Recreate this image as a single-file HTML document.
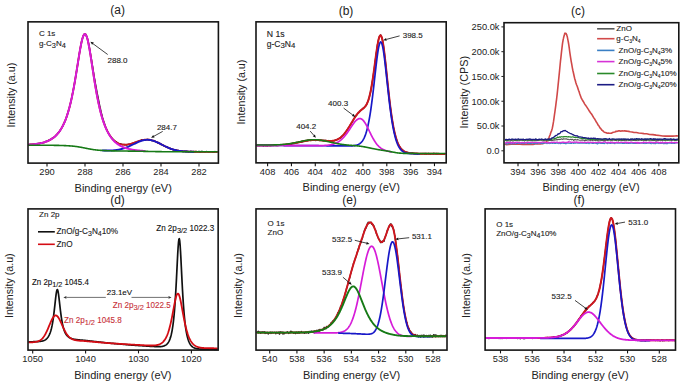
<!DOCTYPE html>
<html><head><meta charset="utf-8"><style>
html,body{margin:0;padding:0;background:#fff;}
svg{display:block;font-family:"Liberation Sans", sans-serif;}
</style></head><body>
<svg width="685" height="386" viewBox="0 0 685 386">
<rect width="685" height="386" fill="#fff"/>
<polyline points="28.50,145.04 29.00,144.74 29.50,144.64 30.00,144.22 30.50,144.50 31.00,144.44 31.50,144.46 32.00,144.31 32.50,144.38 33.00,144.25 33.50,144.03 34.00,144.42 34.50,144.36 35.00,144.47 35.50,144.07 36.00,143.92 36.50,143.82 37.00,143.55 37.50,143.98 38.00,143.48 38.50,143.38 39.00,143.49 39.50,143.74 40.00,143.39 40.50,143.03 41.00,142.99 41.50,143.14 42.00,142.86 42.50,142.62 43.00,142.59 43.50,142.65 44.00,142.75 44.50,141.95 45.00,141.91 45.50,141.71 46.00,141.21 46.50,141.32 47.00,141.10 47.50,141.32 48.00,140.85 48.50,140.33 49.00,140.54 49.50,140.09 50.00,139.55 50.50,139.50 51.00,139.21 51.50,138.84 52.00,138.70 52.50,137.90 53.00,137.94 53.50,137.82 54.00,137.40 54.50,137.04 55.00,136.60 55.50,136.22 56.00,135.22 56.50,135.11 57.00,134.03 57.50,133.73 58.00,132.88 58.50,132.86 59.00,132.27 59.50,131.28 60.00,130.96 60.50,129.71 61.00,129.09 61.50,128.25 62.00,127.13 62.50,126.51 63.00,125.84 63.50,124.23 64.00,123.54 64.50,122.20 65.00,121.40 65.50,119.90 66.00,118.62 66.50,117.24 67.00,115.71 67.50,113.86 68.00,112.81 68.50,110.58 69.00,109.14 69.50,107.36 70.00,105.13 70.50,103.30 71.00,101.38 71.50,98.92 72.00,96.43 72.50,93.60 73.00,91.48 73.50,88.94 74.00,86.25 74.50,83.36 75.00,80.75 75.50,77.60 76.00,74.66 76.50,71.74 77.00,68.31 77.50,65.27 78.00,62.60 78.50,59.21 79.00,55.69 79.50,52.91 80.00,50.13 80.50,47.49 81.00,44.68 81.50,42.16 82.00,39.97 82.50,38.38 83.00,36.76 83.50,35.37 84.00,34.57 84.50,34.03 85.00,34.15 85.50,34.14 86.00,35.03 86.50,36.12 87.00,37.41 87.50,38.83 88.00,41.25 88.50,43.07 89.00,45.75 89.50,48.15 90.00,50.74 90.50,54.03 91.00,57.02 91.50,59.98 92.00,63.10 92.50,65.98 93.00,69.01 93.50,72.14 94.00,75.54 94.50,78.26 95.00,80.88 95.50,83.94 96.00,86.52 96.50,89.27 97.00,92.22 97.50,94.57 98.00,96.92 98.50,99.60 99.00,102.25 99.50,104.65 100.00,107.20 100.50,109.05 101.00,111.50 101.50,113.51 102.00,115.38 102.50,117.46 103.00,119.19 103.50,120.62 104.00,122.61 104.50,123.67 105.00,125.35 105.50,126.68 106.00,128.02 106.50,128.97 107.00,130.22 107.50,131.24 108.00,132.44 108.50,133.00 109.00,134.04 109.50,134.79 110.00,135.35 110.50,136.87 111.00,137.00 111.50,137.36 112.00,138.54 112.50,138.61 113.00,139.43 113.50,140.03 114.00,140.20 114.50,140.69 115.00,141.08 115.50,141.55 116.00,141.61 116.50,142.03 117.00,142.56 117.50,143.08 118.00,143.26 118.50,143.72 119.00,143.73 119.50,143.69 120.00,143.95 120.50,143.72 121.00,144.08 121.50,144.19 122.00,144.55 122.50,144.71 123.00,144.53 123.50,144.58 124.00,144.42 124.50,144.72 125.00,144.80 125.50,144.82 126.00,144.55 126.50,145.06 127.00,144.85 127.50,144.53 128.00,144.36 128.50,144.31 129.00,144.31 129.50,144.16 130.00,144.14 130.50,144.06 131.00,144.04 131.50,143.85 132.00,143.45 132.50,143.39 133.00,143.07 133.50,142.86 134.00,143.18 134.50,142.53 135.00,142.84 135.50,142.19 136.00,142.13 136.50,142.12 137.00,141.72 137.50,141.62 138.00,141.32 138.50,141.10 139.00,140.99 139.50,140.74 140.00,141.04 140.50,140.53 141.00,140.77 141.50,139.75 142.00,140.17 142.50,140.16 143.00,139.89 143.50,140.08 144.00,139.90 144.50,139.65 145.00,139.74 145.50,140.17 146.00,139.63 146.50,139.62 147.00,139.47 147.50,139.59 148.00,139.33 148.50,139.59 149.00,140.17 149.50,139.96 150.00,139.96 150.50,140.14 151.00,140.40 151.50,140.26 152.00,140.69 152.50,140.64 153.00,140.61 153.50,141.09 154.00,140.45 154.50,141.00 155.00,141.36 155.50,141.33 156.00,141.70 156.50,141.82 157.00,142.05 157.50,142.96 158.00,142.78 158.50,142.89 159.00,143.42 159.50,143.36 160.00,143.84 160.50,143.99 161.00,144.51 161.50,144.16 162.00,144.86 162.50,144.99 163.00,144.99 163.50,145.69 164.00,145.56 164.50,146.31 165.00,146.33 165.50,146.61 166.00,146.73 166.50,147.13 167.00,146.81 167.50,147.42 168.00,147.50 168.50,147.89 169.00,148.03 169.50,148.37 170.00,148.27 170.50,148.99 171.00,149.27 171.50,148.94 172.00,149.14 172.50,149.37 173.00,149.71 173.50,149.99 174.00,149.51 174.50,149.76 175.00,149.80 175.50,149.91 176.00,149.92 176.50,150.43 177.00,150.23 177.50,150.86 178.00,150.83 178.50,150.53 179.00,150.61 179.50,150.77 180.00,151.24 180.50,150.86 181.00,150.79 181.50,151.14 182.00,151.28 182.50,151.12 183.00,151.62 183.50,151.39 184.00,151.47 184.50,151.25 185.00,151.45 185.50,151.45 186.00,151.06 186.50,151.60 187.00,151.21 187.50,151.58 188.00,151.31 188.50,152.03 189.00,151.71 189.50,151.83 190.00,151.86 190.50,151.42 191.00,151.24 191.50,151.64 192.00,151.90 192.50,151.75 193.00,151.89 193.50,151.93 194.00,151.45 194.50,151.81 195.00,152.15 195.50,151.65 196.00,151.36 196.50,151.73 197.00,151.68 197.50,151.86 198.00,151.60 198.50,151.80 199.00,151.34 199.50,151.96 200.00,152.11 200.50,152.05 201.00,151.49 201.50,151.86 202.00,151.20 202.50,151.85 203.00,151.78 203.50,151.60 204.00,151.86 204.50,151.82 205.00,151.99 205.50,151.82 206.00,151.84 206.50,151.41 207.00,151.57 207.50,151.70 208.00,151.86 208.50,151.80 209.00,152.10 209.50,151.63 210.00,151.75 210.50,151.85 211.00,151.75 211.50,151.90 212.00,151.69 212.50,152.08 213.00,151.74 213.50,152.02 214.00,151.79 214.50,152.10 215.00,151.52 215.50,151.90 216.00,151.71 216.50,151.85 217.00,152.04 217.50,151.57" fill="none" stroke="#111111" stroke-width="1.4" stroke-linejoin="round" /><polyline points="28.50,144.69 29.00,144.66 29.50,144.62 30.00,144.59 30.50,144.55 31.00,144.52 31.50,144.48 32.00,144.43 32.50,144.39 33.00,144.34 33.50,144.29 34.00,144.24 34.50,144.18 35.00,144.12 35.50,144.06 36.00,144.00 36.50,143.93 37.00,143.86 37.50,143.78 38.00,143.70 38.50,143.62 39.00,143.53 39.50,143.44 40.00,143.34 40.50,143.24 41.00,143.13 41.50,143.02 42.00,142.90 42.50,142.77 43.00,142.64 43.50,142.50 44.00,142.35 44.50,142.20 45.00,142.04 45.50,141.87 46.00,141.69 46.50,141.50 47.00,141.31 47.50,141.10 48.00,140.88 48.50,140.65 49.00,140.41 49.50,140.16 50.00,139.89 50.50,139.62 51.00,139.32 51.50,139.02 52.00,138.69 52.50,138.35 53.00,138.00 53.50,137.62 54.00,137.23 54.50,136.81 55.00,136.38 55.50,135.92 56.00,135.44 56.50,134.94 57.00,134.41 57.50,133.85 58.00,133.26 58.50,132.65 59.00,132.00 59.50,131.32 60.00,130.60 60.50,129.85 61.00,129.06 61.50,128.22 62.00,127.35 62.50,126.43 63.00,125.46 63.50,124.44 64.00,123.36 64.50,122.24 65.00,121.05 65.50,119.80 66.00,118.49 66.50,117.11 67.00,115.66 67.50,114.14 68.00,112.54 68.50,110.85 69.00,109.09 69.50,107.24 70.00,105.30 70.50,103.27 71.00,101.14 71.50,98.92 72.00,96.60 72.50,94.19 73.00,91.67 73.50,89.06 74.00,86.35 74.50,83.56 75.00,80.67 75.50,77.71 76.00,74.69 76.50,71.60 77.00,68.48 77.50,65.33 78.00,62.17 78.50,59.04 79.00,55.95 79.50,52.93 80.00,50.02 80.50,47.25 81.00,44.65 81.50,42.27 82.00,40.13 82.50,38.26 83.00,36.71 83.50,35.50 84.00,34.64 84.50,34.16 85.00,34.07 85.50,34.37 86.00,35.06 86.50,36.12 87.00,37.53 87.50,39.29 88.00,41.35 88.50,43.68 89.00,46.26 89.50,49.04 90.00,51.99 90.50,55.07 91.00,58.25 91.50,61.51 92.00,64.80 92.50,68.11 93.00,71.40 93.50,74.66 94.00,77.88 94.50,81.04 95.00,84.12 95.50,87.12 96.00,90.02 96.50,92.83 97.00,95.55 97.50,98.16 98.00,100.66 98.50,103.07 99.00,105.37 99.50,107.57 100.00,109.67 100.50,111.68 101.00,113.60 101.50,115.42 102.00,117.16 102.50,118.81 103.00,120.38 103.50,121.88 104.00,123.30 104.50,124.65 105.00,125.93 105.50,127.15 106.00,128.30 106.50,129.40 107.00,130.44 107.50,131.43 108.00,132.36 108.50,133.25 109.00,134.09 109.50,134.89 110.00,135.64 110.50,136.35 111.00,137.03 111.50,137.66 112.00,138.26 112.50,138.83 113.00,139.36 113.50,139.86 114.00,140.34 114.50,140.78 115.00,141.19 115.50,141.58 116.00,141.94 116.50,142.27 117.00,142.58 117.50,142.87 118.00,143.13 118.50,143.38 119.00,143.60 119.50,143.79 120.00,143.97 120.50,144.13 121.00,144.27 121.50,144.39 122.00,144.49 122.50,144.58 123.00,144.64 123.50,144.69 124.00,144.73 124.50,144.74 125.00,144.75 125.50,144.73 126.00,144.71 126.50,144.67 127.00,144.61 127.50,144.55 128.00,144.47 128.50,144.38 129.00,144.28 129.50,144.16 130.00,144.04 130.50,143.91 131.00,143.77 131.50,143.62 132.00,143.47 132.50,143.31 133.00,143.14 133.50,142.97 134.00,142.80 134.50,142.62 135.00,142.44 135.50,142.26 136.00,142.08 136.50,141.90 137.00,141.72 137.50,141.54 138.00,141.37 138.50,141.19 139.00,141.03 139.50,140.87 140.00,140.71 140.50,140.56 141.00,140.42 141.50,140.29 142.00,140.17 142.50,140.05 143.00,139.95 143.50,139.86 144.00,139.78 144.50,139.71 145.00,139.65 145.50,139.61 146.00,139.58 146.50,139.56 147.00,139.56 147.50,139.57 148.00,139.59 148.50,139.63 149.00,139.68 149.50,139.75 150.00,139.83 150.50,139.92 151.00,140.03 151.50,140.15 152.00,140.28 152.50,140.42 153.00,140.58 153.50,140.74 154.00,140.92 154.50,141.11 155.00,141.31 155.50,141.51 156.00,141.73 156.50,141.95 157.00,142.18 157.50,142.42 158.00,142.66 158.50,142.90 159.00,143.15 159.50,143.41 160.00,143.66 160.50,143.92 161.00,144.18 161.50,144.44 162.00,144.70 162.50,144.96 163.00,145.22 163.50,145.48 164.00,145.73 164.50,145.98 165.00,146.23 165.50,146.47 166.00,146.71 166.50,146.95 167.00,147.18 167.50,147.40 168.00,147.62 168.50,147.84 169.00,148.04 169.50,148.24 170.00,148.44 170.50,148.62 171.00,148.81 171.50,148.98 172.00,149.15 172.50,149.31 173.00,149.46 173.50,149.61 174.00,149.75 174.50,149.88 175.00,150.01 175.50,150.13 176.00,150.25 176.50,150.36 177.00,150.46 177.50,150.56 178.00,150.65 178.50,150.73 179.00,150.81 179.50,150.89 180.00,150.96 180.50,151.03 181.00,151.09 181.50,151.15 182.00,151.20 182.50,151.25 183.00,151.30 183.50,151.34 184.00,151.38 184.50,151.42 185.00,151.45 185.50,151.49 186.00,151.51 186.50,151.54 187.00,151.57 187.50,151.59 188.00,151.61 188.50,151.63 189.00,151.64 189.50,151.66 190.00,151.67 190.50,151.69 191.00,151.70 191.50,151.71 192.00,151.72 192.50,151.73 193.00,151.74 193.50,151.74 194.00,151.75 194.50,151.75 195.00,151.76 195.50,151.76 196.00,151.77 196.50,151.77 197.00,151.78 197.50,151.78 198.00,151.78 198.50,151.78 199.00,151.79 199.50,151.79 200.00,151.79 200.50,151.79 201.00,151.79 201.50,151.79 202.00,151.79 202.50,151.79 203.00,151.79 203.50,151.80 204.00,151.80 204.50,151.80 205.00,151.80 205.50,151.80 206.00,151.80 206.50,151.80 207.00,151.80 207.50,151.80 208.00,151.80 208.50,151.80 209.00,151.80 209.50,151.80 210.00,151.80 210.50,151.80 211.00,151.80 211.50,151.80 212.00,151.80 212.50,151.80 213.00,151.80 213.50,151.80 214.00,151.80 214.50,151.80 215.00,151.80 215.50,151.80 216.00,151.80 216.50,151.80 217.00,151.80 217.50,151.80" fill="none" stroke="#d0161e" stroke-width="1.8" stroke-linejoin="round" /><polyline points="102.00,150.39 102.50,150.42 103.00,150.44 103.50,150.46 104.00,150.47 104.50,150.49 105.00,150.50 105.50,150.51 106.00,150.52 106.50,150.52 107.00,150.53 107.50,150.53 108.00,150.52 108.50,150.52 109.00,150.51 109.50,150.50 110.00,150.49 110.50,150.47 111.00,150.45 111.50,150.43 112.00,150.40 112.50,150.37 113.00,150.33 113.50,150.30 114.00,150.25 114.50,150.21 115.00,150.16 115.50,150.10 116.00,150.04 116.50,149.97 117.00,149.90 117.50,149.83 118.00,149.74 118.50,149.66 119.00,149.56 119.50,149.46 120.00,149.36 120.50,149.25 121.00,149.13 121.50,149.01 122.00,148.88 122.50,148.74 123.00,148.59 123.50,148.44 124.00,148.29 124.50,148.12 125.00,147.95 125.50,147.78 126.00,147.59 126.50,147.40 127.00,147.21 127.50,147.01 128.00,146.80 128.50,146.59 129.00,146.37 129.50,146.15 130.00,145.92 130.50,145.69 131.00,145.46 131.50,145.22 132.00,144.98 132.50,144.74 133.00,144.50 133.50,144.26 134.00,144.01 134.50,143.77 135.00,143.53 135.50,143.29 136.00,143.05 136.50,142.81 137.00,142.58 137.50,142.36 138.00,142.14 138.50,141.92 139.00,141.71 139.50,141.51 140.00,141.32 140.50,141.14 141.00,140.97 141.50,140.80 142.00,140.65 142.50,140.51 143.00,140.38 143.50,140.26 144.00,140.16 144.50,140.07 145.00,139.99 145.50,139.93 146.00,139.88 146.50,139.84 147.00,139.82 147.50,139.82 148.00,139.83 148.50,139.85 149.00,139.89 149.50,139.94 150.00,140.01 150.50,140.09 151.00,140.19 151.50,140.30 152.00,140.42 152.50,140.55 153.00,140.70 153.50,140.86 154.00,141.03 154.50,141.21 155.00,141.40 155.50,141.60 156.00,141.81 156.50,142.03 157.00,142.25 157.50,142.48 158.00,142.72 158.50,142.96 159.00,143.21 159.50,143.46 160.00,143.71 160.50,143.97 161.00,144.22 161.50,144.48 162.00,144.74 162.50,145.00 163.00,145.25 163.50,145.51 164.00,145.76 164.50,146.01 165.00,146.25 165.50,146.50 166.00,146.73 166.50,146.97 167.00,147.20 167.50,147.42 168.00,147.64 168.50,147.85 169.00,148.06 169.50,148.26 170.00,148.45 170.50,148.64 171.00,148.82 171.50,148.99 172.00,149.16 172.50,149.32 173.00,149.47 173.50,149.62 174.00,149.76 174.50,149.89 175.00,150.02 175.50,150.14 176.00,150.25 176.50,150.36 177.00,150.46 177.50,150.56 178.00,150.65 178.50,150.74 179.00,150.82 179.50,150.89 180.00,150.96 180.50,151.03 181.00,151.09 181.50,151.15 182.00,151.20 182.50,151.25 183.00,151.30 183.50,151.34 184.00,151.38 184.50,151.42 185.00,151.45 185.50,151.49 186.00,151.52 186.50,151.54 187.00,151.57 187.50,151.59 188.00,151.61 188.50,151.63 189.00,151.64 189.50,151.66 190.00,151.67 190.50,151.69 191.00,151.70 191.50,151.71 192.00,151.72 192.50,151.73 193.00,151.74 193.50,151.74 194.00,151.75" fill="none" stroke="#1818c8" stroke-width="1.9" stroke-linejoin="round" /><polyline points="28.50,144.69 29.00,144.66 29.50,144.62 30.00,144.59 30.50,144.55 31.00,144.52 31.50,144.48 32.00,144.43 32.50,144.39 33.00,144.34 33.50,144.29 34.00,144.24 34.50,144.18 35.00,144.12 35.50,144.06 36.00,144.00 36.50,143.93 37.00,143.86 37.50,143.78 38.00,143.70 38.50,143.62 39.00,143.53 39.50,143.44 40.00,143.34 40.50,143.24 41.00,143.13 41.50,143.02 42.00,142.90 42.50,142.77 43.00,142.64 43.50,142.50 44.00,142.35 44.50,142.20 45.00,142.04 45.50,141.87 46.00,141.69 46.50,141.50 47.00,141.31 47.50,141.10 48.00,140.88 48.50,140.65 49.00,140.41 49.50,140.16 50.00,139.89 50.50,139.62 51.00,139.32 51.50,139.02 52.00,138.69 52.50,138.35 53.00,138.00 53.50,137.62 54.00,137.23 54.50,136.81 55.00,136.38 55.50,135.92 56.00,135.44 56.50,134.94 57.00,134.41 57.50,133.85 58.00,133.26 58.50,132.65 59.00,132.00 59.50,131.32 60.00,130.60 60.50,129.85 61.00,129.06 61.50,128.22 62.00,127.35 62.50,126.43 63.00,125.46 63.50,124.44 64.00,123.36 64.50,122.24 65.00,121.05 65.50,119.80 66.00,118.49 66.50,117.11 67.00,115.66 67.50,114.14 68.00,112.54 68.50,110.85 69.00,109.09 69.50,107.24 70.00,105.30 70.50,103.27 71.00,101.14 71.50,98.92 72.00,96.60 72.50,94.19 73.00,91.67 73.50,89.06 74.00,86.35 74.50,83.56 75.00,80.67 75.50,77.71 76.00,74.69 76.50,71.60 77.00,68.48 77.50,65.33 78.00,62.17 78.50,59.04 79.00,55.95 79.50,52.93 80.00,50.02 80.50,47.25 81.00,44.65 81.50,42.27 82.00,40.13 82.50,38.26 83.00,36.71 83.50,35.50 84.00,34.64 84.50,34.16 85.00,34.07 85.50,34.37 86.00,35.06 86.50,36.12 87.00,37.54 87.50,39.29 88.00,41.35 88.50,43.68 89.00,46.26 89.50,49.04 90.00,51.99 90.50,55.07 91.00,58.26 91.50,61.51 92.00,64.80 92.50,68.11 93.00,71.41 93.50,74.67 94.00,77.89 94.50,81.05 95.00,84.13 95.50,87.13 96.00,90.04 96.50,92.85 97.00,95.56 97.50,98.17 98.00,100.68 98.50,103.09 99.00,105.40 99.50,107.60 100.00,109.71 100.50,111.72 101.00,113.64 101.50,115.47 102.00,117.21 102.50,118.87 103.00,120.45 103.50,121.96 104.00,123.39 104.50,124.75 105.00,126.04 105.50,127.27 106.00,128.44 106.50,129.55 107.00,130.61 107.50,131.61 108.00,132.57 108.50,133.48 109.00,134.34 109.50,135.16 110.00,135.95 110.50,136.69 111.00,137.40 111.50,138.07 112.00,138.71 112.50,139.32 113.00,139.89 113.50,140.44 114.00,140.97 114.50,141.47 115.00,141.94 115.50,142.39 116.00,142.82 116.50,143.23 117.00,143.62 117.50,143.99 118.00,144.34 118.50,144.68 119.00,145.00 119.50,145.30 120.00,145.59 120.50,145.87 121.00,146.13 121.50,146.38 122.00,146.62 122.50,146.85 123.00,147.07 123.50,147.27 124.00,147.47 124.50,147.66 125.00,147.83 125.50,148.00 126.00,148.17 126.50,148.32 127.00,148.47 127.50,148.61 128.00,148.74 128.50,148.87 129.00,148.99 129.50,149.11 130.00,149.22 130.50,149.32 131.00,149.43 131.50,149.52 132.00,149.61 132.50,149.70 133.00,149.79 133.50,149.87 134.00,149.94 134.50,150.02 135.00,150.09 135.50,150.15 136.00,150.22 136.50,150.28 137.00,150.34 137.50,150.40 138.00,150.45 138.50,150.50 139.00,150.55 139.50,150.60 140.00,150.65 140.50,150.69 141.00,150.73 141.50,150.77 142.00,150.81 142.50,150.85 143.00,150.89 143.50,150.92 144.00,150.96 144.50,150.99 145.00,151.02 145.50,151.05" fill="none" stroke="#d61cd8" stroke-width="2.0" stroke-linejoin="round" /><polyline points="28.50,145.20 29.00,145.20 29.50,145.20 30.00,145.20 30.50,145.20 31.00,145.20 31.50,145.20 32.00,145.20 32.50,145.20 33.00,145.21 33.50,145.21 34.00,145.21 34.50,145.21 35.00,145.21 35.50,145.21 36.00,145.21 36.50,145.21 37.00,145.21 37.50,145.21 38.00,145.22 38.50,145.22 39.00,145.22 39.50,145.22 40.00,145.22 40.50,145.22 41.00,145.23 41.50,145.23 42.00,145.23 42.50,145.23 43.00,145.23 43.50,145.24 44.00,145.24 44.50,145.24 45.00,145.24 45.50,145.25 46.00,145.25 46.50,145.25 47.00,145.26 47.50,145.26 48.00,145.26 48.50,145.27 49.00,145.27 49.50,145.28 50.00,145.28 50.50,145.29 51.00,145.29 51.50,145.30 52.00,145.30 52.50,145.31 53.00,145.31 53.50,145.32 54.00,145.33 54.50,145.34 55.00,145.34 55.50,145.35 56.00,145.36 56.50,145.37 57.00,145.38 57.50,145.39 58.00,145.40 58.50,145.41 59.00,145.42 59.50,145.43 60.00,145.45 60.50,145.46 61.00,145.47 61.50,145.49 62.00,145.51 62.50,145.52 63.00,145.54 63.50,145.56 64.00,145.58 64.50,145.60 65.00,145.62 65.50,145.64 66.00,145.66 66.50,145.69 67.00,145.72 67.50,145.74 68.00,145.77 68.50,145.80 69.00,145.83 69.50,145.87 70.00,145.90 70.50,145.94 71.00,145.98 71.50,146.02 72.00,146.06 72.50,146.11 73.00,146.15 73.50,146.20 74.00,146.26 74.50,146.31 75.00,146.37 75.50,146.43 76.00,146.49 76.50,146.56 77.00,146.62 77.50,146.70 78.00,146.77 78.50,146.85 79.00,146.93 79.50,147.01 80.00,147.10 80.50,147.18 81.00,147.28 81.50,147.37 82.00,147.46 82.50,147.56 83.00,147.66 83.50,147.76 84.00,147.87 84.50,147.97 85.00,148.07 85.50,148.18 86.00,148.28 86.50,148.38 87.00,148.49 87.50,148.59 88.00,148.69 88.50,148.78 89.00,148.88 89.50,148.97 90.00,149.07 90.50,149.15 91.00,149.24 91.50,149.32 92.00,149.40 92.50,149.48 93.00,149.55 93.50,149.63 94.00,149.69 94.50,149.76 95.00,149.82 95.50,149.88 96.00,149.94 96.50,149.99 97.00,150.05 97.50,150.10 98.00,150.14 98.50,150.19 99.00,150.23 99.50,150.27 100.00,150.31 100.50,150.35 101.00,150.38 101.50,150.42 102.00,150.45 102.50,150.48 103.00,150.51 103.50,150.53 104.00,150.56 104.50,150.59 105.00,150.61 105.50,150.63 106.00,150.65 106.50,150.67 107.00,150.69 107.50,150.71 108.00,150.73 108.50,150.75 109.00,150.76 109.50,150.78 110.00,150.79 110.50,150.81 111.00,150.82 111.50,150.83 112.00,150.84 112.50,150.85 113.00,150.87 113.50,150.88 114.00,150.89 114.50,150.90 115.00,150.90 115.50,150.91 116.00,150.92 116.50,150.93 117.00,150.94 117.50,150.95 118.00,150.95 118.50,150.96 119.00,150.97 119.50,150.97 120.00,150.98 120.50,150.99 121.00,150.99 121.50,151.00 122.00,151.01 122.50,151.01 123.00,151.02 123.50,151.02 124.00,151.03 124.50,151.03 125.00,151.04 125.50,151.05 126.00,151.05 126.50,151.06 127.00,151.06 127.50,151.07 128.00,151.08 128.50,151.08 129.00,151.09 129.50,151.09 130.00,151.10 130.50,151.11 131.00,151.11 131.50,151.12 132.00,151.13 132.50,151.13 133.00,151.14 133.50,151.15 134.00,151.16 134.50,151.16 135.00,151.17 135.50,151.18 136.00,151.19 136.50,151.20 137.00,151.20 137.50,151.21 138.00,151.22 138.50,151.23 139.00,151.24 139.50,151.25 140.00,151.26 140.50,151.27 141.00,151.28 141.50,151.29 142.00,151.30 142.50,151.31 143.00,151.32 143.50,151.33 144.00,151.34 144.50,151.35 145.00,151.36 145.50,151.37 146.00,151.38 146.50,151.39 147.00,151.40 147.50,151.41 148.00,151.42 148.50,151.43 149.00,151.45 149.50,151.46 150.00,151.47 150.50,151.48 151.00,151.49 151.50,151.50 152.00,151.51 152.50,151.52 153.00,151.53 153.50,151.54 154.00,151.55 154.50,151.56 155.00,151.57 155.50,151.58 156.00,151.59 156.50,151.60 157.00,151.60 157.50,151.61 158.00,151.62 158.50,151.63 159.00,151.64 159.50,151.65 160.00,151.65 160.50,151.66 161.00,151.67 161.50,151.67 162.00,151.68 162.50,151.69 163.00,151.69 163.50,151.70 164.00,151.70 164.50,151.71 165.00,151.72 165.50,151.72 166.00,151.73 166.50,151.73 167.00,151.73 167.50,151.74 168.00,151.74 168.50,151.75 169.00,151.75 169.50,151.75 170.00,151.76 170.50,151.76 171.00,151.76 171.50,151.76 172.00,151.77 172.50,151.77 173.00,151.77 173.50,151.77 174.00,151.78 174.50,151.78 175.00,151.78 175.50,151.78 176.00,151.78 176.50,151.78 177.00,151.79 177.50,151.79 178.00,151.79 178.50,151.79 179.00,151.79 179.50,151.79 180.00,151.79 180.50,151.79 181.00,151.79 181.50,151.79 182.00,151.79 182.50,151.79 183.00,151.80 183.50,151.80 184.00,151.80 184.50,151.80 185.00,151.80 185.50,151.80 186.00,151.80 186.50,151.80 187.00,151.80 187.50,151.80 188.00,151.80 188.50,151.80 189.00,151.80 189.50,151.80 190.00,151.80 190.50,151.80 191.00,151.80 191.50,151.80 192.00,151.80 192.50,151.80 193.00,151.80 193.50,151.80 194.00,151.80 194.50,151.80 195.00,151.80 195.50,151.80 196.00,151.80 196.50,151.80 197.00,151.80 197.50,151.80 198.00,151.80 198.50,151.80 199.00,151.80 199.50,151.80 200.00,151.80 200.50,151.80 201.00,151.80 201.50,151.80 202.00,151.80 202.50,151.80 203.00,151.80 203.50,151.80 204.00,151.80 204.50,151.80 205.00,151.80 205.50,151.80 206.00,151.80 206.50,151.80 207.00,151.80 207.50,151.80 208.00,151.80 208.50,151.80 209.00,151.80 209.50,151.80 210.00,151.80 210.50,151.80 211.00,151.80 211.50,151.80 212.00,151.80 212.50,151.80 213.00,151.80 213.50,151.80 214.00,151.80 214.50,151.80 215.00,151.80 215.50,151.80 216.00,151.80 216.50,151.80 217.00,151.80 217.50,151.80" fill="none" stroke="#167a16" stroke-width="1.6" stroke-linejoin="round" /><rect x="28" y="21.85" width="190.4" height="141.25" fill="none" stroke="#151515" stroke-width="1.6"/><line x1="47.0" y1="163.1" x2="47.0" y2="166.4" stroke="#151515" stroke-width="1.1"/><text x="47.0" y="175.2" font-size="9.3" fill="#222" text-anchor="middle" >290</text><line x1="85.0" y1="163.1" x2="85.0" y2="166.4" stroke="#151515" stroke-width="1.1"/><text x="85.0" y="175.2" font-size="9.3" fill="#222" text-anchor="middle" >288</text><line x1="123.0" y1="163.1" x2="123.0" y2="166.4" stroke="#151515" stroke-width="1.1"/><text x="123.0" y="175.2" font-size="9.3" fill="#222" text-anchor="middle" >286</text><line x1="161.0" y1="163.1" x2="161.0" y2="166.4" stroke="#151515" stroke-width="1.1"/><text x="161.0" y="175.2" font-size="9.3" fill="#222" text-anchor="middle" >284</text><line x1="199.0" y1="163.1" x2="199.0" y2="166.4" stroke="#151515" stroke-width="1.1"/><text x="199.0" y="175.2" font-size="9.3" fill="#222" text-anchor="middle" >282</text><text x="38.9" y="35.9" font-size="8" fill="#222" stroke="#222" stroke-width="0.12" text-anchor="start" >C 1s</text><text x="38.9" y="45.6" font-size="8" fill="#222" stroke="#222" stroke-width="0.12" text-anchor="start" >g-C<tspan font-size="7.4" dy="2.4">3</tspan><tspan dy="-2.40">N<tspan font-size="7.4" dy="2.4">4</tspan></tspan></text><line x1="107.7" y1="54.5" x2="92.98" y2="43.69" stroke="#111" stroke-width="0.8"/><polygon points="90.40,41.80 93.81,42.57 92.15,44.82" fill="#111"/><text x="107.5" y="62.7" font-size="8" fill="#222" stroke="#222" stroke-width="0.12" text-anchor="start" >288.0</text><line x1="162.7" y1="131.4" x2="153.90" y2="136.25" stroke="#111" stroke-width="0.8"/><polygon points="151.10,137.80 153.23,135.03 154.58,137.48" fill="#111"/><text x="156.9" y="129.9" font-size="8" fill="#222" stroke="#222" stroke-width="0.12" text-anchor="start" >284.7</text><text x="117.6" y="14.4" font-size="12" fill="#222" text-anchor="middle" >(a)</text><text x="123.2" y="191.6" font-size="11.0" fill="#222" text-anchor="middle" >Binding energy (eV)</text><text x="0" y="0" font-size="10.7" fill="#222" text-anchor="middle" transform="translate(14.9,95.15) rotate(-90)">Intensity (a.u)</text>
<polyline points="256.60,145.13 257.00,145.20 257.40,145.45 257.80,145.03 258.20,145.42 258.60,145.15 259.00,145.18 259.40,145.33 259.80,145.48 260.20,145.28 260.60,145.31 261.00,145.40 261.40,145.36 261.80,144.88 262.20,145.33 262.60,145.43 263.00,145.63 263.40,145.82 263.80,145.55 264.20,145.43 264.60,145.22 265.00,145.43 265.40,145.57 265.80,145.66 266.20,145.23 266.60,145.45 267.00,145.57 267.40,145.78 267.80,145.45 268.20,145.29 268.60,145.26 269.00,145.32 269.40,145.26 269.80,145.55 270.20,145.59 270.60,145.52 271.00,145.61 271.40,145.27 271.80,145.43 272.20,145.27 272.60,145.35 273.00,145.58 273.40,145.32 273.80,144.95 274.20,145.26 274.60,145.16 275.00,144.99 275.40,145.12 275.80,145.45 276.20,145.59 276.60,145.14 277.00,145.42 277.40,145.44 277.80,144.95 278.20,145.16 278.60,145.14 279.00,145.16 279.40,144.79 279.80,145.01 280.20,145.27 280.60,145.29 281.00,145.37 281.40,144.91 281.80,145.32 282.20,145.05 282.60,144.61 283.00,145.00 283.40,144.75 283.80,144.88 284.20,144.72 284.60,144.94 285.00,144.71 285.40,144.56 285.80,144.77 286.20,144.58 286.60,144.40 287.00,144.69 287.40,144.30 287.80,144.20 288.20,144.16 288.60,143.92 289.00,144.05 289.40,144.47 289.80,143.85 290.20,143.97 290.60,143.68 291.00,143.72 291.40,144.08 291.80,143.88 292.20,143.51 292.60,143.56 293.00,143.32 293.40,143.25 293.80,143.15 294.20,143.07 294.60,143.24 295.00,143.21 295.40,143.11 295.80,142.89 296.20,142.57 296.60,142.75 297.00,142.49 297.40,142.76 297.80,142.61 298.20,142.56 298.60,142.26 299.00,141.88 299.40,142.35 299.80,142.31 300.20,141.68 300.60,141.92 301.00,142.05 301.40,141.51 301.80,141.99 302.20,141.48 302.60,141.26 303.00,141.66 303.40,141.37 303.80,141.10 304.20,141.33 304.60,140.68 305.00,141.36 305.40,140.76 305.80,140.91 306.20,140.71 306.60,140.81 307.00,140.83 307.40,140.43 307.80,140.69 308.20,140.42 308.60,140.29 309.00,140.33 309.40,140.13 309.80,140.12 310.20,140.43 310.60,140.17 311.00,140.40 311.40,140.22 311.80,139.90 312.20,139.70 312.60,139.92 313.00,140.09 313.40,140.03 313.80,139.85 314.20,140.21 314.60,139.65 315.00,139.74 315.40,140.02 315.80,140.44 316.20,140.09 316.60,139.82 317.00,140.15 317.40,140.19 317.80,140.26 318.20,140.01 318.60,139.96 319.00,140.17 319.40,140.26 319.80,140.52 320.20,140.66 320.60,140.13 321.00,140.21 321.40,140.34 321.80,140.34 322.20,140.52 322.60,140.56 323.00,140.56 323.40,140.82 323.80,140.56 324.20,140.42 324.60,140.36 325.00,140.51 325.40,140.54 325.80,140.41 326.20,140.95 326.60,140.89 327.00,140.80 327.40,140.73 327.80,140.62 328.20,140.77 328.60,141.34 329.00,140.54 329.40,141.02 329.80,141.14 330.20,141.01 330.60,140.91 331.00,141.11 331.40,140.72 331.80,141.02 332.20,141.15 332.60,140.61 333.00,140.60 333.40,140.73 333.80,140.83 334.20,140.81 334.60,140.59 335.00,140.21 335.40,140.00 335.80,140.15 336.20,140.04 336.60,139.58 337.00,139.65 337.40,139.52 337.80,139.47 338.20,138.85 338.60,138.94 339.00,138.35 339.40,138.24 339.80,138.04 340.20,138.07 340.60,138.12 341.00,137.18 341.40,136.89 341.80,136.64 342.20,135.78 342.60,135.81 343.00,135.00 343.40,135.14 343.80,134.66 344.20,134.00 344.60,133.25 345.00,133.24 345.40,132.45 345.80,131.89 346.20,131.44 346.60,130.42 347.00,130.27 347.40,129.80 347.80,129.06 348.20,128.40 348.60,127.55 349.00,127.23 349.40,126.49 349.80,125.80 350.20,125.02 350.60,124.63 351.00,124.03 351.40,123.19 351.80,122.61 352.20,122.02 352.60,121.40 353.00,120.46 353.40,119.71 353.80,119.01 354.20,118.45 354.60,117.93 355.00,117.38 355.40,116.52 355.80,116.07 356.20,115.28 356.60,115.20 357.00,114.35 357.40,113.99 357.80,113.30 358.20,112.91 358.60,112.39 359.00,112.43 359.40,111.75 359.80,111.24 360.20,110.70 360.60,110.42 361.00,110.32 361.40,110.22 361.80,109.28 362.20,109.07 362.60,108.91 363.00,108.50 363.40,107.96 363.80,107.94 364.20,107.71 364.60,106.82 365.00,106.72 365.40,106.38 365.80,105.83 366.20,104.92 366.60,104.77 367.00,103.64 367.40,102.49 367.80,101.87 368.20,100.37 368.60,99.57 369.00,97.81 369.40,96.77 369.80,94.91 370.20,93.53 370.60,91.58 371.00,89.52 371.40,87.29 371.80,85.21 372.20,82.21 372.60,80.10 373.00,77.43 373.40,74.68 373.80,71.87 374.20,69.50 374.60,65.79 375.00,62.91 375.40,59.76 375.80,57.05 376.20,53.39 376.60,51.30 377.00,48.11 377.40,45.24 377.80,43.13 378.20,41.20 378.60,39.44 379.00,37.87 379.40,36.85 379.80,35.84 380.20,35.38 380.60,34.91 381.00,35.77 381.40,36.61 381.80,37.46 382.20,38.68 382.60,40.67 383.00,43.49 383.40,45.57 383.80,48.37 384.20,51.41 384.60,54.99 385.00,58.19 385.40,61.74 385.80,65.33 386.20,69.40 386.60,73.46 387.00,77.07 387.40,81.11 387.80,84.77 388.20,88.50 388.60,92.17 389.00,95.71 389.40,99.39 389.80,102.65 390.20,105.68 390.60,108.93 391.00,111.86 391.40,114.81 391.80,117.45 392.20,120.06 392.60,122.10 393.00,124.76 393.40,127.11 393.80,128.60 394.20,131.09 394.60,132.61 395.00,134.17 395.40,135.40 395.80,137.43 396.20,138.37 396.60,139.72 397.00,141.10 397.40,141.87 397.80,142.88 398.20,143.76 398.60,144.79 399.00,145.69 399.40,146.35 399.80,147.00 400.20,147.44 400.60,148.08 401.00,148.41 401.40,149.41 401.80,149.47 402.20,149.43 402.60,149.96 403.00,150.83 403.40,150.53 403.80,150.99 404.20,151.40 404.60,151.31 405.00,151.93 405.40,152.23 405.80,151.88 406.20,152.41 406.60,152.14 407.00,152.24 407.40,152.59 407.80,152.69 408.20,152.61 408.60,152.98 409.00,152.59 409.40,152.78 409.80,152.80 410.20,153.22 410.60,153.28 411.00,153.30 411.40,152.96 411.80,153.28 412.20,153.38 412.60,153.00 413.00,153.20 413.40,153.52 413.80,153.56 414.20,153.49 414.60,153.57 415.00,153.55 415.40,153.54 415.80,153.51 416.20,153.37 416.60,153.51 417.00,153.50 417.40,154.06 417.80,153.66 418.20,153.62 418.60,153.59 419.00,153.63 419.40,153.61 419.80,153.78 420.20,153.68 420.60,153.85 421.00,153.56 421.40,153.78 421.80,153.89 422.20,153.49 422.60,153.77 423.00,153.79 423.40,153.68 423.80,153.66 424.20,153.39 424.60,154.00 425.00,153.59 425.40,153.53 425.80,153.91 426.20,153.42 426.60,153.99 427.00,153.88 427.40,153.92 427.80,153.77 428.20,153.57 428.60,153.44 429.00,154.11 429.40,153.73 429.80,153.72 430.20,154.14 430.60,153.70 431.00,153.79 431.40,153.79 431.80,153.81 432.20,153.63 432.60,153.73 433.00,154.10 433.40,154.00 433.80,153.26 434.20,153.46 434.60,153.92 435.00,153.83 435.40,153.78 435.80,154.07 436.20,153.51 436.60,154.10 437.00,153.89 437.40,153.98 437.80,153.92 438.20,154.04 438.60,153.82 439.00,153.77 439.40,154.03 439.80,153.91 440.20,153.63 440.60,154.15 441.00,154.12 441.40,154.17 441.80,153.90 442.20,153.96 442.60,153.81 443.00,153.69 443.40,153.90 443.80,153.93 444.20,153.76 444.60,154.26 445.00,153.57 445.40,153.73" fill="none" stroke="#111111" stroke-width="1.4" stroke-linejoin="round" /><polyline points="256.60,145.40 257.00,145.40 257.40,145.40 257.80,145.40 258.20,145.40 258.60,145.40 259.00,145.41 259.40,145.41 259.80,145.41 260.20,145.41 260.60,145.41 261.00,145.41 261.40,145.41 261.80,145.41 262.20,145.41 262.60,145.41 263.00,145.41 263.40,145.41 263.80,145.41 264.20,145.41 264.60,145.41 265.00,145.41 265.40,145.41 265.80,145.41 266.20,145.41 266.60,145.41 267.00,145.41 267.40,145.40 267.80,145.40 268.20,145.40 268.60,145.40 269.00,145.39 269.40,145.39 269.80,145.38 270.20,145.38 270.60,145.38 271.00,145.37 271.40,145.36 271.80,145.36 272.20,145.35 272.60,145.34 273.00,145.34 273.40,145.33 273.80,145.32 274.20,145.31 274.60,145.30 275.00,145.29 275.40,145.28 275.80,145.26 276.20,145.25 276.60,145.23 277.00,145.22 277.40,145.20 277.80,145.19 278.20,145.17 278.60,145.15 279.00,145.13 279.40,145.10 279.80,145.08 280.20,145.06 280.60,145.03 281.00,145.01 281.40,144.98 281.80,144.95 282.20,144.92 282.60,144.89 283.00,144.85 283.40,144.82 283.80,144.78 284.20,144.74 284.60,144.70 285.00,144.66 285.40,144.62 285.80,144.57 286.20,144.53 286.60,144.48 287.00,144.43 287.40,144.38 287.80,144.33 288.20,144.27 288.60,144.21 289.00,144.16 289.40,144.10 289.80,144.03 290.20,143.97 290.60,143.91 291.00,143.84 291.40,143.77 291.80,143.70 292.20,143.63 292.60,143.56 293.00,143.48 293.40,143.41 293.80,143.33 294.20,143.25 294.60,143.17 295.00,143.09 295.40,143.01 295.80,142.93 296.20,142.84 296.60,142.76 297.00,142.67 297.40,142.59 297.80,142.50 298.20,142.42 298.60,142.33 299.00,142.24 299.40,142.15 299.80,142.07 300.20,141.98 300.60,141.89 301.00,141.81 301.40,141.72 301.80,141.64 302.20,141.55 302.60,141.47 303.00,141.39 303.40,141.31 303.80,141.23 304.20,141.15 304.60,141.07 305.00,141.00 305.40,140.93 305.80,140.86 306.20,140.79 306.60,140.72 307.00,140.66 307.40,140.60 307.80,140.54 308.20,140.48 308.60,140.43 309.00,140.38 309.40,140.33 309.80,140.28 310.20,140.24 310.60,140.20 311.00,140.17 311.40,140.13 311.80,140.11 312.20,140.08 312.60,140.06 313.00,140.04 313.40,140.02 313.80,140.01 314.20,140.00 314.60,140.00 315.00,140.00 315.40,140.00 315.80,140.00 316.20,140.01 316.60,140.02 317.00,140.03 317.40,140.05 317.80,140.07 318.20,140.09 318.60,140.12 319.00,140.14 319.40,140.17 319.80,140.20 320.20,140.24 320.60,140.27 321.00,140.31 321.40,140.35 321.80,140.39 322.20,140.43 322.60,140.47 323.00,140.51 323.40,140.55 323.80,140.59 324.20,140.63 324.60,140.67 325.00,140.71 325.40,140.75 325.80,140.79 326.20,140.82 326.60,140.85 327.00,140.88 327.40,140.91 327.80,140.93 328.20,140.95 328.60,140.97 329.00,140.98 329.40,140.99 329.80,140.99 330.20,140.99 330.60,140.98 331.00,140.96 331.40,140.94 331.80,140.91 332.20,140.87 332.60,140.82 333.00,140.77 333.40,140.70 333.80,140.63 334.20,140.54 334.60,140.45 335.00,140.34 335.40,140.23 335.80,140.10 336.20,139.96 336.60,139.80 337.00,139.64 337.40,139.46 337.80,139.26 338.20,139.05 338.60,138.82 339.00,138.58 339.40,138.33 339.80,138.05 340.20,137.76 340.60,137.46 341.00,137.13 341.40,136.79 341.80,136.43 342.20,136.06 342.60,135.66 343.00,135.25 343.40,134.82 343.80,134.37 344.20,133.90 344.60,133.41 345.00,132.91 345.40,132.40 345.80,131.87 346.20,131.33 346.60,130.77 347.00,130.19 347.40,129.60 347.80,128.99 348.20,128.37 348.60,127.75 349.00,127.10 349.40,126.45 349.80,125.80 350.20,125.13 350.60,124.46 351.00,123.78 351.40,123.11 351.80,122.43 352.20,121.75 352.60,121.08 353.00,120.41 353.40,119.75 353.80,119.09 354.20,118.45 354.60,117.82 355.00,117.19 355.40,116.61 355.80,116.04 356.20,115.48 356.60,114.94 357.00,114.42 357.40,113.92 357.80,113.44 358.20,112.97 358.60,112.53 359.00,112.09 359.40,111.68 359.80,111.27 360.20,110.89 360.60,110.54 361.00,110.21 361.40,109.88 361.80,109.57 362.20,109.26 362.60,108.95 363.00,108.63 363.40,108.29 363.80,107.94 364.20,107.56 364.60,107.14 365.00,106.68 365.40,106.18 365.80,105.63 366.20,105.01 366.60,104.31 367.00,103.53 367.40,102.65 367.80,101.68 368.20,100.59 368.60,99.39 369.00,98.07 369.40,96.61 369.80,95.03 370.20,93.30 370.60,91.43 371.00,89.43 371.40,87.28 371.80,84.99 372.20,82.57 372.60,80.02 373.00,77.35 373.40,74.57 373.80,71.70 374.20,68.76 374.60,65.77 375.00,62.75 375.40,59.73 375.80,56.73 376.20,53.80 376.60,50.96 377.00,48.25 377.40,45.70 377.80,43.35 378.20,41.24 378.60,39.40 379.00,37.87 379.40,36.68 379.80,35.85 380.20,35.40 380.60,35.34 381.00,35.67 381.40,36.41 381.80,37.54 382.20,39.06 382.60,40.94 383.00,43.16 383.40,45.69 383.80,48.50 384.20,51.57 384.60,54.85 385.00,58.31 385.40,61.92 385.80,65.63 386.20,69.42 386.60,73.26 387.00,77.10 387.40,80.94 387.80,84.74 388.20,88.47 388.60,92.13 389.00,95.70 389.40,99.19 389.80,102.55 390.20,105.79 390.60,108.90 391.00,111.88 391.40,114.72 391.80,117.41 392.20,119.97 392.60,122.40 393.00,124.69 393.40,126.84 393.80,128.87 394.20,130.77 394.60,132.55 395.00,134.21 395.40,135.76 395.80,137.21 396.20,138.56 396.60,139.82 397.00,140.99 397.40,142.07 397.80,143.08 398.20,143.99 398.60,144.81 399.00,145.57 399.40,146.27 399.80,146.91 400.20,147.51 400.60,148.05 401.00,148.55 401.40,149.01 401.80,149.43 402.20,149.82 402.60,150.18 403.00,150.51 403.40,150.81 403.80,151.08 404.20,151.32 404.60,151.53 405.00,151.72 405.40,151.89 405.80,152.05 406.20,152.19 406.60,152.32 407.00,152.44 407.40,152.54 407.80,152.64 408.20,152.73 408.60,152.81 409.00,152.88 409.40,152.95 409.80,153.01 410.20,153.07 410.60,153.12 411.00,153.17 411.40,153.21 411.80,153.26 412.20,153.29 412.60,153.33 413.00,153.36 413.40,153.39 413.80,153.42 414.20,153.44 414.60,153.47 415.00,153.49 415.40,153.51 415.80,153.53 416.20,153.55 416.60,153.56 417.00,153.58 417.40,153.60 417.80,153.61 418.20,153.62 418.60,153.64 419.00,153.65 419.40,153.66 419.80,153.67 420.20,153.68 420.60,153.69 421.00,153.70 421.40,153.71 421.80,153.72 422.20,153.73 422.60,153.73 423.00,153.74 423.40,153.75 423.80,153.75 424.20,153.76 424.60,153.77 425.00,153.77 425.40,153.78 425.80,153.78 426.20,153.79 426.60,153.79 427.00,153.80 427.40,153.80 427.80,153.81 428.20,153.81 428.60,153.81 429.00,153.82 429.40,153.82 429.80,153.82 430.20,153.83 430.60,153.83 431.00,153.83 431.40,153.84 431.80,153.84 432.20,153.84 432.60,153.84 433.00,153.85 433.40,153.85 433.80,153.85 434.20,153.85 434.60,153.86 435.00,153.86 435.40,153.86 435.80,153.86 436.20,153.86 436.60,153.86 437.00,153.87 437.40,153.87 437.80,153.87 438.20,153.87 438.60,153.87 439.00,153.87 439.40,153.88 439.80,153.88 440.20,153.88 440.60,153.88 441.00,153.88 441.40,153.88 441.80,153.88 442.20,153.89 442.60,153.89 443.00,153.89 443.40,153.89 443.80,153.89 444.20,153.89 444.60,153.89 445.00,153.89 445.40,153.89" fill="none" stroke="#d0161e" stroke-width="2.0" stroke-linejoin="round" /><polyline points="256.60,145.40 257.00,145.40 257.40,145.41 257.80,145.41 258.20,145.41 258.60,145.41 259.00,145.41 259.40,145.42 259.80,145.42 260.20,145.42 260.60,145.42 261.00,145.42 261.40,145.42 261.80,145.43 262.20,145.43 262.60,145.43 263.00,145.43 263.40,145.43 263.80,145.44 264.20,145.44 264.60,145.44 265.00,145.44 265.40,145.44 265.80,145.44 266.20,145.45 266.60,145.45 267.00,145.45 267.40,145.45 267.80,145.45 268.20,145.46 268.60,145.46 269.00,145.46 269.40,145.46 269.80,145.46 270.20,145.46 270.60,145.47 271.00,145.47 271.40,145.47 271.80,145.47 272.20,145.47 272.60,145.48 273.00,145.48 273.40,145.48 273.80,145.48 274.20,145.48 274.60,145.48 275.00,145.49 275.40,145.49 275.80,145.49 276.20,145.49 276.60,145.49 277.00,145.50 277.40,145.50 277.80,145.50 278.20,145.50 278.60,145.50 279.00,145.50 279.40,145.51 279.80,145.51 280.20,145.51 280.60,145.51 281.00,145.51 281.40,145.52 281.80,145.52 282.20,145.52 282.60,145.52 283.00,145.52 283.40,145.52 283.80,145.53 284.20,145.53 284.60,145.53 285.00,145.53 285.40,145.53 285.80,145.54 286.20,145.54 286.60,145.54 287.00,145.54 287.40,145.54 287.80,145.54 288.20,145.55 288.60,145.55 289.00,145.55 289.40,145.55 289.80,145.55 290.20,145.56 290.60,145.56 291.00,145.56 291.40,145.56 291.80,145.56 292.20,145.56 292.60,145.57 293.00,145.57 293.40,145.57 293.80,145.57 294.20,145.57 294.60,145.58 295.00,145.58 295.40,145.58 295.80,145.58 296.20,145.58 296.60,145.58 297.00,145.59 297.40,145.59 297.80,145.59 298.20,145.59 298.60,145.59 299.00,145.60 299.40,145.60 299.80,145.60 300.20,145.60 300.60,145.60 301.00,145.61 301.40,145.61 301.80,145.61 302.20,145.61 302.60,145.62 303.00,145.62 303.40,145.62 303.80,145.63 304.20,145.63 304.60,145.63 305.00,145.63 305.40,145.64 305.80,145.64 306.20,145.64 306.60,145.64 307.00,145.65 307.40,145.65 307.80,145.65 308.20,145.65 308.60,145.66 309.00,145.66 309.40,145.66 309.80,145.67 310.20,145.67 310.60,145.67 311.00,145.67 311.40,145.68 311.80,145.68 312.20,145.68 312.60,145.68 313.00,145.69 313.40,145.69 313.80,145.69 314.20,145.69 314.60,145.70 315.00,145.70 315.40,145.70 315.80,145.71 316.20,145.71 316.60,145.71 317.00,145.71 317.40,145.72 317.80,145.72 318.20,145.72 318.60,145.72 319.00,145.73 319.40,145.73 319.80,145.73 320.20,145.73 320.60,145.74 321.00,145.74 321.40,145.74 321.80,145.75 322.20,145.75 322.60,145.75 323.00,145.75 323.40,145.76 323.80,145.76 324.20,145.76 324.60,145.76 325.00,145.77 325.40,145.77 325.80,145.77 326.20,145.77 326.60,145.78 327.00,145.78 327.40,145.78 327.80,145.79 328.20,145.79 328.60,145.79 329.00,145.79 329.40,145.80 329.80,145.80 330.20,145.80 330.60,145.80 331.00,145.81 331.40,145.81 331.80,145.81 332.20,145.81 332.60,145.82 333.00,145.82 333.40,145.82 333.80,145.83 334.20,145.83 334.60,145.83 335.00,145.83 335.40,145.84 335.80,145.84 336.20,145.84 336.60,145.84 337.00,145.85 337.40,145.85 337.80,145.85 338.20,145.85 338.60,145.86 339.00,145.86 339.40,145.86 339.80,145.86 340.20,145.87 340.60,145.87 341.00,145.87 341.40,145.87 341.80,145.87 342.20,145.88 342.60,145.88 343.00,145.88 343.40,145.88 343.80,145.88 344.20,145.88 344.60,145.88 345.00,145.88 345.40,145.89 345.80,145.90 346.20,145.90 346.60,145.91 347.00,145.92 347.40,145.92 347.80,145.92 348.20,145.93 348.60,145.93 349.00,145.93 349.40,145.92 349.80,145.92 350.20,145.91 350.60,145.90 351.00,145.89 351.40,145.87 351.80,145.85 352.20,145.83 352.60,145.80 353.00,145.76 353.40,145.72 353.80,145.67 354.20,145.62 354.60,145.55 355.00,145.48 355.40,145.41 355.80,145.34 356.20,145.25 356.60,145.14 357.00,145.02 357.40,144.88 357.80,144.72 358.20,144.54 358.60,144.34 359.00,144.11 359.40,143.86 359.80,143.57 360.20,143.26 360.60,142.94 361.00,142.57 361.40,142.16 361.80,141.71 362.20,141.21 362.60,140.65 363.00,140.03 363.40,139.35 363.80,138.60 364.20,137.78 364.60,136.88 365.00,135.90 365.40,134.85 365.80,133.71 366.20,132.47 366.60,131.13 367.00,129.68 367.40,128.11 367.80,126.43 368.20,124.63 368.60,122.70 369.00,120.64 369.40,118.45 369.80,116.12 370.20,113.65 370.60,111.05 371.00,108.32 371.40,105.45 371.80,102.45 372.20,99.33 372.60,96.10 373.00,92.77 373.40,89.35 373.80,85.85 374.20,82.30 374.60,78.72 375.00,75.13 375.40,71.56 375.80,68.04 376.20,64.60 376.60,61.28 377.00,58.11 377.40,55.12 377.80,52.35 378.20,49.84 378.60,47.63 379.00,45.74 379.40,44.21 379.80,43.06 380.20,42.30 380.60,41.95 381.00,42.02 381.40,42.50 381.80,43.39 382.20,44.68 382.60,46.34 383.00,48.36 383.40,50.70 383.80,53.34 384.20,56.23 384.60,59.35 385.00,62.66 385.40,66.12 385.80,69.70 386.20,73.36 386.60,77.07 387.00,80.80 387.40,84.52 387.80,88.21 388.20,91.85 388.60,95.41 389.00,98.88 389.40,102.27 389.80,105.55 390.20,108.71 390.60,111.74 391.00,114.63 391.40,117.39 391.80,120.02 392.20,122.51 392.60,124.86 393.00,127.08 393.40,129.17 393.80,131.13 394.20,132.97 394.60,134.68 395.00,136.28 395.40,137.78 395.80,139.17 396.20,140.46 396.60,141.66 397.00,142.77 397.40,143.80 397.80,144.76 398.20,145.62 398.60,146.39 399.00,147.10 399.40,147.75 399.80,148.34 400.20,148.89 400.60,149.39 401.00,149.84 401.40,150.26 401.80,150.64 402.20,150.98 402.60,151.30 403.00,151.59 403.40,151.85 403.80,152.09 404.20,152.29 404.60,152.46 405.00,152.62 405.40,152.75 405.80,152.88 406.20,152.99 406.60,153.08 407.00,153.17 407.40,153.25 407.80,153.32 408.20,153.38 408.60,153.43 409.00,153.48 409.40,153.53 409.80,153.56 410.20,153.60 410.60,153.63 411.00,153.65 411.40,153.67 411.80,153.69 412.20,153.71 412.60,153.73 413.00,153.74 413.40,153.75 413.80,153.76 414.20,153.77 414.60,153.78 415.00,153.79 415.40,153.79 415.80,153.80 416.20,153.81 416.60,153.81 417.00,153.81 417.40,153.82 417.80,153.82 418.20,153.82 418.60,153.83 419.00,153.83 419.40,153.83 419.80,153.83" fill="none" stroke="#1818c8" stroke-width="1.7" stroke-linejoin="round" /><polyline points="256.60,145.40 257.00,145.40 257.40,145.41 257.80,145.41 258.20,145.41 258.60,145.41 259.00,145.41 259.40,145.42 259.80,145.42 260.20,145.42 260.60,145.42 261.00,145.42 261.40,145.42 261.80,145.43 262.20,145.43 262.60,145.43 263.00,145.43 263.40,145.43 263.80,145.44 264.20,145.44 264.60,145.44 265.00,145.44 265.40,145.44 265.80,145.44 266.20,145.45 266.60,145.45 267.00,145.45 267.40,145.45 267.80,145.45 268.20,145.46 268.60,145.46 269.00,145.46 269.40,145.46 269.80,145.46 270.20,145.46 270.60,145.47 271.00,145.47 271.40,145.47 271.80,145.47 272.20,145.47 272.60,145.48 273.00,145.48 273.40,145.48 273.80,145.48 274.20,145.48 274.60,145.48 275.00,145.49 275.40,145.49 275.80,145.49 276.20,145.49 276.60,145.49 277.00,145.50 277.40,145.50 277.80,145.50 278.20,145.50 278.60,145.50 279.00,145.50 279.40,145.51 279.80,145.51 280.20,145.51 280.60,145.51 281.00,145.51 281.40,145.52 281.80,145.52 282.20,145.52 282.60,145.52 283.00,145.52 283.40,145.52 283.80,145.53 284.20,145.53 284.60,145.53 285.00,145.53 285.40,145.53 285.80,145.54 286.20,145.54 286.60,145.54 287.00,145.54 287.40,145.54 287.80,145.54 288.20,145.55 288.60,145.55 289.00,145.55 289.40,145.55 289.80,145.55 290.20,145.56 290.60,145.56 291.00,145.56 291.40,145.56 291.80,145.56 292.20,145.56 292.60,145.57 293.00,145.57 293.40,145.57 293.80,145.57 294.20,145.57 294.60,145.58 295.00,145.58 295.40,145.58 295.80,145.58 296.20,145.58 296.60,145.58 297.00,145.59 297.40,145.59 297.80,145.59 298.20,145.59 298.60,145.59 299.00,145.60 299.40,145.60 299.80,145.60 300.20,145.60 300.60,145.60 301.00,145.61 301.40,145.61 301.80,145.61 302.20,145.61 302.60,145.62 303.00,145.62 303.40,145.62 303.80,145.62 304.20,145.63 304.60,145.63 305.00,145.63 305.40,145.63 305.80,145.64 306.20,145.64 306.60,145.64 307.00,145.64 307.40,145.65 307.80,145.65 308.20,145.65 308.60,145.65 309.00,145.65 309.40,145.66 309.80,145.66 310.20,145.66 310.60,145.66 311.00,145.66 311.40,145.66 311.80,145.67 312.20,145.67 312.60,145.67 313.00,145.67 313.40,145.67 313.80,145.67 314.20,145.67 314.60,145.67 315.00,145.67 315.40,145.67 315.80,145.67 316.20,145.67 316.60,145.66 317.00,145.66 317.40,145.66 317.80,145.66 318.20,145.65 318.60,145.65 319.00,145.64 319.40,145.64 319.80,145.63 320.20,145.62 320.60,145.61 321.00,145.61 321.40,145.59 321.80,145.58 322.20,145.57 322.60,145.56 323.00,145.54 323.40,145.52 323.80,145.50 324.20,145.48 324.60,145.46 325.00,145.44 325.40,145.41 325.80,145.38 326.20,145.35 326.60,145.31 327.00,145.27 327.40,145.23 327.80,145.19 328.20,145.14 328.60,145.09 329.00,145.03 329.40,144.97 329.80,144.91 330.20,144.84 330.60,144.77 331.00,144.69 331.40,144.60 331.80,144.51 332.20,144.41 332.60,144.31 333.00,144.20 333.40,144.08 333.80,143.95 334.20,143.82 334.60,143.67 335.00,143.52 335.40,143.36 335.80,143.19 336.20,143.01 336.60,142.82 337.00,142.61 337.40,142.40 337.80,142.17 338.20,141.94 338.60,141.69 339.00,141.42 339.40,141.15 339.80,140.86 340.20,140.55 340.60,140.23 341.00,139.90 341.40,139.55 341.80,139.19 342.20,138.81 342.60,138.42 343.00,138.01 343.40,137.59 343.80,137.15 344.20,136.69 344.60,136.22 345.00,135.74 345.40,135.25 345.80,134.74 346.20,134.22 346.60,133.69 347.00,133.14 347.40,132.59 347.80,132.02 348.20,131.44 348.60,130.85 349.00,130.26 349.40,129.66 349.80,129.05 350.20,128.45 350.60,127.84 351.00,127.23 351.40,126.62 351.80,126.02 352.20,125.42 352.60,124.83 353.00,124.25 353.40,123.69 353.80,123.14 354.20,122.61 354.60,122.10 355.00,121.61 355.40,121.17 355.80,120.75 356.20,120.37 356.60,120.01 357.00,119.69 357.40,119.40 357.80,119.16 358.20,118.95 358.60,118.78 359.00,118.65 359.40,118.56 359.80,118.52 360.20,118.53 360.60,118.61 361.00,118.74 361.40,118.93 361.80,119.17 362.20,119.46 362.60,119.81 363.00,120.20 363.40,120.64 363.80,121.13 364.20,121.66 364.60,122.23 365.00,122.84 365.40,123.50 365.80,124.19 366.20,124.90 366.60,125.64 367.00,126.41 367.40,127.19 367.80,127.99 368.20,128.79 368.60,129.61 369.00,130.43 369.40,131.25 369.80,132.07 370.20,132.89 370.60,133.71 371.00,134.51 371.40,135.30 371.80,136.08 372.20,136.84 372.60,137.59 373.00,138.32 373.40,139.03 373.80,139.72 374.20,140.39 374.60,141.04 375.00,141.66 375.40,142.26 375.80,142.84 376.20,143.39 376.60,143.92 377.00,144.43 377.40,144.90 377.80,145.35 378.20,145.77 378.60,146.18 379.00,146.56 379.40,146.92 379.80,147.27 380.20,147.59 380.60,147.90 381.00,148.19 381.40,148.46 381.80,148.72 382.20,148.96 382.60,149.19 383.00,149.41 383.40,149.60 383.80,149.79 384.20,149.96 384.60,150.12 385.00,150.28 385.40,150.43 385.80,150.56 386.20,150.69 386.60,150.82 387.00,150.94 387.40,151.05 387.80,151.16 388.20,151.26 388.60,151.35 389.00,151.45 389.40,151.56 389.80,151.66 390.20,151.77 390.60,151.87 391.00,151.97 391.40,152.06 391.80,152.16" fill="none" stroke="#d61cd8" stroke-width="1.7" stroke-linejoin="round" /><polyline points="256.60,145.00 257.00,145.00 257.40,145.00 257.80,145.00 258.20,145.00 258.60,145.00 259.00,145.01 259.40,145.01 259.80,145.01 260.20,145.01 260.60,145.01 261.00,145.01 261.40,145.01 261.80,145.01 262.20,145.01 262.60,145.01 263.00,145.01 263.40,145.01 263.80,145.01 264.20,145.01 264.60,145.01 265.00,145.01 265.40,145.01 265.80,145.01 266.20,145.01 266.60,145.01 267.00,145.01 267.40,145.00 267.80,145.00 268.20,145.00 268.60,145.00 269.00,144.99 269.40,144.99 269.80,144.98 270.20,144.98 270.60,144.98 271.00,144.97 271.40,144.96 271.80,144.96 272.20,144.95 272.60,144.94 273.00,144.94 273.40,144.93 273.80,144.92 274.20,144.91 274.60,144.90 275.00,144.89 275.40,144.88 275.80,144.86 276.20,144.85 276.60,144.83 277.00,144.82 277.40,144.80 277.80,144.79 278.20,144.77 278.60,144.75 279.00,144.73 279.40,144.71 279.80,144.68 280.20,144.66 280.60,144.63 281.00,144.61 281.40,144.58 281.80,144.55 282.20,144.52 282.60,144.49 283.00,144.45 283.40,144.42 283.80,144.38 284.20,144.34 284.60,144.30 285.00,144.26 285.40,144.22 285.80,144.17 286.20,144.13 286.60,144.08 287.00,144.03 287.40,143.98 287.80,143.93 288.20,143.87 288.60,143.81 289.00,143.76 289.40,143.70 289.80,143.64 290.20,143.57 290.60,143.51 291.00,143.44 291.40,143.37 291.80,143.30 292.20,143.23 292.60,143.16 293.00,143.09 293.40,143.01 293.80,142.93 294.20,142.85 294.60,142.78 295.00,142.69 295.40,142.61 295.80,142.53 296.20,142.45 296.60,142.36 297.00,142.28 297.40,142.19 297.80,142.11 298.20,142.02 298.60,141.93 299.00,141.85 299.40,141.76 299.80,141.67 300.20,141.59 300.60,141.50 301.00,141.41 301.40,141.33 301.80,141.25 302.20,141.16 302.60,141.08 303.00,141.00 303.40,140.92 303.80,140.84 304.20,140.77 304.60,140.69 305.00,140.62 305.40,140.55 305.80,140.48 306.20,140.41 306.60,140.34 307.00,140.28 307.40,140.22 307.80,140.16 308.20,140.11 308.60,140.06 309.00,140.01 309.40,139.97 309.80,139.92 310.20,139.89 310.60,139.85 311.00,139.82 311.40,139.79 311.80,139.77 312.20,139.74 312.60,139.73 313.00,139.71 313.40,139.70 313.80,139.70 314.20,139.70 314.60,139.70 315.00,139.70 315.40,139.71 315.80,139.73 316.20,139.74 316.60,139.76 317.00,139.79 317.40,139.82 317.80,139.85 318.20,139.88 318.60,139.92 319.00,139.96 319.40,140.01 319.80,140.06 320.20,140.11 320.60,140.17 321.00,140.22 321.40,140.28 321.80,140.35 322.20,140.42 322.60,140.48 323.00,140.56 323.40,140.63 323.80,140.70 324.20,140.78 324.60,140.86 325.00,140.94 325.40,141.03 325.80,141.11 326.20,141.20 326.60,141.28 327.00,141.37 327.40,141.46 327.80,141.55 328.20,141.64 328.60,141.73 329.00,141.82 329.40,141.91 329.80,142.00 330.20,142.10 330.60,142.19 331.00,142.28 331.40,142.37 331.80,142.46 332.20,142.55 332.60,142.64 333.00,142.73 333.40,142.81 333.80,142.90 334.20,142.99 334.60,143.07 335.00,143.15 335.40,143.24 335.80,143.32 336.20,143.40 336.60,143.47 337.00,143.55 337.40,143.63 337.80,143.70 338.20,143.77 338.60,143.84 339.00,143.91 339.40,143.98 339.80,144.04 340.20,144.10 340.60,144.17 341.00,144.23 341.40,144.29 341.80,144.34 342.20,144.40 342.60,144.45 343.00,144.50 343.40,144.55 343.80,144.60 344.20,144.65 344.60,144.69 345.00,144.73 345.40,144.79 345.80,144.84 346.20,144.88 346.60,144.93 347.00,144.98 347.40,145.02 347.80,145.06 348.20,145.10 348.60,145.14 349.00,145.18 349.40,145.22 349.80,145.25 350.20,145.29 350.60,145.32 351.00,145.36 351.40,145.39 351.80,145.42 352.20,145.45 352.60,145.48 353.00,145.51 353.40,145.53 353.80,145.56 354.20,145.58 354.60,145.61 355.00,145.63 355.40,145.68 355.80,145.72 356.20,145.76 356.60,145.80 357.00,145.84 357.40,145.88 357.80,145.92 358.20,145.96 358.60,146.00 359.00,146.04 359.40,146.08 359.80,146.11 360.20,146.17 360.60,146.24 361.00,146.31 361.40,146.37 361.80,146.44 362.20,146.51 362.60,146.58 363.00,146.64 363.40,146.71 363.80,146.78 364.20,146.84 364.60,146.91 365.00,146.98 365.40,147.06 365.80,147.14 366.20,147.22 366.60,147.30 367.00,147.38 367.40,147.47 367.80,147.55 368.20,147.63 368.60,147.71 369.00,147.79 369.40,147.87 369.80,147.95 370.20,148.03 370.60,148.11 371.00,148.19 371.40,148.27 371.80,148.36 372.20,148.44 372.60,148.52 373.00,148.60 373.40,148.68 373.80,148.76 374.20,148.84 374.60,148.92 375.00,149.00 375.40,149.08 375.80,149.16 376.20,149.24 376.60,149.32 377.00,149.40 377.40,149.47 377.80,149.53 378.20,149.60 378.60,149.67 379.00,149.73 379.40,149.80 379.80,149.87 380.20,149.93 380.60,150.00 381.00,150.07 381.40,150.13 381.80,150.20 382.20,150.27 382.60,150.33 383.00,150.40 383.40,150.46 383.80,150.52 384.20,150.58 384.60,150.64 385.00,150.70 385.40,150.76 385.80,150.82 386.20,150.88 386.60,150.94 387.00,151.00 387.40,151.06 387.80,151.12 388.20,151.18 388.60,151.24 389.00,151.30 389.40,151.38 389.80,151.46 390.20,151.54 390.60,151.62 391.00,151.70 391.40,151.78 391.80,151.86 392.20,151.94 392.60,152.02 393.00,152.10 393.40,152.18 393.80,152.26 394.20,152.33 394.60,152.40 395.00,152.47 395.40,152.54 395.80,152.61 396.20,152.68 396.60,152.75 397.00,152.82 397.40,152.89 397.80,152.96 398.20,153.01 398.60,153.04 399.00,153.07 399.40,153.09 399.80,153.12 400.20,153.15 400.60,153.17 401.00,153.20 401.40,153.23 401.80,153.25 402.20,153.28 402.60,153.31 403.00,153.33 403.40,153.36 403.80,153.39 404.20,153.40 404.60,153.40 405.00,153.40 405.40,153.40 405.80,153.40 406.20,153.41 406.60,153.41 407.00,153.41 407.40,153.41 407.80,153.41 408.20,153.41 408.60,153.41 409.00,153.41 409.40,153.41 409.80,153.41 410.20,153.41 410.60,153.42 411.00,153.42 411.40,153.42 411.80,153.42 412.20,153.42 412.60,153.42 413.00,153.42 413.40,153.42 413.80,153.42 414.20,153.42 414.60,153.42 415.00,153.43 415.40,153.43 415.80,153.43 416.20,153.43 416.60,153.43 417.00,153.43 417.40,153.43 417.80,153.43 418.20,153.43 418.60,153.43 419.00,153.43 419.40,153.44 419.80,153.44 420.20,153.44 420.60,153.44 421.00,153.44 421.40,153.44 421.80,153.44 422.20,153.44 422.60,153.44 423.00,153.44 423.40,153.45 423.80,153.45 424.20,153.45 424.60,153.45 425.00,153.45 425.40,153.45 425.80,153.45 426.20,153.45 426.60,153.45 427.00,153.45 427.40,153.45 427.80,153.46 428.20,153.46 428.60,153.46 429.00,153.46 429.40,153.46 429.80,153.46 430.20,153.46 430.60,153.46 431.00,153.46 431.40,153.46 431.80,153.46 432.20,153.47 432.60,153.47 433.00,153.47 433.40,153.47 433.80,153.47 434.20,153.47 434.60,153.47 435.00,153.47 435.40,153.47 435.80,153.47 436.20,153.47 436.60,153.48 437.00,153.48 437.40,153.48 437.80,153.48 438.20,153.48 438.60,153.48 439.00,153.48 439.40,153.48 439.80,153.48 440.20,153.48 440.60,153.49 441.00,153.49 441.40,153.49 441.80,153.49 442.20,153.49 442.60,153.49 443.00,153.49 443.40,153.49 443.80,153.49 444.20,153.49 444.60,153.49 445.00,153.50 445.40,153.50" fill="none" stroke="#167a16" stroke-width="1.6" stroke-linejoin="round" /><rect x="256" y="21.85" width="190.2" height="141.0" fill="none" stroke="#151515" stroke-width="1.6"/><line x1="267.6" y1="162.85" x2="267.6" y2="166.15" stroke="#151515" stroke-width="1.1"/><text x="267.6" y="175.0" font-size="9.3" fill="#222" text-anchor="middle" >408</text><line x1="291.44" y1="162.85" x2="291.44" y2="166.15" stroke="#151515" stroke-width="1.1"/><text x="291.44" y="175.0" font-size="9.3" fill="#222" text-anchor="middle" >406</text><line x1="315.28000000000003" y1="162.85" x2="315.28000000000003" y2="166.15" stroke="#151515" stroke-width="1.1"/><text x="315.28000000000003" y="175.0" font-size="9.3" fill="#222" text-anchor="middle" >404</text><line x1="339.12" y1="162.85" x2="339.12" y2="166.15" stroke="#151515" stroke-width="1.1"/><text x="339.12" y="175.0" font-size="9.3" fill="#222" text-anchor="middle" >402</text><line x1="362.96000000000004" y1="162.85" x2="362.96000000000004" y2="166.15" stroke="#151515" stroke-width="1.1"/><text x="362.96000000000004" y="175.0" font-size="9.3" fill="#222" text-anchor="middle" >400</text><line x1="386.8" y1="162.85" x2="386.8" y2="166.15" stroke="#151515" stroke-width="1.1"/><text x="386.8" y="175.0" font-size="9.3" fill="#222" text-anchor="middle" >398</text><line x1="410.64" y1="162.85" x2="410.64" y2="166.15" stroke="#151515" stroke-width="1.1"/><text x="410.64" y="175.0" font-size="9.3" fill="#222" text-anchor="middle" >396</text><line x1="434.48" y1="162.85" x2="434.48" y2="166.15" stroke="#151515" stroke-width="1.1"/><text x="434.48" y="175.0" font-size="9.3" fill="#222" text-anchor="middle" >394</text><text x="266.8" y="37.0" font-size="8.7" fill="#222" stroke="#222" stroke-width="0.12" text-anchor="start" >N 1s</text><text x="266.8" y="46.6" font-size="8.5" fill="#222" stroke="#222" stroke-width="0.12" text-anchor="start" >g-C<tspan font-size="7.8" dy="1.3">3</tspan><tspan dy="-1.30">N<tspan font-size="7.8" dy="1.3">4</tspan></tspan></text><line x1="399.6" y1="35.9" x2="386.39" y2="39.38" stroke="#111" stroke-width="0.8"/><polygon points="383.30,40.20 386.04,38.03 386.75,40.74" fill="#111"/><text x="402.7" y="38.3" font-size="8" fill="#222" stroke="#222" stroke-width="0.12" text-anchor="start" >398.5</text><line x1="343.6" y1="108.1" x2="352.74" y2="114.98" stroke="#111" stroke-width="0.8"/><polygon points="355.30,116.90 351.90,116.10 353.58,113.86" fill="#111"/><text x="328.1" y="106.0" font-size="8" fill="#222" stroke="#222" stroke-width="0.12" text-anchor="start" >400.3</text><line x1="310.2" y1="131.1" x2="313.83" y2="135.36" stroke="#111" stroke-width="0.8"/><polygon points="315.90,137.80 312.76,136.27 314.89,134.46" fill="#111"/><text x="296.2" y="129.3" font-size="8" fill="#222" stroke="#222" stroke-width="0.12" text-anchor="start" >404.2</text><text x="346.0" y="15.0" font-size="12" fill="#222" text-anchor="middle" >(b)</text><text x="351.2" y="191.4" font-size="11.0" fill="#222" text-anchor="middle" >Binding energy (eV)</text><text x="0" y="0" font-size="10.7" fill="#222" text-anchor="middle" transform="translate(245.0,92.0) rotate(-90)">Intensity (a.u)</text>
<polyline points="504.50,144.30 506.19,144.58 508.54,144.34 511.31,144.31 514.30,144.21 517.27,144.21 520.00,144.10 522.62,144.43 525.33,144.34 528.03,144.37 530.61,144.09 532.97,144.52 535.00,143.95 536.67,143.75 538.06,143.97 539.22,144.00 540.22,144.03 541.13,143.67 542.00,143.79 542.80,143.80 543.46,143.24 544.02,143.06 544.52,142.67 545.00,142.68 545.50,142.43 546.00,142.03 546.47,141.61 546.92,141.23 547.36,140.51 547.78,140.03 548.20,139.06 548.61,138.30 549.00,137.58 549.38,136.48 549.76,135.69 550.13,134.77 550.50,133.56 550.87,132.40 551.22,131.51 551.58,130.89 551.93,129.45 552.31,128.17 552.70,126.26 553.13,123.91 553.58,121.21 554.05,117.80 554.52,114.36 554.97,111.47 555.40,108.13 555.79,105.31 556.14,102.45 556.49,99.82 556.83,97.00 557.20,93.83 557.60,89.96 558.05,85.66 558.54,80.89 559.06,75.69 559.57,70.57 560.05,65.50 560.50,60.95 560.90,57.60 561.27,54.17 561.62,50.95 561.96,48.20 562.28,45.46 562.60,42.94 562.91,41.15 563.22,39.32 563.51,38.15 563.79,36.85 564.06,35.92 564.30,35.03 564.52,34.32 564.70,33.62 564.88,33.55 565.04,33.04 565.21,33.39 565.40,33.45 565.60,33.63 565.80,33.46 566.01,33.47 566.23,33.64 566.46,34.63 566.70,34.79 566.95,35.92 567.20,36.31 567.46,37.67 567.74,39.05 568.05,40.58 568.40,42.49 568.80,44.88 569.23,47.87 569.69,51.48 570.18,54.84 570.69,58.13 571.20,61.33 571.73,64.12 572.27,67.35 572.83,70.26 573.41,72.74 574.00,75.53 574.60,78.16 575.23,80.20 575.88,82.75 576.54,84.68 577.21,86.32 577.87,88.35 578.50,90.25 579.08,91.55 579.62,93.48 580.15,94.94 580.70,96.46 581.31,98.10 582.00,99.43 582.80,100.77 583.67,102.20 584.59,103.82 585.56,105.32 586.53,106.64 587.50,108.08 588.48,109.58 589.48,111.29 590.50,112.70 591.52,114.04 592.52,115.63 593.50,117.38 594.46,118.67 595.41,120.32 596.34,121.99 597.26,123.40 598.15,125.14 599.00,125.97 599.79,127.65 600.53,128.38 601.23,129.17 601.94,130.21 602.69,130.62 603.50,131.58 604.38,132.15 605.30,132.40 606.26,132.77 607.25,133.23 608.27,133.14 609.30,133.30 610.36,133.26 611.44,133.19 612.55,132.54 613.68,132.23 614.83,132.04 616.00,131.22 617.18,131.35 618.37,130.91 619.58,130.74 620.82,131.18 622.09,130.84 623.40,131.02 624.69,130.84 625.95,131.11 627.24,131.17 628.64,131.39 630.20,131.73 632.00,132.02 634.05,132.50 636.30,132.54 638.72,132.95 641.28,133.19 643.95,133.59 646.70,133.70 649.66,134.43 652.86,134.59 656.18,135.09 659.47,135.43 662.59,135.93 665.40,136.08 668.00,136.10 670.52,136.12 672.87,136.08 674.96,136.05 676.70,135.92 678.00,135.99" fill="none" stroke="#d04848" stroke-width="1.6" stroke-linejoin="round" /><polyline points="505.00,144.00 505.70,143.74 506.40,143.25 507.10,144.01 507.80,144.11 508.50,143.48 509.20,143.46 509.90,143.04 510.60,143.75 511.30,143.30 512.00,144.00 512.70,142.92 513.40,143.55 514.10,143.70 514.80,143.42 515.50,143.32 516.20,143.58 516.90,143.38 517.60,143.42 518.30,143.49 519.00,143.35 519.70,143.43 520.40,143.68 521.10,143.38 521.80,143.51 522.50,143.28 523.20,143.69 523.90,143.14 524.60,143.69 525.30,142.69 526.00,143.22 526.70,143.04 527.40,143.69 528.10,143.49 528.80,143.09 529.50,143.27 530.20,143.75 530.90,143.39 531.60,143.54 532.30,143.02 533.00,143.01 533.70,143.53 534.40,143.95 535.10,143.24 535.80,143.52 536.50,143.13 537.20,143.67 537.90,143.24 538.60,143.24 539.30,142.87 540.00,143.23 540.70,143.38 541.40,143.67 542.10,143.03 542.80,143.56 543.50,143.22 544.20,143.23 544.90,143.06 545.60,142.87 546.30,142.99 547.00,143.69 547.70,142.98 548.40,143.16 549.10,143.54 549.80,142.73 550.50,143.37 551.20,143.12 551.90,143.29 552.60,143.46 553.30,143.20 554.00,143.18 554.70,143.41 555.40,143.38 556.10,143.03 556.80,143.16 557.50,142.87 558.20,143.52 558.90,142.89 559.60,143.24 560.30,143.62 561.00,143.39 561.70,143.12 562.40,143.01 563.10,143.03 563.80,143.42 564.50,143.28 565.20,143.19 565.90,143.85 566.60,142.99 567.30,143.07 568.00,143.10 568.70,143.25 569.40,143.28 570.10,143.13 570.80,143.39 571.50,143.34 572.20,143.13 572.90,142.59 573.60,143.40 574.30,142.96 575.00,143.04 575.70,143.16 576.40,142.89 577.10,143.00 577.80,143.22 578.50,143.11 579.20,143.28 579.90,142.98 580.60,143.14 581.30,142.93 582.00,143.13 582.70,143.27 583.40,143.14 584.10,142.84 584.80,143.15 585.50,143.24 586.20,143.48 586.90,143.19 587.60,143.10 588.30,142.91 589.00,143.70 589.70,142.97 590.40,142.92 591.10,143.17 591.80,142.75 592.50,143.48 593.20,143.25 593.90,143.33 594.60,142.96 595.30,143.08 596.00,143.43 596.70,143.44 597.40,143.92 598.10,143.49 598.80,142.74 599.50,143.24 600.20,143.13 600.90,143.49 601.60,143.20 602.30,143.34 603.00,143.14 603.70,143.37 604.40,143.59 605.10,143.07 605.80,142.71 606.50,142.97 607.20,143.62 607.90,143.28 608.60,143.15 609.30,142.99 610.00,143.49 610.70,143.30 611.40,143.20 612.10,143.10 612.80,143.19 613.50,143.15 614.20,143.38 614.90,143.55 615.60,142.74 616.30,142.87 617.00,143.21 617.70,143.26 618.40,142.85 619.10,143.08 619.80,143.14 620.50,143.13 621.20,143.12 621.90,143.22 622.60,143.46 623.30,143.43 624.00,143.39 624.70,143.31 625.40,143.06 626.10,143.12 626.80,143.42 627.50,143.27 628.20,143.44 628.90,143.31 629.60,143.26 630.30,143.36 631.00,142.86 631.70,143.21 632.40,143.10 633.10,143.46 633.80,143.08 634.50,143.31 635.20,143.14 635.90,143.37 636.60,143.43 637.30,143.20 638.00,143.28 638.70,143.30 639.40,143.45 640.10,143.17 640.80,143.26 641.50,143.15 642.20,143.01 642.90,143.30 643.60,143.36 644.30,143.05 645.00,143.65 645.70,143.07 646.40,143.44 647.10,143.35 647.80,142.83 648.50,143.25 649.20,142.86 649.90,143.23 650.60,143.43 651.30,143.72 652.00,143.45 652.70,142.88 653.40,143.17 654.10,143.64 654.80,143.31 655.50,143.70 656.20,143.08 656.90,143.12 657.60,142.92 658.30,143.17 659.00,143.58 659.70,143.03 660.40,143.47 661.10,143.38 661.80,143.46 662.50,143.20 663.20,143.27 663.90,143.80 664.60,142.96 665.30,143.46 666.00,143.65 666.70,143.39 667.40,143.69 668.10,142.53 668.80,143.19 669.50,142.98 670.20,143.17 670.90,143.24 671.60,143.39 672.30,143.06 673.00,143.49 673.70,142.88 674.40,143.51 675.10,143.21 675.80,142.83 676.50,142.83 677.20,142.82 677.90,143.02" fill="none" stroke="#3a7fc4" stroke-width="1.2" stroke-linejoin="round" /><polyline points="505.00,142.70 505.70,142.99 506.40,142.85 507.10,142.32 507.80,142.07 508.50,142.56 509.20,142.28 509.90,142.58 510.60,142.45 511.30,143.26 512.00,142.18 512.70,142.68 513.40,143.07 514.10,142.49 514.80,142.39 515.50,143.00 516.20,142.05 516.90,142.14 517.60,142.26 518.30,142.66 519.00,142.75 519.70,142.52 520.40,143.10 521.10,142.49 521.80,142.54 522.50,142.46 523.20,142.84 523.90,142.53 524.60,142.42 525.30,142.94 526.00,142.84 526.70,142.76 527.40,142.19 528.10,142.23 528.80,142.44 529.50,142.43 530.20,142.38 530.90,142.43 531.60,142.64 532.30,142.22 533.00,142.53 533.70,142.37 534.40,142.34 535.10,142.39 535.80,142.64 536.50,142.52 537.20,142.25 537.90,142.53 538.60,142.47 539.30,142.54 540.00,142.36 540.70,142.68 541.40,142.52 542.10,142.13 542.80,142.09 543.50,142.06 544.20,142.51 544.90,142.23 545.60,142.31 546.30,142.37 547.00,142.70 547.70,142.93 548.40,142.35 549.10,142.88 549.80,142.51 550.50,142.67 551.20,142.29 551.90,142.04 552.60,142.47 553.30,142.67 554.00,141.95 554.70,142.32 555.40,142.39 556.10,142.48 556.80,142.05 557.50,142.18 558.20,142.55 558.90,142.76 559.60,142.33 560.30,142.55 561.00,142.34 561.70,142.41 562.40,142.21 563.10,142.25 563.80,142.16 564.50,142.34 565.20,142.59 565.90,142.36 566.60,142.48 567.30,142.16 568.00,142.50 568.70,141.53 569.40,141.97 570.10,142.24 570.80,141.87 571.50,142.47 572.20,142.38 572.90,142.10 573.60,142.36 574.30,141.95 575.00,142.11 575.70,142.24 576.40,141.94 577.10,142.60 577.80,142.18 578.50,142.60 579.20,142.31 579.90,142.43 580.60,142.12 581.30,142.28 582.00,142.25 582.70,142.42 583.40,142.70 584.10,142.22 584.80,142.32 585.50,142.45 586.20,142.58 586.90,142.34 587.60,142.27 588.30,142.22 589.00,142.37 589.70,142.44 590.40,142.21 591.10,142.30 591.80,142.57 592.50,142.38 593.20,142.24 593.90,142.56 594.60,142.57 595.30,142.54 596.00,142.56 596.70,142.29 597.40,142.45 598.10,142.48 598.80,142.43 599.50,141.96 600.20,142.40 600.90,142.49 601.60,142.53 602.30,142.33 603.00,142.42 603.70,141.96 604.40,142.04 605.10,141.67 605.80,142.36 606.50,142.82 607.20,142.86 607.90,142.14 608.60,142.59 609.30,142.74 610.00,142.35 610.70,141.94 611.40,142.79 612.10,142.34 612.80,142.34 613.50,142.86 614.20,142.56 614.90,142.65 615.60,142.84 616.30,142.41 617.00,142.20 617.70,142.65 618.40,142.45 619.10,142.64 619.80,142.56 620.50,142.27 621.20,142.47 621.90,142.38 622.60,142.41 623.30,142.46 624.00,142.56 624.70,142.53 625.40,142.16 626.10,142.64 626.80,142.12 627.50,143.04 628.20,142.29 628.90,142.47 629.60,142.82 630.30,142.44 631.00,142.17 631.70,142.14 632.40,142.57 633.10,142.60 633.80,142.71 634.50,142.57 635.20,142.38 635.90,142.62 636.60,142.87 637.30,142.31 638.00,143.40 638.70,142.41 639.40,142.83 640.10,142.99 640.80,142.75 641.50,142.59 642.20,142.70 642.90,142.86 643.60,141.86 644.30,142.64 645.00,142.43 645.70,142.35 646.40,142.56 647.10,142.58 647.80,142.66 648.50,142.39 649.20,142.82 649.90,142.01 650.60,142.29 651.30,142.23 652.00,142.57 652.70,142.41 653.40,142.67 654.10,142.35 654.80,142.87 655.50,142.73 656.20,142.42 656.90,142.12 657.60,142.25 658.30,142.16 659.00,142.86 659.70,142.74 660.40,142.24 661.10,143.03 661.80,142.48 662.50,142.00 663.20,142.83 663.90,142.89 664.60,142.57 665.30,142.34 666.00,142.88 666.70,142.44 667.40,142.57 668.10,142.69 668.80,142.65 669.50,142.46 670.20,142.32 670.90,142.77 671.60,142.03 672.30,142.67 673.00,142.66 673.70,142.72 674.40,142.50 675.10,142.65 675.80,142.79 676.50,142.34 677.20,142.61 677.90,142.70" fill="none" stroke="#d633d6" stroke-width="1.3" stroke-linejoin="round" /><polyline points="505.00,140.28 505.70,140.36 506.40,140.99 507.10,140.85 507.80,140.40 508.50,140.76 509.20,140.68 509.90,140.93 510.60,140.86 511.30,139.97 512.00,140.50 512.70,140.91 513.40,140.98 514.10,140.41 514.80,140.25 515.50,140.62 516.20,140.39 516.90,140.55 517.60,140.26 518.30,140.74 519.00,140.69 519.70,140.66 520.40,140.26 521.10,140.11 521.80,140.21 522.50,140.66 523.20,140.08 523.90,140.69 524.60,140.97 525.30,140.36 526.00,140.47 526.70,140.76 527.40,140.74 528.10,140.35 528.80,140.46 529.50,140.53 530.20,140.43 530.90,140.64 531.60,140.58 532.30,140.82 533.00,140.07 533.70,140.79 534.40,140.69 535.10,140.46 535.80,140.59 536.50,140.73 537.20,140.56 537.90,140.43 538.60,140.56 539.30,140.31 540.00,140.16 540.70,140.27 541.40,140.29 542.10,140.53 542.80,140.68 543.50,140.54 544.20,140.84 544.90,140.45 545.60,140.31 546.30,140.28 547.00,140.23 547.70,140.37 548.40,140.78 549.10,140.06 549.80,140.55 550.50,140.38 551.20,140.57 551.90,140.21 552.60,140.47 553.30,140.10 554.00,140.29 554.70,139.53 555.40,140.02 556.10,139.98 556.80,139.31 557.50,139.82 558.20,139.23 558.90,139.65 559.60,139.30 560.30,139.37 561.00,139.21 561.70,138.74 562.40,139.35 563.10,139.23 563.80,138.66 564.50,139.07 565.20,139.09 565.90,138.86 566.60,138.83 567.30,139.48 568.00,139.12 568.70,139.51 569.40,139.83 570.10,139.55 570.80,139.28 571.50,139.82 572.20,139.29 572.90,139.46 573.60,140.47 574.30,139.58 575.00,139.91 575.70,139.59 576.40,139.87 577.10,139.99 577.80,139.33 578.50,139.87 579.20,140.23 579.90,140.32 580.60,140.22 581.30,139.92 582.00,140.28 582.70,140.08 583.40,140.02 584.10,140.23 584.80,140.82 585.50,140.03 586.20,140.53 586.90,140.34 587.60,139.92 588.30,140.07 589.00,140.26 589.70,140.19 590.40,140.38 591.10,140.08 591.80,140.08 592.50,140.59 593.20,140.33 593.90,140.13 594.60,140.35 595.30,140.81 596.00,140.21 596.70,139.99 597.40,140.60 598.10,140.86 598.80,140.68 599.50,140.04 600.20,139.86 600.90,140.69 601.60,140.33 602.30,140.50 603.00,140.33 603.70,140.80 604.40,140.40 605.10,140.30 605.80,140.42 606.50,140.08 607.20,140.43 607.90,140.36 608.60,139.86 609.30,140.10 610.00,140.07 610.70,140.00 611.40,140.48 612.10,140.67 612.80,140.47 613.50,140.02 614.20,139.95 614.90,140.59 615.60,140.31 616.30,140.37 617.00,140.07 617.70,139.88 618.40,140.95 619.10,140.24 619.80,140.34 620.50,140.11 621.20,140.78 621.90,140.30 622.60,140.35 623.30,140.40 624.00,140.39 624.70,140.75 625.40,139.94 626.10,140.55 626.80,140.24 627.50,140.29 628.20,140.24 628.90,140.50 629.60,140.07 630.30,140.26 631.00,140.53 631.70,140.25 632.40,140.27 633.10,140.49 633.80,140.41 634.50,140.31 635.20,140.40 635.90,140.17 636.60,140.60 637.30,140.12 638.00,139.99 638.70,140.50 639.40,140.06 640.10,140.15 640.80,140.33 641.50,140.56 642.20,140.27 642.90,140.28 643.60,140.28 644.30,140.48 645.00,140.26 645.70,140.44 646.40,140.72 647.10,140.32 647.80,140.28 648.50,140.14 649.20,140.19 649.90,140.06 650.60,140.10 651.30,140.22 652.00,140.45 652.70,140.49 653.40,140.26 654.10,140.44 654.80,140.04 655.50,140.88 656.20,140.97 656.90,140.33 657.60,140.48 658.30,140.38 659.00,140.54 659.70,140.19 660.40,139.97 661.10,140.54 661.80,140.07 662.50,140.43 663.20,140.11 663.90,140.14 664.60,140.58 665.30,140.73 666.00,140.29 666.70,140.22 667.40,140.40 668.10,140.18 668.80,139.89 669.50,140.31 670.20,139.75 670.90,140.42 671.60,140.18 672.30,140.35 673.00,139.94 673.70,140.11 674.40,140.44 675.10,140.64 675.80,140.50 676.50,140.39 677.20,140.01 677.90,140.43" fill="none" stroke="#5a5a5a" stroke-width="1.1" stroke-linejoin="round" /><polyline points="505.00,139.91 505.70,139.80 506.40,140.20 507.10,139.68 507.80,140.31 508.50,139.70 509.20,139.69 509.90,139.84 510.60,139.53 511.30,139.74 512.00,139.87 512.70,139.43 513.40,139.64 514.10,139.50 514.80,139.73 515.50,140.12 516.20,139.73 516.90,139.79 517.60,139.89 518.30,139.55 519.00,139.88 519.70,139.69 520.40,139.66 521.10,139.39 521.80,139.66 522.50,140.07 523.20,140.11 523.90,139.73 524.60,139.82 525.30,139.70 526.00,139.52 526.70,139.35 527.40,140.22 528.10,139.54 528.80,139.84 529.50,140.17 530.20,139.69 530.90,139.74 531.60,139.85 532.30,139.69 533.00,139.84 533.70,139.69 534.40,140.06 535.10,139.90 535.80,139.49 536.50,139.45 537.20,139.62 537.90,139.63 538.60,139.60 539.30,140.02 540.00,139.61 540.70,139.67 541.40,139.82 542.10,139.29 542.80,139.89 543.50,139.92 544.20,140.12 544.90,139.52 545.60,139.64 546.30,139.80 547.00,139.63 547.70,139.34 548.40,139.90 549.10,139.57 549.80,139.68 550.50,139.26 551.20,139.65 551.90,139.14 552.60,138.82 553.30,139.02 554.00,138.89 554.70,138.14 555.40,138.37 556.10,138.27 556.80,137.69 557.50,137.07 558.20,137.40 558.90,137.39 559.60,136.75 560.30,137.32 561.00,136.77 561.70,136.71 562.40,136.95 563.10,136.68 563.80,136.90 564.50,136.56 565.20,136.67 565.90,136.60 566.60,136.68 567.30,136.81 568.00,136.82 568.70,136.66 569.40,137.00 570.10,136.78 570.80,137.15 571.50,137.05 572.20,136.93 572.90,136.83 573.60,137.10 574.30,137.52 575.00,137.32 575.70,137.62 576.40,137.46 577.10,137.52 577.80,137.54 578.50,137.33 579.20,138.00 579.90,138.04 580.60,138.11 581.30,138.41 582.00,138.06 582.70,138.81 583.40,138.11 584.10,138.63 584.80,138.37 585.50,138.69 586.20,139.13 586.90,138.54 587.60,139.03 588.30,139.07 589.00,139.14 589.70,139.21 590.40,139.38 591.10,139.34 591.80,139.34 592.50,139.50 593.20,139.47 593.90,139.29 594.60,139.04 595.30,139.57 596.00,139.30 596.70,139.81 597.40,139.28 598.10,139.13 598.80,139.73 599.50,139.27 600.20,139.09 600.90,139.77 601.60,139.12 602.30,139.83 603.00,139.27 603.70,139.61 604.40,139.57 605.10,139.07 605.80,139.53 606.50,139.43 607.20,139.57 607.90,139.68 608.60,139.94 609.30,139.49 610.00,139.53 610.70,140.10 611.40,139.74 612.10,139.76 612.80,139.19 613.50,139.22 614.20,139.44 614.90,139.53 615.60,139.70 616.30,140.27 617.00,139.27 617.70,139.49 618.40,139.75 619.10,139.66 619.80,139.88 620.50,139.53 621.20,139.37 621.90,140.12 622.60,139.71 623.30,139.30 624.00,139.52 624.70,139.59 625.40,139.23 626.10,139.80 626.80,139.65 627.50,139.52 628.20,139.45 628.90,140.02 629.60,139.59 630.30,139.42 631.00,139.10 631.70,139.34 632.40,139.78 633.10,139.98 633.80,139.32 634.50,139.10 635.20,139.62 635.90,139.60 636.60,139.83 637.30,139.43 638.00,139.64 638.70,139.15 639.40,139.30 640.10,139.47 640.80,139.50 641.50,139.74 642.20,139.92 642.90,139.25 643.60,140.03 644.30,139.42 645.00,139.50 645.70,139.89 646.40,139.01 647.10,139.25 647.80,139.40 648.50,139.63 649.20,139.88 649.90,139.88 650.60,139.38 651.30,139.80 652.00,139.50 652.70,139.98 653.40,139.54 654.10,139.87 654.80,139.35 655.50,139.80 656.20,139.27 656.90,139.63 657.60,139.20 658.30,139.57 659.00,139.41 659.70,139.36 660.40,139.67 661.10,139.80 661.80,139.63 662.50,139.68 663.20,139.79 663.90,139.91 664.60,139.86 665.30,139.71 666.00,140.10 666.70,139.48 667.40,139.80 668.10,139.32 668.80,140.20 669.50,139.54 670.20,139.64 670.90,139.95 671.60,139.55 672.30,139.39 673.00,139.13 673.70,139.53 674.40,140.11 675.10,139.64 675.80,140.03 676.50,139.80 677.20,139.48 677.90,139.24" fill="none" stroke="#2a8a2a" stroke-width="1.2" stroke-linejoin="round" /><polyline points="505.00,139.44 505.70,139.64 506.40,139.43 507.10,139.52 507.80,139.62 508.50,139.38 509.20,139.11 509.90,139.39 510.60,139.61 511.30,139.26 512.00,139.19 512.70,139.21 513.40,139.39 514.10,139.42 514.80,139.43 515.50,139.13 516.20,139.45 516.90,139.28 517.60,139.20 518.30,138.97 519.00,139.15 519.70,139.27 520.40,139.46 521.10,139.52 521.80,139.42 522.50,139.47 523.20,139.13 523.90,139.61 524.60,139.61 525.30,139.57 526.00,139.28 526.70,139.38 527.40,139.28 528.10,139.06 528.80,139.30 529.50,139.00 530.20,138.94 530.90,139.52 531.60,139.52 532.30,139.59 533.00,139.27 533.70,139.38 534.40,139.51 535.10,139.28 535.80,138.86 536.50,139.93 537.20,139.68 537.90,139.69 538.60,139.39 539.30,139.17 540.00,139.39 540.70,139.44 541.40,139.02 542.10,139.24 542.80,139.50 543.50,139.72 544.20,139.49 544.90,139.22 545.60,138.99 546.30,139.79 547.00,139.29 547.70,139.43 548.40,139.20 549.10,138.78 549.80,139.47 550.50,138.87 551.20,138.75 551.90,137.94 552.60,137.77 553.30,137.74 554.00,136.91 554.70,136.40 555.40,135.87 556.10,135.35 556.80,135.40 557.50,134.67 558.20,133.72 558.90,134.05 559.60,133.48 560.30,132.93 561.00,131.66 561.70,131.69 562.40,131.63 563.10,130.78 563.80,130.66 564.50,130.74 565.20,130.34 565.90,131.05 566.60,131.48 567.30,131.72 568.00,132.37 568.70,132.52 569.40,132.97 570.10,133.34 570.80,133.60 571.50,133.86 572.20,134.28 572.90,134.75 573.60,134.91 574.30,135.33 575.00,135.56 575.70,135.93 576.40,135.85 577.10,135.67 577.80,136.14 578.50,137.04 579.20,136.91 579.90,136.78 580.60,136.97 581.30,137.14 582.00,137.18 582.70,137.47 583.40,137.71 584.10,137.96 584.80,137.66 585.50,137.77 586.20,137.84 586.90,138.01 587.60,138.34 588.30,137.95 589.00,138.76 589.70,138.41 590.40,138.60 591.10,138.15 591.80,138.33 592.50,138.34 593.20,138.52 593.90,138.04 594.60,138.71 595.30,138.20 596.00,138.75 596.70,138.96 597.40,138.74 598.10,138.76 598.80,138.79 599.50,138.81 600.20,138.95 600.90,139.13 601.60,139.08 602.30,139.30 603.00,138.96 603.70,138.82 604.40,138.84 605.10,138.66 605.80,138.88 606.50,138.84 607.20,139.44 607.90,139.13 608.60,139.46 609.30,138.54 610.00,139.09 610.70,139.28 611.40,139.11 612.10,138.92 612.80,139.08 613.50,139.07 614.20,139.08 614.90,139.12 615.60,139.29 616.30,139.11 617.00,139.13 617.70,139.07 618.40,139.18 619.10,138.89 619.80,139.22 620.50,139.00 621.20,139.30 621.90,138.94 622.60,139.08 623.30,139.05 624.00,138.84 624.70,139.36 625.40,139.19 626.10,139.11 626.80,139.41 627.50,139.03 628.20,139.10 628.90,139.39 629.60,139.72 630.30,139.14 631.00,139.52 631.70,139.16 632.40,138.92 633.10,139.25 633.80,139.43 634.50,139.18 635.20,139.25 635.90,138.86 636.60,138.57 637.30,139.19 638.00,138.77 638.70,139.11 639.40,138.96 640.10,139.16 640.80,139.34 641.50,138.70 642.20,139.08 642.90,139.08 643.60,139.46 644.30,139.14 645.00,138.92 645.70,138.98 646.40,139.57 647.10,138.91 647.80,139.14 648.50,139.20 649.20,138.85 649.90,138.93 650.60,138.64 651.30,138.91 652.00,139.30 652.70,139.19 653.40,138.67 654.10,139.50 654.80,138.81 655.50,138.91 656.20,139.55 656.90,139.27 657.60,139.13 658.30,139.53 659.00,139.14 659.70,139.24 660.40,139.02 661.10,139.13 661.80,139.14 662.50,139.44 663.20,139.01 663.90,139.12 664.60,138.63 665.30,138.74 666.00,139.34 666.70,139.07 667.40,139.08 668.10,139.32 668.80,139.09 669.50,139.20 670.20,139.11 670.90,138.68 671.60,139.33 672.30,139.55 673.00,139.47 673.70,139.20 674.40,139.25 675.10,139.28 675.80,139.56 676.50,139.48 677.20,139.10 677.90,139.16" fill="none" stroke="#1c1c84" stroke-width="1.3" stroke-linejoin="round" /><rect x="504" y="22.7" width="174.79999999999995" height="140.15" fill="none" stroke="#151515" stroke-width="1.6"/><line x1="501.4" y1="150.80" x2="504" y2="150.80" stroke="#222" stroke-width="1"/><text x="499.5" y="154.10000000000002" font-size="9.3" fill="#222" text-anchor="end" >0.0</text><line x1="501.4" y1="126.02" x2="504" y2="126.02" stroke="#222" stroke-width="1"/><text x="499.5" y="129.32000000000002" font-size="9.3" fill="#222" text-anchor="end" >50.0k</text><line x1="501.4" y1="101.24" x2="504" y2="101.24" stroke="#222" stroke-width="1"/><text x="499.5" y="104.54" font-size="9.3" fill="#222" text-anchor="end" >100.0k</text><line x1="501.4" y1="76.46" x2="504" y2="76.46" stroke="#222" stroke-width="1"/><text x="499.5" y="79.76" font-size="9.3" fill="#222" text-anchor="end" >150.0k</text><line x1="501.4" y1="51.68" x2="504" y2="51.68" stroke="#222" stroke-width="1"/><text x="499.5" y="54.980000000000004" font-size="9.3" fill="#222" text-anchor="end" >200.0k</text><line x1="501.4" y1="26.90" x2="504" y2="26.90" stroke="#222" stroke-width="1"/><text x="499.5" y="30.200000000000006" font-size="9.3" fill="#222" text-anchor="end" >250.0k</text><line x1="518.0" y1="162.85" x2="518.0" y2="166.15" stroke="#151515" stroke-width="1.1"/><text x="518.0" y="174.8" font-size="9.3" fill="#222" text-anchor="middle" >394</text><line x1="538.12" y1="162.85" x2="538.12" y2="166.15" stroke="#151515" stroke-width="1.1"/><text x="538.12" y="174.8" font-size="9.3" fill="#222" text-anchor="middle" >396</text><line x1="558.24" y1="162.85" x2="558.24" y2="166.15" stroke="#151515" stroke-width="1.1"/><text x="558.24" y="174.8" font-size="9.3" fill="#222" text-anchor="middle" >398</text><line x1="578.36" y1="162.85" x2="578.36" y2="166.15" stroke="#151515" stroke-width="1.1"/><text x="578.36" y="174.8" font-size="9.3" fill="#222" text-anchor="middle" >400</text><line x1="598.48" y1="162.85" x2="598.48" y2="166.15" stroke="#151515" stroke-width="1.1"/><text x="598.48" y="174.8" font-size="9.3" fill="#222" text-anchor="middle" >402</text><line x1="618.6" y1="162.85" x2="618.6" y2="166.15" stroke="#151515" stroke-width="1.1"/><text x="618.6" y="174.8" font-size="9.3" fill="#222" text-anchor="middle" >404</text><line x1="638.72" y1="162.85" x2="638.72" y2="166.15" stroke="#151515" stroke-width="1.1"/><text x="638.72" y="174.8" font-size="9.3" fill="#222" text-anchor="middle" >406</text><line x1="658.84" y1="162.85" x2="658.84" y2="166.15" stroke="#151515" stroke-width="1.1"/><text x="658.84" y="174.8" font-size="9.3" fill="#222" text-anchor="middle" >408</text><line x1="597.1" y1="28.8" x2="614.5" y2="28.8" stroke="#5a5a5a" stroke-width="1.6"/><text x="616.3" y="31.1" font-size="8" fill="#222" stroke="#222" stroke-width="0.12" text-anchor="start" >ZnO</text><line x1="597.1" y1="38.7" x2="614.5" y2="38.7" stroke="#d24a4a" stroke-width="1.6"/><text x="616.3" y="41.0" font-size="8" fill="#222" stroke="#222" stroke-width="0.12" text-anchor="start" >g-C<tspan font-size="5" dy="1.8">3</tspan><tspan dy="-1.80">N<tspan font-size="5" dy="1.8">4</tspan></tspan></text><line x1="597.1" y1="50.4" x2="614.5" y2="50.4" stroke="#3a7fc4" stroke-width="1.6"/><text x="618.6" y="52.699999999999996" font-size="8" fill="#222" stroke="#222" stroke-width="0.12" text-anchor="start" >ZnO/g-C<tspan font-size="5" dy="1.8">3</tspan><tspan dy="-1.80">N<tspan font-size="5" dy="1.8">4</tspan></tspan><tspan dy="-1.80">3%</tspan></text><line x1="597.1" y1="61.6" x2="614.5" y2="61.6" stroke="#d633d6" stroke-width="1.6"/><text x="618.6" y="63.9" font-size="8" fill="#222" stroke="#222" stroke-width="0.12" text-anchor="start" >ZnO/g-C<tspan font-size="5" dy="1.8">3</tspan><tspan dy="-1.80">N<tspan font-size="5" dy="1.8">4</tspan></tspan><tspan dy="-1.80">5%</tspan></text><line x1="597.1" y1="73.5" x2="614.5" y2="73.5" stroke="#2a8a2a" stroke-width="1.6"/><text x="618.6" y="75.8" font-size="8" fill="#222" stroke="#222" stroke-width="0.12" text-anchor="start" >ZnO/g-C<tspan font-size="5" dy="1.8">3</tspan><tspan dy="-1.80">N<tspan font-size="5" dy="1.8">4</tspan></tspan><tspan dy="-1.80">10%</tspan></text><line x1="597.1" y1="84.7" x2="614.5" y2="84.7" stroke="#1c1c84" stroke-width="1.6"/><text x="618.6" y="87.0" font-size="8" fill="#222" stroke="#222" stroke-width="0.12" text-anchor="start" >ZnO/g-C<tspan font-size="5" dy="1.8">3</tspan><tspan dy="-1.80">N<tspan font-size="5" dy="1.8">4</tspan></tspan><tspan dy="-1.80">20%</tspan></text><text x="578.1" y="15.0" font-size="12" fill="#222" text-anchor="middle" >(c)</text><text x="591.0" y="191.4" font-size="11.0" fill="#222" text-anchor="middle" >Binding energy (eV)</text><text x="0" y="0" font-size="10.8" fill="#222" text-anchor="middle" transform="translate(468.3,92.3) rotate(-90)">Intensity (CPS)</text>
<polyline points="28.50,341.79 28.90,341.79 29.30,341.78 29.70,341.78 30.10,341.77 30.50,341.77 30.90,341.76 31.30,341.75 31.70,341.75 32.10,341.74 32.50,341.73 32.90,341.73 33.30,341.72 33.70,341.71 34.10,341.70 34.50,341.69 34.90,341.68 35.30,341.67 35.70,341.66 36.10,341.65 36.50,341.63 36.90,341.62 37.30,341.60 37.70,341.58 38.10,341.55 38.50,341.53 38.90,341.50 39.30,341.46 39.70,341.42 40.10,341.38 40.50,341.33 40.90,341.28 41.30,341.22 41.70,341.15 42.10,341.06 42.50,340.97 42.90,340.87 43.30,340.75 43.70,340.62 44.10,340.47 44.50,340.30 44.90,340.11 45.30,339.86 45.70,339.58 46.10,339.26 46.50,338.90 46.90,338.50 47.30,338.06 47.70,337.56 48.10,337.00 48.50,336.37 48.90,335.66 49.30,334.86 49.70,333.96 50.10,332.94 50.50,331.79 50.90,330.48 51.30,329.00 51.70,327.33 52.10,325.43 52.50,323.29 52.90,320.88 53.30,318.18 53.70,315.20 54.10,311.94 54.50,308.45 54.90,304.79 55.30,301.10 55.70,297.55 56.10,294.37 56.50,291.84 56.90,290.17 57.30,289.56 57.70,290.06 58.10,291.61 58.50,294.04 58.90,297.10 59.30,300.54 59.70,304.12 60.10,307.66 60.50,311.05 60.90,314.19 61.30,317.06 61.70,319.64 62.10,321.95 62.50,324.02 62.90,325.85 63.30,327.46 63.70,328.87 64.10,330.11 64.50,331.20 64.90,332.15 65.30,332.99 65.70,333.72 66.10,334.37 66.50,334.93 66.90,335.42 67.30,335.86 67.70,336.24 68.10,336.58 68.50,336.92 68.90,337.22 69.30,337.50 69.70,337.74 70.10,337.96 70.50,338.15 70.90,338.32 71.30,338.48 71.70,338.62 72.10,338.75 72.50,338.87 72.90,338.97 73.30,339.07 73.70,339.16 74.10,339.24 74.50,339.31 74.90,339.38 75.30,339.44 75.70,339.50 76.10,339.56 76.50,339.61 76.90,339.66 77.30,339.70 77.70,339.75 78.10,339.79 78.50,339.83 78.90,339.87 79.30,339.91 79.70,339.94 80.10,339.98 80.50,340.01 80.90,340.05 81.30,340.08 81.70,340.11 82.10,340.15 82.50,340.18 82.90,340.21 83.30,340.24 83.70,340.27 84.10,340.31 84.50,340.35 84.90,340.40 85.30,340.44 85.70,340.49 86.10,340.53 86.50,340.58 86.90,340.63 87.30,340.67 87.70,340.72 88.10,340.76 88.50,340.81 88.90,340.85 89.30,340.90 89.70,340.94 90.10,340.99 90.50,341.03 90.90,341.08 91.30,341.12 91.70,341.17 92.10,341.21 92.50,341.26 92.90,341.30 93.30,341.35 93.70,341.39 94.10,341.44 94.50,341.48 94.90,341.53 95.30,341.57 95.70,341.62 96.10,341.66 96.50,341.71 96.90,341.75 97.30,341.80 97.70,341.84 98.10,341.89 98.50,341.93 98.90,341.98 99.30,342.02 99.70,342.07 100.10,342.11 100.50,342.16 100.90,342.20 101.30,342.25 101.70,342.29 102.10,342.34 102.50,342.38 102.90,342.43 103.30,342.47 103.70,342.52 104.10,342.56 104.50,342.61 104.90,342.65 105.30,342.70 105.70,342.74 106.10,342.79 106.50,342.83 106.90,342.88 107.30,342.92 107.70,342.97 108.10,343.01 108.50,343.04 108.90,343.08 109.30,343.11 109.70,343.15 110.10,343.18 110.50,343.22 110.90,343.25 111.30,343.29 111.70,343.32 112.10,343.36 112.50,343.39 112.90,343.43 113.30,343.46 113.70,343.50 114.10,343.53 114.50,343.57 114.90,343.60 115.30,343.64 115.70,343.67 116.10,343.71 116.50,343.74 116.90,343.78 117.30,343.81 117.70,343.85 118.10,343.88 118.50,343.92 118.90,343.95 119.30,343.99 119.70,344.02 120.10,344.06 120.50,344.09 120.90,344.13 121.30,344.16 121.70,344.20 122.10,344.23 122.50,344.27 122.90,344.30 123.30,344.34 123.70,344.37 124.10,344.41 124.50,344.44 124.90,344.48 125.30,344.51 125.70,344.55 126.10,344.58 126.50,344.62 126.90,344.65 127.30,344.69 127.70,344.72 128.10,344.76 128.50,344.79 128.90,344.83 129.30,344.86 129.70,344.90 130.10,344.93 130.50,344.97 130.90,345.00 131.30,345.04 131.70,345.07 132.10,345.11 132.50,345.13 132.90,345.16 133.30,345.19 133.70,345.21 134.10,345.24 134.50,345.27 134.90,345.29 135.30,345.32 135.70,345.35 136.10,345.37 136.50,345.40 136.90,345.43 137.30,345.45 137.70,345.48 138.10,345.51 138.50,345.53 138.90,345.56 139.30,345.59 139.70,345.61 140.10,345.64 140.50,345.67 140.90,345.69 141.30,345.72 141.70,345.75 142.10,345.77 142.50,345.80 142.90,345.83 143.30,345.85 143.70,345.88 144.10,345.91 144.50,345.93 144.90,345.96 145.30,345.99 145.70,346.01 146.10,346.04 146.50,346.07 146.90,346.09 147.30,346.12 147.70,346.15 148.10,346.17 148.50,346.20 148.90,346.22 149.30,346.25 149.70,346.28 150.10,346.30 150.50,346.33 150.90,346.35 151.30,346.37 151.70,346.39 152.10,346.42 152.50,346.44 152.90,346.46 153.30,346.48 153.70,346.50 154.10,346.52 154.50,346.54 154.90,346.56 155.30,346.58 155.70,346.60 156.10,346.61 156.50,346.62 156.90,346.64 157.30,346.65 157.70,346.65 158.10,346.66 158.50,346.66 158.90,346.66 159.30,346.65 159.70,346.64 160.10,346.62 160.50,346.60 160.90,346.57 161.30,346.53 161.70,346.48 162.10,346.42 162.50,346.35 162.90,346.27 163.30,346.17 163.70,346.05 164.10,345.91 164.50,345.75 164.90,345.56 165.30,345.36 165.70,345.12 166.10,344.85 166.50,344.54 166.90,344.18 167.30,343.77 167.70,343.29 168.10,342.74 168.50,342.12 168.90,341.41 169.30,340.59 169.70,339.66 170.10,338.60 170.50,337.39 170.90,336.00 171.30,334.42 171.70,332.62 172.10,330.55 172.50,328.20 172.90,325.50 173.30,322.42 173.70,318.91 174.10,314.90 174.50,310.34 174.90,305.18 175.30,299.37 175.70,292.90 176.10,285.80 176.50,278.14 176.90,270.11 177.30,262.03 177.70,254.33 178.10,247.57 178.50,242.37 178.90,239.28 179.30,238.67 179.70,240.62 180.10,244.90 180.50,251.03 180.90,258.41 181.30,266.43 181.70,274.60 182.10,282.55 182.50,290.02 182.90,296.89 183.30,303.10 183.70,308.65 184.10,313.58 184.50,317.93 184.90,321.76 185.30,325.10 185.70,328.03 186.10,330.59 186.50,332.84 186.90,334.81 187.30,336.54 187.70,338.06 188.10,339.40 188.50,340.58 188.90,341.62 189.30,342.53 189.70,343.33 190.10,344.04 190.50,344.67 190.90,345.22 191.30,345.71 191.70,346.14 192.10,346.52 192.50,346.85 192.90,347.14 193.30,347.40 193.70,347.63 194.10,347.83 194.50,348.00 194.90,348.16 195.30,348.29 195.70,348.41 196.10,348.52 196.50,348.61 196.90,348.69 197.30,348.76 197.70,348.82 198.10,348.87 198.50,348.92 198.90,348.96 199.30,348.99 199.70,349.03 200.10,349.05 200.50,349.08 200.90,349.10 201.30,349.11 201.70,349.13 202.10,349.14 202.50,349.16 202.90,349.17 203.30,349.17 203.70,349.18 204.10,349.19 204.50,349.20 204.90,349.20 205.30,349.21 205.70,349.21 206.10,349.22 206.50,349.22 206.90,349.23 207.30,349.23 207.70,349.23 208.10,349.24 208.50,349.24 208.90,349.24 209.30,349.25 209.70,349.25 210.10,349.25 210.50,349.25 210.90,349.26 211.30,349.26 211.70,349.26 212.10,349.26 212.50,349.27 212.90,349.27 213.30,349.27 213.70,349.27 214.10,349.28 214.50,349.28 214.90,349.28 215.30,349.28 215.70,349.29 216.10,349.29 216.50,349.29 216.90,349.29 217.30,349.30 217.70,349.30" fill="none" stroke="#111111" stroke-width="1.7" stroke-linejoin="round" /><polyline points="28.50,342.47 28.90,342.45 29.30,342.44 29.70,342.43 30.10,342.41 30.50,342.39 30.90,342.37 31.30,342.35 31.70,342.33 32.10,342.30 32.50,342.28 32.90,342.24 33.30,342.21 33.70,342.17 34.10,342.13 34.50,342.08 34.90,342.02 35.30,341.96 35.70,341.89 36.10,341.81 36.50,341.73 36.90,341.63 37.30,341.52 37.70,341.39 38.10,341.26 38.50,341.10 38.90,340.93 39.30,340.74 39.70,340.53 40.10,340.30 40.50,340.04 40.90,339.76 41.30,339.45 41.70,339.11 42.10,338.73 42.50,338.30 42.90,337.82 43.30,337.32 43.70,336.77 44.10,336.19 44.50,335.57 44.90,334.91 45.30,334.21 45.70,333.47 46.10,332.70 46.50,331.89 46.90,331.05 47.30,330.17 47.70,329.27 48.10,328.34 48.50,327.39 48.90,326.43 49.30,325.47 49.70,324.50 50.10,323.54 50.50,322.61 50.90,321.70 51.30,320.82 51.70,319.98 52.10,319.18 52.50,318.45 52.90,317.78 53.30,317.18 53.70,316.65 54.10,316.22 54.50,315.88 54.90,315.63 55.30,315.47 55.70,315.42 56.10,315.47 56.50,315.62 56.90,315.86 57.30,316.20 57.70,316.62 58.10,317.13 58.50,317.72 58.90,318.37 59.30,319.08 59.70,319.84 60.10,320.65 60.50,321.49 60.90,322.36 61.30,323.25 61.70,324.14 62.10,325.05 62.50,325.95 62.90,326.85 63.30,327.73 63.70,328.58 64.10,329.42 64.50,330.22 64.90,330.99 65.30,331.72 65.70,332.42 66.10,333.08 66.50,333.70 66.90,334.28 67.30,334.82 67.70,335.33 68.10,335.80 68.50,336.26 68.90,336.69 69.30,337.09 69.70,337.45 70.10,337.78 70.50,338.09 70.90,338.37 71.30,338.62 71.70,338.85 72.10,339.06 72.50,339.25 72.90,339.42 73.30,339.57 73.70,339.71 74.10,339.84 74.50,339.95 74.90,340.05 75.30,340.14 75.70,340.22 76.10,340.30 76.50,340.37 76.90,340.43 77.30,340.48 77.70,340.53 78.10,340.58 78.50,340.62 78.90,340.66 79.30,340.70 79.70,340.73 80.10,340.76 80.50,340.79 80.90,340.81 81.30,340.84 81.70,340.86 82.10,340.89 82.50,340.91 82.90,340.93 83.30,340.95 83.70,340.97 84.10,341.00 84.50,341.03 84.90,341.07 85.30,341.11 85.70,341.14 86.10,341.18 86.50,341.22 86.90,341.25 87.30,341.29 87.70,341.32 88.10,341.36 88.50,341.39 88.90,341.43 89.30,341.46 89.70,341.50 90.10,341.53 90.50,341.57 90.90,341.60 91.30,341.64 91.70,341.67 92.10,341.71 92.50,341.74 92.90,341.78 93.30,341.81 93.70,341.85 94.10,341.88 94.50,341.92 94.90,341.95 95.30,341.99 95.70,342.02 96.10,342.06 96.50,342.09 96.90,342.13 97.30,342.16 97.70,342.20 98.10,342.23 98.50,342.27 98.90,342.30 99.30,342.34 99.70,342.37 100.10,342.41 100.50,342.44 100.90,342.48 101.30,342.51 101.70,342.55 102.10,342.58 102.50,342.62 102.90,342.65 103.30,342.69 103.70,342.72 104.10,342.76 104.50,342.79 104.90,342.83 105.30,342.86 105.70,342.90 106.10,342.93 106.50,342.97 106.90,343.00 107.30,343.04 107.70,343.07 108.10,343.11 108.50,343.13 108.90,343.16 109.30,343.18 109.70,343.21 110.10,343.23 110.50,343.26 110.90,343.28 111.30,343.31 111.70,343.33 112.10,343.36 112.50,343.38 112.90,343.41 113.30,343.43 113.70,343.46 114.10,343.48 114.50,343.51 114.90,343.53 115.30,343.56 115.70,343.58 116.10,343.61 116.50,343.63 116.90,343.66 117.30,343.68 117.70,343.71 118.10,343.73 118.50,343.76 118.90,343.78 119.30,343.81 119.70,343.83 120.10,343.86 120.50,343.88 120.90,343.91 121.30,343.93 121.70,343.96 122.10,343.98 122.50,344.01 122.90,344.03 123.30,344.06 123.70,344.08 124.10,344.11 124.50,344.13 124.90,344.16 125.30,344.18 125.70,344.21 126.10,344.23 126.50,344.26 126.90,344.28 127.30,344.31 127.70,344.33 128.10,344.36 128.50,344.38 128.90,344.41 129.30,344.43 129.70,344.46 130.10,344.48 130.50,344.51 130.90,344.53 131.30,344.56 131.70,344.58 132.10,344.61 132.50,344.63 132.90,344.65 133.30,344.67 133.70,344.69 134.10,344.72 134.50,344.74 134.90,344.76 135.30,344.78 135.70,344.80 136.10,344.83 136.50,344.85 136.90,344.87 137.30,344.89 137.70,344.92 138.10,344.94 138.50,344.96 138.90,344.98 139.30,345.00 139.70,345.02 140.10,345.05 140.50,345.07 140.90,345.09 141.30,345.11 141.70,345.13 142.10,345.15 142.50,345.17 142.90,345.20 143.30,345.22 143.70,345.24 144.10,345.26 144.50,345.28 144.90,345.30 145.30,345.31 145.70,345.33 146.10,345.35 146.50,345.37 146.90,345.39 147.30,345.40 147.70,345.42 148.10,345.43 148.50,345.44 148.90,345.46 149.30,345.47 149.70,345.47 150.10,345.48 150.50,345.49 150.90,345.50 151.30,345.50 151.70,345.50 152.10,345.50 152.50,345.49 152.90,345.48 153.30,345.47 153.70,345.45 154.10,345.43 154.50,345.40 154.90,345.36 155.30,345.32 155.70,345.28 156.10,345.22 156.50,345.16 156.90,345.09 157.30,345.00 157.70,344.91 158.10,344.80 158.50,344.68 158.90,344.55 159.30,344.39 159.70,344.23 160.10,344.04 160.50,343.83 160.90,343.60 161.30,343.34 161.70,343.06 162.10,342.75 162.50,342.41 162.90,342.03 163.30,341.62 163.70,341.17 164.10,340.68 164.50,340.14 164.90,339.55 165.30,338.92 165.70,338.23 166.10,337.48 166.50,336.67 166.90,335.79 167.30,334.83 167.70,333.80 168.10,332.69 168.50,331.49 168.90,330.21 169.30,328.83 169.70,327.36 170.10,325.79 170.50,324.12 170.90,322.37 171.30,320.52 171.70,318.58 172.10,316.57 172.50,314.49 172.90,312.36 173.30,310.20 173.70,308.04 174.10,305.89 174.50,303.80 174.90,301.81 175.30,299.94 175.70,298.24 176.10,296.75 176.50,295.52 176.90,294.57 177.30,293.93 177.70,293.62 178.10,293.65 178.50,294.00 178.90,294.69 179.30,295.69 179.70,296.98 180.10,298.51 180.50,300.26 180.90,302.17 181.30,304.22 181.70,306.35 182.10,308.55 182.50,310.76 182.90,312.97 183.30,315.14 183.70,317.27 184.10,319.33 184.50,321.31 184.90,323.21 185.30,325.02 185.70,326.73 186.10,328.34 186.50,329.86 186.90,331.29 187.30,332.62 187.70,333.87 188.10,335.03 188.50,336.11 188.90,337.11 189.30,338.04 189.70,338.90 190.10,339.70 190.50,340.43 190.90,341.11 191.30,341.74 191.70,342.32 192.10,342.85 192.50,343.34 192.90,343.79 193.30,344.20 193.70,344.58 194.10,344.93 194.50,345.25 194.90,345.54 195.30,345.80 195.70,346.04 196.10,346.25 196.50,346.44 196.90,346.62 197.30,346.78 197.70,346.93 198.10,347.06 198.50,347.18 198.90,347.29 199.30,347.39 199.70,347.48 200.10,347.56 200.50,347.63 200.90,347.70 201.30,347.76 201.70,347.81 202.10,347.86 202.50,347.90 202.90,347.94 203.30,347.98 203.70,348.01 204.10,348.04 204.50,348.06 204.90,348.08 205.30,348.10 205.70,348.12 206.10,348.14 206.50,348.15 206.90,348.17 207.30,348.18 207.70,348.19 208.10,348.20 208.50,348.21 208.90,348.22 209.30,348.23 209.70,348.23 210.10,348.24 210.50,348.24 210.90,348.25 211.30,348.25 211.70,348.26 212.10,348.26 212.50,348.26 212.90,348.27 213.30,348.27 213.70,348.27 214.10,348.28 214.50,348.28 214.90,348.28 215.30,348.28 215.70,348.29 216.10,348.29 216.50,348.29 216.90,348.29 217.30,348.30 217.70,348.30" fill="none" stroke="#d40c14" stroke-width="1.8" stroke-linejoin="round" /><rect x="28" y="208.9" width="190.15" height="141.20000000000002" fill="none" stroke="#151515" stroke-width="1.6"/><line x1="32.7" y1="350.1" x2="32.7" y2="353.40000000000003" stroke="#151515" stroke-width="1.1"/><text x="32.7" y="362.2" font-size="9.3" fill="#222" text-anchor="middle" >1050</text><line x1="85.6" y1="350.1" x2="85.6" y2="353.40000000000003" stroke="#151515" stroke-width="1.1"/><text x="85.6" y="362.2" font-size="9.3" fill="#222" text-anchor="middle" >1040</text><line x1="138.5" y1="350.1" x2="138.5" y2="353.40000000000003" stroke="#151515" stroke-width="1.1"/><text x="138.5" y="362.2" font-size="9.3" fill="#222" text-anchor="middle" >1030</text><line x1="191.39999999999998" y1="350.1" x2="191.39999999999998" y2="353.40000000000003" stroke="#151515" stroke-width="1.1"/><text x="191.39999999999998" y="362.2" font-size="9.3" fill="#222" text-anchor="middle" >1020</text><text x="39.1" y="217.2" font-size="8" fill="#222" stroke="#222" stroke-width="0.12" text-anchor="start" >Zn 2p</text><line x1="38" y1="231.8" x2="54.8" y2="231.8" stroke="#111" stroke-width="1.6"/><line x1="38" y1="244.3" x2="54.8" y2="244.3" stroke="#d40c14" stroke-width="1.6"/><text x="56.6" y="234.3" font-size="8.2" fill="#222" stroke="#222" stroke-width="0.12" text-anchor="start" >ZnO/g-C<tspan font-size="7" dy="1.5">3</tspan><tspan dy="-1.50">N<tspan font-size="7" dy="1.5">4</tspan></tspan><tspan dy="-1.50">10%</tspan></text><text x="56.6" y="246.6" font-size="8.2" fill="#222" stroke="#222" stroke-width="0.12" text-anchor="start" >ZnO</text><text x="32.0" y="284.7" font-size="8.5" fill="#111" stroke="#111" stroke-width="0.12" text-anchor="start"  textLength="56.8" lengthAdjust="spacingAndGlyphs">Zn 2p<tspan font-size="7.8" dy="2.4">1/2</tspan><tspan dy="-2.40"> 1045.4</tspan></text><text x="156.2" y="230.7" font-size="8.5" fill="#111" stroke="#111" stroke-width="0.12" text-anchor="start"  textLength="58" lengthAdjust="spacingAndGlyphs">Zn 2p<tspan font-size="7.8" dy="2.4">3/2</tspan><tspan dy="-2.40"> 1022.3</tspan></text><text x="64.1" y="322.7" font-size="8.5" fill="#c8323a" stroke="#c8323a" stroke-width="0.12" text-anchor="start"  textLength="57.7" lengthAdjust="spacingAndGlyphs">Zn 2p<tspan font-size="7.8" dy="2.4">1/2</tspan><tspan dy="-2.40"> 1045.8</tspan></text><text x="112.8" y="307.6" font-size="8.5" fill="#c8323a" stroke="#c8323a" stroke-width="0.12" text-anchor="start"  textLength="57.9" lengthAdjust="spacingAndGlyphs">Zn 2p<tspan font-size="7.8" dy="2.4">3/2</tspan><tspan dy="-2.40"> 1022.5</tspan></text><text x="106.8" y="294.9" font-size="8.0" fill="#111" stroke="#111" stroke-width="0.12" text-anchor="start" >23.1eV</text><line x1="105.8" y1="297.4" x2="66.40" y2="297.40" stroke="#333" stroke-width="0.7"/><polygon points="63.40,297.40 66.40,296.10 66.40,298.70" fill="#333"/><line x1="131.5" y1="297.4" x2="168.50" y2="297.40" stroke="#333" stroke-width="0.7"/><polygon points="171.50,297.40 168.50,298.70 168.50,296.10" fill="#333"/><text x="117.5" y="204.4" font-size="12" fill="#222" text-anchor="middle" >(d)</text><text x="122.9" y="378.8" font-size="11.0" fill="#222" text-anchor="middle" >Binding energy (eV)</text><text x="0" y="0" font-size="10.7" fill="#222" text-anchor="middle" transform="translate(12.6,285.7) rotate(-90)">Intensity (a.u)</text>
<polyline points="256.60,332.46 257.00,332.23 257.40,332.21 257.80,332.49 258.20,331.13 258.60,332.79 259.00,332.29 259.40,331.84 259.80,332.44 260.20,332.11 260.60,333.27 261.00,331.89 261.40,332.59 261.80,332.76 262.20,332.05 262.60,331.82 263.00,332.78 263.40,332.31 263.80,331.99 264.20,331.69 264.60,332.91 265.00,333.44 265.40,332.24 265.80,332.87 266.20,333.20 266.60,333.15 267.00,332.21 267.40,332.87 267.80,332.97 268.20,334.07 268.60,332.70 269.00,333.19 269.40,333.06 269.80,332.97 270.20,332.00 270.60,332.76 271.00,333.48 271.40,332.38 271.80,332.74 272.20,332.14 272.60,332.76 273.00,332.81 273.40,333.01 273.80,332.37 274.20,332.36 274.60,332.27 275.00,332.76 275.40,332.71 275.80,333.92 276.20,332.24 276.60,333.01 277.00,332.29 277.40,332.33 277.80,333.23 278.20,332.85 278.60,332.91 279.00,331.82 279.40,334.12 279.80,333.82 280.20,332.19 280.60,331.83 281.00,332.19 281.40,332.74 281.80,332.06 282.20,332.76 282.60,332.22 283.00,334.21 283.40,332.47 283.80,332.34 284.20,333.77 284.60,332.79 285.00,332.60 285.40,332.58 285.80,332.93 286.20,332.35 286.60,332.66 287.00,332.28 287.40,331.81 287.80,332.40 288.20,332.69 288.60,333.52 289.00,332.72 289.40,332.39 289.80,332.66 290.20,332.93 290.60,331.27 291.00,332.34 291.40,331.32 291.80,331.56 292.20,332.14 292.60,332.49 293.00,332.59 293.40,332.64 293.80,333.33 294.20,332.82 294.60,332.78 295.00,332.37 295.40,333.68 295.80,333.30 296.20,332.21 296.60,332.20 297.00,332.99 297.40,333.11 297.80,332.34 298.20,333.18 298.60,331.83 299.00,332.42 299.40,333.09 299.80,332.16 300.20,332.58 300.60,332.47 301.00,332.32 301.40,331.38 301.80,332.27 302.20,332.55 302.60,332.55 303.00,332.87 303.40,332.95 303.80,332.19 304.20,332.26 304.60,333.35 305.00,332.87 305.40,332.35 305.80,332.20 306.20,332.92 306.60,332.91 307.00,332.21 307.40,332.51 307.80,332.24 308.20,332.17 308.60,333.25 309.00,331.39 309.40,332.55 309.80,331.46 310.20,331.64 310.60,332.50 311.00,331.20 311.40,331.38 311.80,331.22 312.20,331.50 312.60,331.97 313.00,332.43 313.40,331.31 313.80,332.18 314.20,330.87 314.60,332.77 315.00,331.19 315.40,331.10 315.80,331.47 316.20,331.29 316.60,331.06 317.00,330.08 317.40,331.48 317.80,331.31 318.20,330.57 318.60,330.02 319.00,330.75 319.40,331.14 319.80,329.35 320.20,329.59 320.60,330.18 321.00,329.52 321.40,329.65 321.80,329.65 322.20,330.01 322.60,329.86 323.00,329.81 323.40,329.59 323.80,328.51 324.20,327.28 324.60,328.68 325.00,328.55 325.40,328.33 325.80,327.44 326.20,328.72 326.60,326.37 327.00,327.56 327.40,327.18 327.80,327.07 328.20,327.05 328.60,326.22 329.00,325.80 329.40,325.09 329.80,325.36 330.20,324.77 330.60,324.63 331.00,323.09 331.40,322.44 331.80,322.93 332.20,322.75 332.60,321.07 333.00,320.88 333.40,320.76 333.80,320.60 334.20,320.06 334.60,319.87 335.00,318.59 335.40,318.30 335.80,318.15 336.20,316.56 336.60,317.35 337.00,315.07 337.40,314.60 337.80,312.63 338.20,312.87 338.60,311.76 339.00,310.82 339.40,310.45 339.80,308.70 340.20,308.50 340.60,306.19 341.00,306.03 341.40,306.04 341.80,304.22 342.20,303.36 342.60,301.31 343.00,299.88 343.40,300.22 343.80,298.75 344.20,297.36 344.60,295.54 345.00,294.88 345.40,292.59 345.80,291.84 346.20,290.41 346.60,288.08 347.00,287.99 347.40,285.78 347.80,284.72 348.20,281.89 348.60,280.60 349.00,279.58 349.40,278.65 349.80,277.57 350.20,275.65 350.60,273.92 351.00,272.90 351.40,271.02 351.80,269.86 352.20,268.62 352.60,266.64 353.00,265.95 353.40,263.55 353.80,262.63 354.20,262.23 354.60,260.21 355.00,259.64 355.40,258.27 355.80,256.82 356.20,256.62 356.60,254.82 357.00,253.02 357.40,251.88 357.80,251.06 358.20,248.94 358.60,249.29 359.00,247.38 359.40,245.22 359.80,244.44 360.20,244.63 360.60,242.72 361.00,242.63 361.40,240.15 361.80,239.19 362.20,238.85 362.60,237.74 363.00,234.76 363.40,234.64 363.80,232.35 364.20,231.57 364.60,229.73 365.00,230.04 365.40,228.10 365.80,227.29 366.20,227.97 366.60,226.54 367.00,225.17 367.40,223.53 367.80,224.17 368.20,222.13 368.60,222.52 369.00,223.12 369.40,222.97 369.80,222.46 370.20,222.83 370.60,222.54 371.00,222.16 371.40,222.91 371.80,224.30 372.20,223.74 372.60,224.52 373.00,225.32 373.40,224.94 373.80,225.97 374.20,226.54 374.60,228.61 375.00,229.18 375.40,229.70 375.80,230.74 376.20,232.99 376.60,234.12 377.00,234.94 377.40,235.76 377.80,237.04 378.20,237.71 378.60,238.80 379.00,239.17 379.40,239.54 379.80,240.33 380.20,241.45 380.60,242.69 381.00,241.48 381.40,241.48 381.80,242.58 382.20,242.46 382.60,241.35 383.00,241.03 383.40,240.49 383.80,240.38 384.20,241.22 384.60,238.12 385.00,237.74 385.40,236.22 385.80,235.48 386.20,234.47 386.60,233.21 387.00,231.26 387.40,230.08 387.80,230.08 388.20,228.61 388.60,227.57 389.00,226.92 389.40,225.39 389.80,225.93 390.20,224.32 390.60,223.93 391.00,223.94 391.40,224.63 391.80,226.67 392.20,225.80 392.60,226.85 393.00,228.73 393.40,229.01 393.80,230.04 394.20,232.38 394.60,234.65 395.00,236.26 395.40,239.61 395.80,242.58 396.20,246.64 396.60,248.99 397.00,251.82 397.40,254.78 397.80,258.09 398.20,260.96 398.60,265.50 399.00,267.85 399.40,272.68 399.80,277.32 400.20,279.67 400.60,283.64 401.00,286.31 401.40,289.06 401.80,293.57 402.20,296.40 402.60,299.84 403.00,302.53 403.40,305.57 403.80,307.55 404.20,310.61 404.60,313.21 405.00,314.48 405.40,316.63 405.80,319.34 406.20,320.76 406.60,321.95 407.00,322.66 407.40,324.75 407.80,327.03 408.20,327.01 408.60,328.18 409.00,328.68 409.40,329.97 409.80,330.77 410.20,331.60 410.60,331.63 411.00,331.88 411.40,334.22 411.80,333.49 412.20,333.25 412.60,333.97 413.00,334.62 413.40,335.21 413.80,334.96 414.20,334.77 414.60,335.42 415.00,334.44 415.40,334.82 415.80,336.20 416.20,335.68 416.60,335.60 417.00,335.32 417.40,335.07 417.80,335.94 418.20,335.86 418.60,336.88 419.00,335.41 419.40,335.93 419.80,335.74 420.20,335.44 420.60,337.05 421.00,336.80 421.40,336.10 421.80,335.21 422.20,336.22 422.60,336.33 423.00,335.69 423.40,335.12 423.80,337.12 424.20,335.26 424.60,336.71 425.00,335.68 425.40,335.85 425.80,336.68 426.20,335.42 426.60,335.90 427.00,336.06 427.40,336.78 427.80,336.69 428.20,336.18 428.60,335.38 429.00,336.81 429.40,335.87 429.80,336.28 430.20,335.03 430.60,336.02 431.00,336.42 431.40,335.91 431.80,336.48 432.20,336.89 432.60,337.06 433.00,335.80 433.40,335.23 433.80,334.69 434.20,335.94 434.60,335.17 435.00,336.40 435.40,334.89 435.80,336.76 436.20,336.16 436.60,335.19 437.00,336.29 437.40,336.46 437.80,336.46 438.20,336.12 438.60,336.49 439.00,336.43 439.40,335.92 439.80,336.17 440.20,335.35 440.60,336.57 441.00,335.35 441.40,336.01 441.80,335.42 442.20,336.67 442.60,336.21 443.00,335.50 443.40,336.27 443.80,335.98 444.20,336.50 444.60,336.13 445.00,336.07 445.40,335.96 445.80,335.13 446.20,336.38" fill="none" stroke="#111" stroke-width="1.3" stroke-linejoin="round" /><polyline points="256.60,332.60 257.00,332.60 257.40,332.60 257.80,332.60 258.20,332.60 258.60,332.60 259.00,332.60 259.40,332.60 259.80,332.60 260.20,332.60 260.60,332.60 261.00,332.60 261.40,332.60 261.80,332.60 262.20,332.60 262.60,332.60 263.00,332.60 263.40,332.60 263.80,332.60 264.20,332.60 264.60,332.60 265.00,332.60 265.40,332.60 265.80,332.60 266.20,332.60 266.60,332.60 267.00,332.60 267.40,332.60 267.80,332.60 268.20,332.60 268.60,332.60 269.00,332.60 269.40,332.60 269.80,332.60 270.20,332.60 270.60,332.60 271.00,332.60 271.40,332.60 271.80,332.60 272.20,332.60 272.60,332.60 273.00,332.60 273.40,332.60 273.80,332.60 274.20,332.60 274.60,332.60 275.00,332.60 275.40,332.60 275.80,332.60 276.20,332.60 276.60,332.60 277.00,332.60 277.40,332.60 277.80,332.60 278.20,332.60 278.60,332.60 279.00,332.60 279.40,332.60 279.80,332.60 280.20,332.60 280.60,332.60 281.00,332.60 281.40,332.60 281.80,332.60 282.20,332.59 282.60,332.59 283.00,332.59 283.40,332.59 283.80,332.59 284.20,332.59 284.60,332.59 285.00,332.59 285.40,332.59 285.80,332.59 286.20,332.59 286.60,332.59 287.00,332.59 287.40,332.59 287.80,332.58 288.20,332.58 288.60,332.58 289.00,332.58 289.40,332.58 289.80,332.58 290.20,332.58 290.60,332.57 291.00,332.57 291.40,332.57 291.80,332.57 292.20,332.57 292.60,332.56 293.00,332.56 293.40,332.56 293.80,332.56 294.20,332.55 294.60,332.55 295.00,332.55 295.40,332.54 295.80,332.54 296.20,332.53 296.60,332.53 297.00,332.52 297.40,332.52 297.80,332.51 298.20,332.51 298.60,332.50 299.00,332.49 299.40,332.49 299.80,332.48 300.20,332.47 300.60,332.46 301.00,332.45 301.40,332.44 301.80,332.43 302.20,332.42 302.60,332.41 303.00,332.40 303.40,332.39 303.80,332.37 304.20,332.36 304.60,332.34 305.00,332.33 305.40,332.31 305.80,332.29 306.20,332.27 306.60,332.25 307.00,332.23 307.40,332.21 307.80,332.18 308.20,332.16 308.60,332.13 309.00,332.10 309.40,332.07 309.80,332.04 310.20,332.01 310.60,331.97 311.00,331.93 311.40,331.89 311.80,331.85 312.20,331.81 312.60,331.76 313.00,331.71 313.40,331.66 313.80,331.61 314.20,331.55 314.60,331.49 315.00,331.43 315.40,331.37 315.80,331.30 316.20,331.22 316.60,331.15 317.00,331.07 317.40,330.98 317.80,330.89 318.20,330.80 318.60,330.70 319.00,330.60 319.40,330.49 319.80,330.38 320.20,330.26 320.60,330.13 321.00,330.00 321.40,329.87 321.80,329.72 322.20,329.57 322.60,329.41 323.00,329.25 323.40,329.07 323.80,328.89 324.20,328.70 324.60,328.50 325.00,328.29 325.40,328.08 325.80,327.85 326.20,327.61 326.60,327.36 327.00,327.10 327.40,326.83 327.80,326.54 328.20,326.25 328.60,325.94 329.00,325.61 329.40,325.27 329.80,324.92 330.20,324.55 330.60,324.16 331.00,323.76 331.40,323.34 331.80,322.91 332.20,322.45 332.60,321.98 333.00,321.48 333.40,320.97 333.80,320.43 334.20,319.87 334.60,319.29 335.00,318.69 335.40,318.06 335.80,317.41 336.20,316.73 336.60,316.02 337.00,315.29 337.40,314.53 337.80,313.74 338.20,312.92 338.60,312.07 339.00,311.19 339.40,310.28 339.80,309.34 340.20,308.36 340.60,307.36 341.00,306.32 341.40,305.25 341.80,304.14 342.20,303.01 342.60,301.84 343.00,300.64 343.40,299.41 343.80,298.15 344.20,296.86 344.60,295.54 345.00,294.20 345.40,292.83 345.80,291.44 346.20,290.03 346.60,288.60 347.00,287.16 347.40,285.70 347.80,284.24 348.20,282.77 348.60,281.29 349.00,279.82 349.40,278.35 349.80,276.89 350.20,275.43 350.60,273.99 351.00,272.56 351.40,271.15 351.80,269.76 352.20,268.39 352.60,267.03 353.00,265.70 353.40,264.40 353.80,263.11 354.20,261.84 354.60,260.59 355.00,259.35 355.40,258.14 355.80,256.93 356.20,255.73 356.60,254.54 357.00,253.36 357.40,252.17 357.80,250.99 358.20,249.81 358.60,248.62 359.00,247.42 359.40,246.22 359.80,245.01 360.20,243.80 360.60,242.58 361.00,241.36 361.40,240.14 361.80,238.92 362.20,237.70 362.60,236.50 363.00,235.30 363.40,234.13 363.80,232.97 364.20,231.85 364.60,230.75 365.00,229.70 365.40,228.70 365.80,227.75 366.20,226.85 366.60,226.02 367.00,225.27 367.40,224.59 367.80,223.99 368.20,223.48 368.60,223.06 369.00,222.73 369.40,222.51 369.80,222.38 370.20,222.36 370.60,222.44 371.00,222.62 371.40,222.90 371.80,223.29 372.20,223.77 372.60,224.34 373.00,225.01 373.40,225.75 373.80,226.57 374.20,227.46 374.60,228.40 375.00,229.40 375.40,230.43 375.80,231.49 376.20,232.56 376.60,233.64 377.00,234.71 377.40,235.75 377.80,236.75 378.20,237.71 378.60,238.60 379.00,239.42 379.40,240.15 379.80,240.78 380.20,241.31 380.60,241.72 381.00,242.00 381.40,242.15 381.80,242.17 382.20,242.05 382.60,241.79 383.00,241.40 383.40,240.87 383.80,240.22 384.20,239.45 384.60,238.57 385.00,237.60 385.40,236.54 385.80,235.42 386.20,234.26 386.60,233.07 387.00,231.88 387.40,230.70 387.80,229.56 388.20,228.49 388.60,227.50 389.00,226.62 389.40,225.87 389.80,225.27 390.20,224.84 390.60,224.60 391.00,224.57 391.40,224.76 391.80,225.17 392.20,225.83 392.60,226.73 393.00,227.88 393.40,229.28 393.80,230.93 394.20,232.82 394.60,234.94 395.00,237.29 395.40,239.84 395.80,242.59 396.20,245.52 396.60,248.60 397.00,251.82 397.40,255.16 397.80,258.60 398.20,262.11 398.60,265.67 399.00,269.25 399.40,272.85 399.80,276.43 400.20,279.98 400.60,283.48 401.00,286.91 401.40,290.25 401.80,293.50 402.20,296.64 402.60,299.66 403.00,302.55 403.40,305.30 403.80,307.91 404.20,310.38 404.60,312.70 405.00,314.88 405.40,316.91 405.80,318.80 406.20,320.54 406.60,322.16 407.00,323.64 407.40,324.99 407.80,326.23 408.20,327.35 408.60,328.37 409.00,329.28 409.40,330.11 409.80,330.84 410.20,331.50 410.60,332.09 411.00,332.61 411.40,333.07 411.80,333.47 412.20,333.83 412.60,334.14 413.00,334.41 413.40,334.65 413.80,334.86 414.20,335.03 414.60,335.19 415.00,335.32 415.40,335.44 415.80,335.54 416.20,335.62 416.60,335.70 417.00,335.76 417.40,335.81 417.80,335.86 418.20,335.90 418.60,335.94 419.00,335.97 419.40,335.99 419.80,336.01 420.20,336.03 420.60,336.05 421.00,336.06 421.40,336.08 421.80,336.09 422.20,336.10 422.60,336.11 423.00,336.12 423.40,336.12 423.80,336.13 424.20,336.14 424.60,336.14 425.00,336.15 425.40,336.15 425.80,336.15 426.20,336.16 426.60,336.16 427.00,336.16 427.40,336.17 427.80,336.17 428.20,336.17 428.60,336.17 429.00,336.18 429.40,336.18 429.80,336.18 430.20,336.18 430.60,336.18 431.00,336.18 431.40,336.19 431.80,336.19 432.20,336.19 432.60,336.19 433.00,336.19 433.40,336.19 433.80,336.19 434.20,336.19 434.60,336.19 435.00,336.19 435.40,336.19 435.80,336.19 436.20,336.19 436.60,336.20 437.00,336.20 437.40,336.20 437.80,336.20 438.20,336.20 438.60,336.20 439.00,336.20 439.40,336.20 439.80,336.20 440.20,336.20 440.60,336.20 441.00,336.20 441.40,336.20 441.80,336.20 442.20,336.20 442.60,336.20 443.00,336.20 443.40,336.20 443.80,336.20 444.20,336.20 444.60,336.20 445.00,336.20 445.40,336.20 445.80,336.20 446.20,336.20" fill="none" stroke="#d0161e" stroke-width="1.9" stroke-linejoin="round" /><polyline points="313.40,332.90 313.80,332.90 314.20,332.90 314.60,332.90 315.00,332.91 315.40,332.91 315.80,332.91 316.20,332.91 316.60,332.91 317.00,332.91 317.40,332.91 317.80,332.91 318.20,332.91 318.60,332.91 319.00,332.91 319.40,332.91 319.80,332.91 320.20,332.91 320.60,332.91 321.00,332.91 321.40,332.91 321.80,332.91 322.20,332.91 322.60,332.91 323.00,332.92 323.40,332.92 323.80,332.92 324.20,332.92 324.60,332.92 325.00,332.92 325.40,332.92 325.80,332.92 326.20,332.92 326.60,332.92 327.00,332.92 327.40,332.92 327.80,332.92 328.20,332.92 328.60,332.93 329.00,332.93 329.40,332.93 329.80,332.93 330.20,332.92 330.60,332.92 331.00,332.92 331.40,332.92 331.80,332.92 332.20,332.92 332.60,332.91 333.00,332.91 333.40,332.90 333.80,332.90 334.20,332.89 334.60,332.88 335.00,332.87 335.40,332.86 335.80,332.84 336.20,332.83 336.60,332.81 337.00,332.78 337.40,332.76 337.80,332.73 338.20,332.69 338.60,332.65 339.00,332.60 339.40,332.55 339.80,332.49 340.20,332.43 340.60,332.35 341.00,332.27 341.40,332.17 341.80,332.07 342.20,331.95 342.60,331.82 343.00,331.67 343.40,331.51 343.80,331.33 344.20,331.13 344.60,330.91 345.00,330.66 345.40,330.40 345.80,330.10 346.20,329.78 346.60,329.43 347.00,329.05 347.40,328.64 347.80,328.19 348.20,327.70 348.60,327.17 349.00,326.60 349.40,325.98 349.80,325.32 350.20,324.61 350.60,323.85 351.00,323.04 351.40,322.17 351.80,321.25 352.20,320.27 352.60,319.23 353.00,318.14 353.40,316.98 353.80,315.75 354.20,314.47 354.60,313.12 355.00,311.71 355.40,310.24 355.80,308.70 356.20,307.11 356.60,305.45 357.00,303.74 357.40,301.97 357.80,300.15 358.20,298.27 358.60,296.36 359.00,294.39 359.40,292.39 359.80,290.36 360.20,288.29 360.60,286.20 361.00,284.10 361.40,281.98 361.80,279.86 362.20,277.74 362.60,275.63 363.00,273.53 363.40,271.46 363.80,269.42 364.20,267.41 364.60,265.46 365.00,263.56 365.40,261.72 365.80,259.95 366.20,258.26 366.60,256.66 367.00,255.15 367.40,253.73 367.80,252.42 368.20,251.23 368.60,250.15 369.00,249.19 369.40,248.36 369.80,247.66 370.20,247.09 370.60,246.66 371.00,246.37 371.40,246.23 371.80,246.22 372.20,246.35 372.60,246.63 373.00,247.04 373.40,247.60 373.80,248.29 374.20,249.11 374.60,250.06 375.00,251.13 375.40,252.33 375.80,253.63 376.20,255.05 376.60,256.57 377.00,258.18 377.40,259.88 377.80,261.66 378.20,263.52 378.60,265.44 379.00,267.42 379.40,269.45 379.80,271.52 380.20,273.62 380.60,275.76 381.00,277.91 381.40,280.08 381.80,282.25 382.20,284.41 382.60,286.57 383.00,288.72 383.40,290.84 383.80,292.94 384.20,295.00 384.60,297.03 385.00,299.02 385.40,300.96 385.80,302.86 386.20,304.70 386.60,306.49 387.00,308.22 387.40,309.89 387.80,311.50 388.20,313.05 388.60,314.54 389.00,315.97 389.40,317.33 389.80,318.63 390.20,319.87 390.60,321.04 391.00,322.16 391.40,323.21 391.80,324.21 392.20,325.15 392.60,326.03 393.00,326.86 393.40,327.64 393.80,328.36 394.20,329.04 394.60,329.68 395.00,330.27 395.40,330.81 395.80,331.32 396.20,331.79 396.60,332.22 397.00,332.62 397.40,332.99 397.80,333.33 398.20,333.64 398.60,333.92 399.00,334.18 399.40,334.42 399.80,334.64 400.20,334.83 400.60,335.01 401.00,335.17 401.40,335.32 401.80,335.45 402.20,335.57 402.60,335.67 403.00,335.77 403.40,335.85 403.80,335.93 404.20,336.00 404.60,336.06 405.00,336.11 405.40,336.16 405.80,336.21 406.20,336.24 406.60,336.28 407.00,336.31 407.40,336.33 407.80,336.35 408.20,336.37 408.60,336.39 409.00,336.41 409.40,336.42 409.80,336.43 410.20,336.44 410.60,336.45 411.00,336.46 411.40,336.46 411.80,336.47" fill="none" stroke="#d61cd8" stroke-width="1.7" stroke-linejoin="round" /><polyline points="338.20,333.21 338.60,333.21 339.00,333.22 339.40,333.22 339.80,333.23 340.20,333.23 340.60,333.24 341.00,333.25 341.40,333.25 341.80,333.26 342.20,333.27 342.60,333.27 343.00,333.28 343.40,333.29 343.80,333.30 344.20,333.31 344.60,333.32 345.00,333.33 345.40,333.34 345.80,333.35 346.20,333.36 346.60,333.37 347.00,333.38 347.40,333.39 347.80,333.40 348.20,333.42 348.60,333.43 349.00,333.44 349.40,333.46 349.80,333.47 350.20,333.48 350.60,333.50 351.00,333.51 351.40,333.53 351.80,333.54 352.20,333.56 352.60,333.58 353.00,333.59 353.40,333.61 353.80,333.63 354.20,333.65 354.60,333.66 355.00,333.68 355.40,333.70 355.80,333.72 356.20,333.74 356.60,333.76 357.00,333.78 357.40,333.80 357.80,333.82 358.20,333.84 358.60,333.86 359.00,333.88 359.40,333.90 359.80,333.93 360.20,333.95 360.60,333.97 361.00,333.99 361.40,334.01 361.80,334.04 362.20,334.06 362.60,334.08 363.00,334.10 363.40,334.12 363.80,334.14 364.20,334.16 364.60,334.18 365.00,334.20 365.40,334.22 365.80,334.23 366.20,334.24 366.60,334.25 367.00,334.26 367.40,334.26 367.80,334.25 368.20,334.24 368.60,334.22 369.00,334.19 369.40,334.15 369.80,334.10 370.20,334.03 370.60,333.95 371.00,333.84 371.40,333.72 371.80,333.56 372.20,333.38 372.60,333.17 373.00,332.91 373.40,332.62 373.80,332.28 374.20,331.88 374.60,331.43 375.00,330.91 375.40,330.33 375.80,329.66 376.20,328.92 376.60,328.09 377.00,327.16 377.40,326.12 377.80,324.98 378.20,323.73 378.60,322.35 379.00,320.85 379.40,319.22 379.80,317.46 380.20,315.56 380.60,313.53 381.00,311.36 381.40,309.05 381.80,306.61 382.20,304.04 382.60,301.34 383.00,298.54 383.40,295.63 383.80,292.62 384.20,289.53 384.60,286.38 385.00,283.18 385.40,279.95 385.80,276.72 386.20,273.49 386.60,270.30 387.00,267.16 387.40,264.11 387.80,261.16 388.20,258.34 388.60,255.67 389.00,253.18 389.40,250.89 389.80,248.81 390.20,246.98 390.60,245.40 391.00,244.09 391.40,243.07 391.80,242.34 392.20,241.91 392.60,241.78 393.00,241.96 393.40,242.45 393.80,243.24 394.20,244.32 394.60,245.69 395.00,247.32 395.40,249.21 395.80,251.34 396.20,253.69 396.60,256.23 397.00,258.95 397.40,261.82 397.80,264.82 398.20,267.92 398.60,271.10 399.00,274.34 399.40,277.61 399.80,280.89 400.20,284.16 400.60,287.40 401.00,290.59 401.40,293.72 401.80,296.76 402.20,299.70 402.60,302.55 403.00,305.27 403.40,307.87 403.80,310.35 404.20,312.69 404.60,314.89 405.00,316.95 405.40,318.88 405.80,320.67 406.20,322.33 406.60,323.86 407.00,325.26 407.40,326.55 407.80,327.71 408.20,328.77 408.60,329.73 409.00,330.59 409.40,331.37 409.80,332.06 410.20,332.67 410.60,333.21 411.00,333.69 411.40,334.12 411.80,334.49 412.20,334.81 412.60,335.09 413.00,335.34 413.40,335.55 413.80,335.73 414.20,335.88 414.60,336.02 415.00,336.13 415.40,336.23 415.80,336.31 416.20,336.37 416.60,336.43 417.00,336.48 417.40,336.52 417.80,336.55 418.20,336.58 418.60,336.60 419.00,336.62 419.40,336.64 419.80,336.65 420.20,336.66 420.60,336.67 421.00,336.67 421.40,336.68 421.80,336.68 422.20,336.69 422.60,336.69 423.00,336.69 423.40,336.69 423.80,336.70 424.20,336.70 424.60,336.70 425.00,336.70 425.40,336.70 425.80,336.70 426.20,336.70 426.60,336.70 427.00,336.70 427.40,336.70 427.80,336.70 428.20,336.70 428.60,336.70 429.00,336.70 429.40,336.70 429.80,336.70 430.20,336.70 430.60,336.70 431.00,336.70 431.40,336.70 431.80,336.70" fill="none" stroke="#1818c8" stroke-width="1.7" stroke-linejoin="round" /><polyline points="256.60,332.60 257.00,332.60 257.40,332.60 257.80,332.60 258.20,332.60 258.60,332.60 259.00,332.60 259.40,332.60 259.80,332.60 260.20,332.60 260.60,332.60 261.00,332.60 261.40,332.60 261.80,332.60 262.20,332.60 262.60,332.60 263.00,332.60 263.40,332.60 263.80,332.60 264.20,332.60 264.60,332.60 265.00,332.60 265.40,332.60 265.80,332.60 266.20,332.60 266.60,332.60 267.00,332.60 267.40,332.60 267.80,332.60 268.20,332.60 268.60,332.60 269.00,332.60 269.40,332.60 269.80,332.60 270.20,332.60 270.60,332.60 271.00,332.60 271.40,332.60 271.80,332.60 272.20,332.60 272.60,332.60 273.00,332.60 273.40,332.60 273.80,332.60 274.20,332.60 274.60,332.60 275.00,332.60 275.40,332.60 275.80,332.60 276.20,332.60 276.60,332.60 277.00,332.60 277.40,332.60 277.80,332.60 278.20,332.60 278.60,332.60 279.00,332.60 279.40,332.60 279.80,332.60 280.20,332.60 280.60,332.60 281.00,332.60 281.40,332.60 281.80,332.60 282.20,332.59 282.60,332.59 283.00,332.59 283.40,332.59 283.80,332.59 284.20,332.59 284.60,332.59 285.00,332.59 285.40,332.59 285.80,332.59 286.20,332.59 286.60,332.59 287.00,332.59 287.40,332.59 287.80,332.58 288.20,332.58 288.60,332.58 289.00,332.58 289.40,332.58 289.80,332.58 290.20,332.58 290.60,332.57 291.00,332.57 291.40,332.57 291.80,332.57 292.20,332.57 292.60,332.56 293.00,332.56 293.40,332.56 293.80,332.56 294.20,332.55 294.60,332.55 295.00,332.55 295.40,332.54 295.80,332.54 296.20,332.53 296.60,332.53 297.00,332.52 297.40,332.52 297.80,332.51 298.20,332.51 298.60,332.50 299.00,332.50 299.40,332.49 299.80,332.48 300.20,332.47 300.60,332.46 301.00,332.46 301.40,332.45 301.80,332.44 302.20,332.43 302.60,332.41 303.00,332.40 303.40,332.39 303.80,332.38 304.20,332.36 304.60,332.35 305.00,332.33 305.40,332.32 305.80,332.30 306.20,332.28 306.60,332.26 307.00,332.24 307.40,332.22 307.80,332.19 308.20,332.17 308.60,332.14 309.00,332.12 309.40,332.09 309.80,332.06 310.20,332.02 310.60,331.99 311.00,331.96 311.40,331.92 311.80,331.88 312.20,331.84 312.60,331.79 313.00,331.75 313.40,331.70 313.80,331.65 314.20,331.59 314.60,331.54 315.00,331.48 315.40,331.42 315.80,331.35 316.20,331.28 316.60,331.21 317.00,331.14 317.40,331.06 317.80,330.97 318.20,330.89 318.60,330.79 319.00,330.70 319.40,330.60 319.80,330.49 320.20,330.38 320.60,330.26 321.00,330.14 321.40,330.02 321.80,329.88 322.20,329.74 322.60,329.60 323.00,329.44 323.40,329.28 323.80,329.12 324.20,328.94 324.60,328.76 325.00,328.57 325.40,328.36 325.80,328.16 326.20,327.94 326.60,327.71 327.00,327.47 327.40,327.22 327.80,326.96 328.20,326.69 328.60,326.40 329.00,326.11 329.40,325.80 329.80,325.48 330.20,325.14 330.60,324.79 331.00,324.43 331.40,324.05 331.80,323.65 332.20,323.24 332.60,322.82 333.00,322.37 333.40,321.91 333.80,321.43 334.20,320.93 334.60,320.41 335.00,319.87 335.40,319.31 335.80,318.73 336.20,318.13 336.60,317.50 337.00,316.86 337.40,316.19 337.80,315.51 338.20,314.79 338.60,314.06 339.00,313.30 339.40,312.52 339.80,311.72 340.20,310.90 340.60,310.06 341.00,309.19 341.40,308.31 341.80,307.40 342.20,306.48 342.60,305.55 343.00,304.60 343.40,303.63 343.80,302.66 344.20,301.68 344.60,300.69 345.00,299.71 345.40,298.72 345.80,297.74 346.20,296.78 346.60,295.82 347.00,294.88 347.40,293.97 347.80,293.09 348.20,292.24 348.60,291.42 349.00,290.65 349.40,289.94 349.80,289.27 350.20,288.66 350.60,288.12 351.00,287.65 351.40,287.25 351.80,286.92 352.20,286.67 352.60,286.50 353.00,286.42 353.40,286.41 353.80,286.49 354.20,286.65 354.60,286.90 355.00,287.22 355.40,287.62 355.80,288.09 356.20,288.63 356.60,289.24 357.00,289.91 357.40,290.64 357.80,291.42 358.20,292.24 358.60,293.11 359.00,294.01 359.40,294.94 359.80,295.90 360.20,296.88 360.60,297.88 361.00,298.89 361.40,299.90 361.80,300.92 362.20,301.94 362.60,302.96 363.00,303.97 363.40,304.97 363.80,305.96 364.20,306.94 364.60,307.90 365.00,308.84 365.40,309.77 365.80,310.68 366.20,311.57 366.60,312.43 367.00,313.28 367.40,314.10 367.80,314.90 368.20,315.68 368.60,316.44 369.00,317.17 369.40,317.88 369.80,318.57 370.20,319.23 370.60,319.88 371.00,320.50 371.40,321.10 371.80,321.68 372.20,322.24 372.60,322.78 373.00,323.31 373.40,323.81 373.80,324.29 374.20,324.76 374.60,325.21 375.00,325.64 375.40,326.06 375.80,326.46 376.20,326.84 376.60,327.21 377.00,327.57 377.40,327.91 377.80,328.24 378.20,328.56 378.60,328.86 379.00,329.15 379.40,329.43 379.80,329.70 380.20,329.96 380.60,330.21 381.00,330.45 381.40,330.68 381.80,330.90 382.20,331.11 382.60,331.31 383.00,331.51 383.40,331.70 383.80,331.88 384.20,332.06 384.60,332.22 385.00,332.39 385.40,332.54 385.80,332.69 386.20,332.84 386.60,332.98 387.00,333.11 387.40,333.24 387.80,333.37 388.20,333.49 388.60,333.61 389.00,333.73 389.40,333.84 389.80,333.94 390.20,334.05 390.60,334.15 391.00,334.24 391.40,334.34 391.80,334.43 392.20,334.51 392.60,334.60 393.00,334.68 393.40,334.76 393.80,334.83 394.20,334.91 394.60,334.98 395.00,335.05 395.40,335.11 395.80,335.17 396.20,335.23 396.60,335.29 397.00,335.34 397.40,335.40 397.80,335.45 398.20,335.49 398.60,335.54 399.00,335.58 399.40,335.62 399.80,335.66 400.20,335.70 400.60,335.73 401.00,335.76 401.40,335.79 401.80,335.82 402.20,335.85 402.60,335.87 403.00,335.90 403.40,335.92 403.80,335.94 404.20,335.96 404.60,335.98 405.00,335.99 405.40,336.01 405.80,336.02 406.20,336.04 406.60,336.05 407.00,336.06 407.40,336.07 407.80,336.08 408.20,336.09 408.60,336.10 409.00,336.10 409.40,336.11 409.80,336.12 410.20,336.12 410.60,336.13 411.00,336.13 411.40,336.14 411.80,336.14 412.20,336.15 412.60,336.15 413.00,336.15 413.40,336.16 413.80,336.16 414.20,336.16 414.60,336.17 415.00,336.17 415.40,336.17 415.80,336.17 416.20,336.17 416.60,336.18 417.00,336.18 417.40,336.18 417.80,336.18 418.20,336.18 418.60,336.18 419.00,336.19 419.40,336.19 419.80,336.19 420.20,336.19 420.60,336.19 421.00,336.19 421.40,336.19 421.80,336.19 422.20,336.19 422.60,336.19 423.00,336.19 423.40,336.19 423.80,336.19 424.20,336.19 424.60,336.19 425.00,336.20 425.40,336.20 425.80,336.20 426.20,336.20 426.60,336.20 427.00,336.20 427.40,336.20 427.80,336.20 428.20,336.20 428.60,336.20 429.00,336.20 429.40,336.20 429.80,336.20 430.20,336.20 430.60,336.20 431.00,336.20 431.40,336.20 431.80,336.20 432.20,336.20 432.60,336.20 433.00,336.20 433.40,336.20 433.80,336.20 434.20,336.20 434.60,336.20 435.00,336.20 435.40,336.20 435.80,336.20 436.20,336.20 436.60,336.20 437.00,336.20 437.40,336.20 437.80,336.20 438.20,336.20 438.60,336.20 439.00,336.20 439.40,336.20 439.80,336.20 440.20,336.20 440.60,336.20 441.00,336.20 441.40,336.20 441.80,336.20 442.20,336.20 442.60,336.20 443.00,336.20 443.40,336.20 443.80,336.20 444.20,336.20 444.60,336.20 445.00,336.20 445.40,336.20 445.80,336.20 446.20,336.20" fill="none" stroke="#167a16" stroke-width="1.9" stroke-linejoin="round" /><rect x="256" y="208.9" width="191" height="141.20000000000002" fill="none" stroke="#151515" stroke-width="1.6"/><line x1="269.7" y1="350.1" x2="269.7" y2="353.40000000000003" stroke="#151515" stroke-width="1.1"/><text x="269.7" y="362.2" font-size="9.3" fill="#222" text-anchor="middle" >540</text><line x1="296.91999999999996" y1="350.1" x2="296.91999999999996" y2="353.40000000000003" stroke="#151515" stroke-width="1.1"/><text x="296.91999999999996" y="362.2" font-size="9.3" fill="#222" text-anchor="middle" >538</text><line x1="324.14" y1="350.1" x2="324.14" y2="353.40000000000003" stroke="#151515" stroke-width="1.1"/><text x="324.14" y="362.2" font-size="9.3" fill="#222" text-anchor="middle" >536</text><line x1="351.36" y1="350.1" x2="351.36" y2="353.40000000000003" stroke="#151515" stroke-width="1.1"/><text x="351.36" y="362.2" font-size="9.3" fill="#222" text-anchor="middle" >534</text><line x1="378.58" y1="350.1" x2="378.58" y2="353.40000000000003" stroke="#151515" stroke-width="1.1"/><text x="378.58" y="362.2" font-size="9.3" fill="#222" text-anchor="middle" >532</text><line x1="405.79999999999995" y1="350.1" x2="405.79999999999995" y2="353.40000000000003" stroke="#151515" stroke-width="1.1"/><text x="405.79999999999995" y="362.2" font-size="9.3" fill="#222" text-anchor="middle" >530</text><line x1="433.02" y1="350.1" x2="433.02" y2="353.40000000000003" stroke="#151515" stroke-width="1.1"/><text x="433.02" y="362.2" font-size="9.3" fill="#222" text-anchor="middle" >528</text><text x="267.6" y="225.6" font-size="8" fill="#222" stroke="#222" stroke-width="0.12" text-anchor="start" >O 1s</text><text x="267.6" y="235.4" font-size="8" fill="#222" stroke="#222" stroke-width="0.12" text-anchor="start" >ZnO</text><line x1="409.2" y1="237.7" x2="398.38" y2="238.86" stroke="#111" stroke-width="0.8"/><polygon points="395.20,239.20 398.23,237.47 398.53,240.25" fill="#111"/><text x="411.9" y="239.2" font-size="8" fill="#222" stroke="#222" stroke-width="0.12" text-anchor="start" >531.1</text><line x1="354.8" y1="240.3" x2="366.39" y2="243.14" stroke="#111" stroke-width="0.8"/><polygon points="369.50,243.90 366.06,244.50 366.72,241.78" fill="#111"/><text x="352.1" y="241.9" font-size="8" fill="#222" stroke="#222" stroke-width="0.12" text-anchor="end" >532.5</text><line x1="342.9" y1="277.2" x2="349.26" y2="282.62" stroke="#111" stroke-width="0.8"/><polygon points="351.70,284.70 348.36,283.69 350.17,281.56" fill="#111"/><text x="322.0" y="275.0" font-size="8" fill="#222" stroke="#222" stroke-width="0.12" text-anchor="start" >533.9</text><text x="349.5" y="203.5" font-size="12" fill="#222" text-anchor="middle" >(e)</text><text x="351.6" y="378.8" font-size="11.0" fill="#222" text-anchor="middle" >Binding energy (eV)</text><text x="0" y="0" font-size="10.7" fill="#222" text-anchor="middle" transform="translate(241.6,285.5) rotate(-90)">Intensity (a.u)</text>
<polyline points="485.70,338.17 486.10,337.66 486.50,338.10 486.90,338.29 487.30,338.22 487.70,338.34 488.10,338.22 488.50,337.84 488.90,338.60 489.30,337.99 489.70,337.80 490.10,338.40 490.50,337.77 490.90,338.23 491.30,337.75 491.70,338.33 492.10,338.37 492.50,337.85 492.90,338.16 493.30,338.20 493.70,337.97 494.10,338.14 494.50,337.96 494.90,337.80 495.30,337.70 495.70,338.08 496.10,338.16 496.50,338.24 496.90,338.14 497.30,338.20 497.70,337.90 498.10,338.52 498.50,337.77 498.90,338.23 499.30,337.96 499.70,337.93 500.10,338.62 500.50,338.17 500.90,337.68 501.30,338.13 501.70,337.89 502.10,338.57 502.50,337.78 502.90,338.04 503.30,337.87 503.70,337.85 504.10,338.23 504.50,338.35 504.90,338.39 505.30,337.98 505.70,337.85 506.10,338.18 506.50,337.91 506.90,338.48 507.30,337.62 507.70,338.15 508.10,337.66 508.50,337.73 508.90,337.55 509.30,337.63 509.70,338.17 510.10,337.80 510.50,337.70 510.90,337.65 511.30,337.73 511.70,337.88 512.10,338.26 512.50,338.01 512.90,337.99 513.30,337.96 513.70,338.21 514.10,337.73 514.50,338.09 514.90,337.67 515.30,337.69 515.70,338.18 516.10,338.01 516.50,337.94 516.90,337.71 517.30,338.13 517.70,338.63 518.10,338.16 518.50,338.17 518.90,337.97 519.30,338.35 519.70,337.89 520.10,338.86 520.50,338.08 520.90,338.02 521.30,338.36 521.70,337.68 522.10,337.81 522.50,337.79 522.90,337.94 523.30,338.52 523.70,337.73 524.10,338.73 524.50,338.29 524.90,338.47 525.30,338.07 525.70,337.56 526.10,337.66 526.50,338.39 526.90,337.92 527.30,338.11 527.70,338.10 528.10,338.45 528.50,338.39 528.90,338.11 529.30,338.04 529.70,338.31 530.10,337.70 530.50,337.81 530.90,337.63 531.30,337.75 531.70,337.57 532.10,338.26 532.50,337.94 532.90,338.54 533.30,337.92 533.70,338.09 534.10,337.87 534.50,338.22 534.90,338.18 535.30,337.91 535.70,338.10 536.10,337.78 536.50,337.84 536.90,337.70 537.30,338.25 537.70,337.72 538.10,337.67 538.50,338.26 538.90,337.95 539.30,337.57 539.70,337.64 540.10,337.78 540.50,337.63 540.90,337.92 541.30,337.59 541.70,337.58 542.10,338.15 542.50,338.41 542.90,338.30 543.30,337.79 543.70,338.05 544.10,337.83 544.50,338.40 544.90,337.96 545.30,338.00 545.70,338.40 546.10,338.20 546.50,337.86 546.90,337.52 547.30,337.69 547.70,337.37 548.10,338.25 548.50,337.69 548.90,337.92 549.30,337.75 549.70,337.46 550.10,337.73 550.50,337.73 550.90,337.57 551.30,337.55 551.70,337.62 552.10,337.21 552.50,337.41 552.90,337.27 553.30,337.13 553.70,337.35 554.10,336.62 554.50,336.80 554.90,337.08 555.30,337.53 555.70,337.18 556.10,336.73 556.50,337.29 556.90,336.83 557.30,336.51 557.70,336.58 558.10,336.97 558.50,336.66 558.90,336.12 559.30,335.90 559.70,336.27 560.10,335.64 560.50,335.70 560.90,335.91 561.30,335.26 561.70,335.18 562.10,335.32 562.50,335.01 562.90,335.29 563.30,334.73 563.70,334.71 564.10,334.53 564.50,333.95 564.90,334.15 565.30,334.05 565.70,333.38 566.10,333.02 566.50,332.84 566.90,333.06 567.30,332.36 567.70,331.92 568.10,331.40 568.50,331.43 568.90,330.73 569.30,331.04 569.70,330.19 570.10,329.69 570.50,329.96 570.90,329.39 571.30,329.03 571.70,328.21 572.10,328.28 572.50,327.71 572.90,327.22 573.30,326.98 573.70,326.56 574.10,325.75 574.50,325.74 574.90,324.94 575.30,324.26 575.70,323.95 576.10,323.32 576.50,323.16 576.90,322.25 577.30,321.59 577.70,321.08 578.10,320.76 578.50,319.51 578.90,319.02 579.30,318.76 579.70,318.40 580.10,317.89 580.50,317.05 580.90,316.12 581.30,315.39 581.70,315.39 582.10,314.76 582.50,314.42 582.90,314.07 583.30,312.99 583.70,313.12 584.10,312.07 584.50,311.63 584.90,311.23 585.30,310.13 585.70,310.89 586.10,309.64 586.50,309.59 586.90,308.62 587.30,307.92 587.70,307.65 588.10,307.21 588.50,306.58 588.90,306.00 589.30,306.56 589.70,305.76 590.10,305.63 590.50,305.58 590.90,304.70 591.30,304.49 591.70,304.40 592.10,303.84 592.50,303.40 592.90,302.66 593.30,302.24 593.70,302.27 594.10,301.51 594.50,301.33 594.90,300.73 595.30,300.04 595.70,299.47 596.10,298.62 596.50,298.11 596.90,296.29 597.30,295.74 597.70,295.01 598.10,294.26 598.50,292.04 598.90,291.00 599.30,289.79 599.70,288.42 600.10,286.16 600.50,283.81 600.90,282.46 601.30,280.40 601.70,277.98 602.10,275.49 602.50,272.93 602.90,269.78 603.30,267.28 603.70,264.36 604.10,261.02 604.50,257.58 604.90,254.40 605.30,251.49 605.70,247.78 606.10,245.04 606.50,241.47 606.90,238.15 607.30,235.40 607.70,232.21 608.10,230.10 608.50,227.36 608.90,224.45 609.30,222.57 609.70,220.42 610.10,219.91 610.50,218.84 610.90,218.21 611.30,217.57 611.70,218.68 612.10,219.26 612.50,219.84 612.90,221.27 613.30,223.18 613.70,225.80 614.10,228.25 614.50,231.03 614.90,234.18 615.30,237.31 615.70,241.20 616.10,244.73 616.50,249.52 616.90,253.32 617.30,257.52 617.70,261.61 618.10,265.68 618.50,269.58 618.90,274.09 619.30,278.27 619.70,282.29 620.10,286.55 620.50,290.32 620.90,293.37 621.30,296.87 621.70,300.72 622.10,302.93 622.50,306.46 622.90,309.57 623.30,312.02 623.70,314.32 624.10,316.95 624.50,318.73 624.90,320.66 625.30,322.81 625.70,324.41 626.10,326.18 626.50,327.79 626.90,329.16 627.30,329.26 627.70,331.16 628.10,332.22 628.50,333.20 628.90,333.67 629.30,334.41 629.70,335.27 630.10,335.53 630.50,335.80 630.90,336.97 631.30,337.39 631.70,337.22 632.10,338.22 632.50,337.94 632.90,338.58 633.30,338.32 633.70,338.90 634.10,338.87 634.50,339.09 634.90,339.47 635.30,339.68 635.70,339.32 636.10,340.14 636.50,339.52 636.90,339.38 637.30,339.81 637.70,340.51 638.10,339.86 638.50,339.64 638.90,339.87 639.30,340.20 639.70,340.29 640.10,340.28 640.50,340.48 640.90,340.78 641.30,340.24 641.70,340.34 642.10,340.23 642.50,340.35 642.90,340.60 643.30,340.36 643.70,339.96 644.10,340.53 644.50,340.71 644.90,340.34 645.30,340.83 645.70,340.58 646.10,339.85 646.50,340.14 646.90,339.95 647.30,340.13 647.70,340.02 648.10,340.34 648.50,340.46 648.90,339.70 649.30,340.51 649.70,340.24 650.10,340.57 650.50,340.20 650.90,339.61 651.30,340.24 651.70,340.39 652.10,340.40 652.50,340.26 652.90,339.97 653.30,340.01 653.70,340.04 654.10,339.98 654.50,340.29 654.90,340.39 655.30,340.52 655.70,340.39 656.10,340.24 656.50,340.46 656.90,340.28 657.30,339.99 657.70,340.55 658.10,340.27 658.50,340.26 658.90,340.64 659.30,340.44 659.70,340.48 660.10,340.87 660.50,340.63 660.90,340.54 661.30,340.33 661.70,339.70 662.10,339.57 662.50,340.01 662.90,340.97 663.30,340.24 663.70,340.15 664.10,340.45 664.50,340.62 664.90,340.40 665.30,340.45 665.70,340.39 666.10,340.18 666.50,340.12 666.90,339.62 667.30,340.26 667.70,340.27 668.10,340.36 668.50,340.56 668.90,339.88 669.30,339.93 669.70,340.48 670.10,339.80 670.50,340.32 670.90,340.27 671.30,340.41 671.70,340.01 672.10,340.43 672.50,339.91 672.90,340.49 673.30,340.25 673.70,340.13 674.10,340.31 674.50,340.63 674.90,339.94" fill="none" stroke="#111" stroke-width="1.3" stroke-linejoin="round" /><polyline points="485.70,338.00 486.10,338.00 486.50,338.00 486.90,338.00 487.30,338.00 487.70,338.00 488.10,338.00 488.50,338.00 488.90,338.00 489.30,338.00 489.70,338.00 490.10,338.00 490.50,338.00 490.90,338.00 491.30,338.00 491.70,338.00 492.10,338.00 492.50,338.00 492.90,338.00 493.30,338.00 493.70,338.00 494.10,338.00 494.50,338.00 494.90,338.00 495.30,338.00 495.70,338.00 496.10,338.00 496.50,338.00 496.90,338.00 497.30,338.00 497.70,338.00 498.10,338.00 498.50,338.00 498.90,338.00 499.30,338.00 499.70,338.00 500.10,338.00 500.50,338.00 500.90,338.00 501.30,338.00 501.70,338.00 502.10,338.00 502.50,338.00 502.90,338.00 503.30,338.00 503.70,338.00 504.10,338.00 504.50,338.00 504.90,338.00 505.30,338.00 505.70,338.00 506.10,338.00 506.50,338.00 506.90,338.00 507.30,338.00 507.70,338.00 508.10,338.00 508.50,338.00 508.90,338.00 509.30,338.00 509.70,338.00 510.10,338.00 510.50,338.00 510.90,338.00 511.30,338.00 511.70,338.00 512.10,338.00 512.50,338.00 512.90,338.00 513.30,338.00 513.70,338.00 514.10,338.00 514.50,338.00 514.90,338.00 515.30,338.00 515.70,338.00 516.10,338.00 516.50,338.00 516.90,338.00 517.30,338.00 517.70,338.00 518.10,338.00 518.50,338.00 518.90,338.00 519.30,338.00 519.70,338.00 520.10,338.00 520.50,338.00 520.90,338.00 521.30,338.00 521.70,338.00 522.10,338.00 522.50,338.00 522.90,338.00 523.30,338.00 523.70,338.00 524.10,338.00 524.50,338.00 524.90,338.00 525.30,338.00 525.70,338.00 526.10,338.00 526.50,338.00 526.90,338.00 527.30,338.00 527.70,338.00 528.10,338.00 528.50,338.00 528.90,338.00 529.30,338.00 529.70,338.00 530.10,338.00 530.50,338.00 530.90,338.00 531.30,337.99 531.70,337.99 532.10,337.99 532.50,337.99 532.90,337.99 533.30,337.99 533.70,337.99 534.10,337.99 534.50,337.99 534.90,337.99 535.30,337.99 535.70,337.98 536.10,337.98 536.50,337.98 536.90,337.98 537.30,337.98 537.70,337.97 538.10,337.97 538.50,337.97 538.90,337.97 539.30,337.96 539.70,337.96 540.10,337.96 540.50,337.95 540.90,337.95 541.30,337.94 541.70,337.94 542.10,337.93 542.50,337.92 542.90,337.92 543.30,337.91 543.70,337.90 544.10,337.89 544.50,337.88 544.90,337.87 545.30,337.86 545.70,337.85 546.10,337.84 546.50,337.82 546.90,337.81 547.30,337.79 547.70,337.78 548.10,337.76 548.50,337.74 548.90,337.72 549.30,337.69 549.70,337.67 550.10,337.64 550.50,337.61 550.90,337.58 551.30,337.55 551.70,337.52 552.10,337.48 552.50,337.44 552.90,337.40 553.30,337.35 553.70,337.31 554.10,337.25 554.50,337.20 554.90,337.14 555.30,337.08 555.70,337.01 556.10,336.95 556.50,336.87 556.90,336.79 557.30,336.71 557.70,336.62 558.10,336.53 558.50,336.43 558.90,336.33 559.30,336.22 559.70,336.10 560.10,335.98 560.50,335.85 560.90,335.71 561.30,335.57 561.70,335.42 562.10,335.26 562.50,335.09 562.90,334.92 563.30,334.73 563.70,334.54 564.10,334.34 564.50,334.13 564.90,333.91 565.30,333.68 565.70,333.44 566.10,333.19 566.50,332.92 566.90,332.65 567.30,332.37 567.70,332.07 568.10,331.77 568.50,331.45 568.90,331.12 569.30,330.78 569.70,330.43 570.10,330.06 570.50,329.69 570.90,329.30 571.30,328.90 571.70,328.49 572.10,328.07 572.50,327.63 572.90,327.18 573.30,326.73 573.70,326.26 574.10,325.78 574.50,325.29 574.90,324.80 575.30,324.29 575.70,323.77 576.10,323.25 576.50,322.72 576.90,322.18 577.30,321.64 577.70,321.09 578.10,320.53 578.50,319.97 578.90,319.41 579.30,318.84 579.70,318.28 580.10,317.71 580.50,317.15 580.90,316.58 581.30,316.02 581.70,315.46 582.10,314.90 582.50,314.35 582.90,313.81 583.30,313.27 583.70,312.74 584.10,312.21 584.50,311.70 584.90,311.20 585.30,310.70 585.70,310.22 586.10,309.75 586.50,309.29 586.90,308.84 587.30,308.40 587.70,307.97 588.10,307.56 588.50,307.15 588.90,306.76 589.30,306.37 589.70,305.99 590.10,305.61 590.50,305.24 590.90,304.87 591.30,304.50 591.70,304.13 592.10,303.75 592.50,303.36 592.90,302.96 593.30,302.53 593.70,302.08 594.10,301.61 594.50,301.09 594.90,300.54 595.30,299.94 595.70,299.29 596.10,298.57 596.50,297.78 596.90,296.92 597.30,295.97 597.70,294.93 598.10,293.79 598.50,292.54 598.90,291.17 599.30,289.68 599.70,288.06 600.10,286.31 600.50,284.41 600.90,282.37 601.30,280.19 601.70,277.86 602.10,275.38 602.50,272.76 602.90,270.01 603.30,267.13 603.70,264.13 604.10,261.03 604.50,257.84 604.90,254.59 605.30,251.30 605.70,247.98 606.10,244.68 606.50,241.42 606.90,238.24 607.30,235.16 607.70,232.23 608.10,229.48 608.50,226.95 608.90,224.68 609.30,222.69 609.70,221.01 610.10,219.69 610.50,218.73 610.90,218.16 611.30,218.00 611.70,218.25 612.10,218.91 612.50,219.99 612.90,221.47 613.30,223.34 613.70,225.58 614.10,228.17 614.50,231.08 614.90,234.28 615.30,237.73 615.70,241.40 616.10,245.25 616.50,249.25 616.90,253.36 617.30,257.54 617.70,261.77 618.10,266.00 618.50,270.21 618.90,274.37 619.30,278.46 619.70,282.45 620.10,286.33 620.50,290.09 620.90,293.70 621.30,297.16 621.70,300.47 622.10,303.61 622.50,306.58 622.90,309.38 623.30,312.02 623.70,314.49 624.10,316.79 624.50,318.94 624.90,320.93 625.30,322.77 625.70,324.47 626.10,326.04 626.50,327.47 626.90,328.79 627.30,329.99 627.70,331.08 628.10,332.08 628.50,332.98 628.90,333.79 629.30,334.53 629.70,335.19 630.10,335.78 630.50,336.31 630.90,336.79 631.30,337.21 631.70,337.59 632.10,337.93 632.50,338.22 632.90,338.49 633.30,338.72 633.70,338.92 634.10,339.10 634.50,339.26 634.90,339.40 635.30,339.52 635.70,339.63 636.10,339.72 636.50,339.80 636.90,339.87 637.30,339.93 637.70,339.98 638.10,340.03 638.50,340.07 638.90,340.10 639.30,340.13 639.70,340.16 640.10,340.18 640.50,340.20 640.90,340.21 641.30,340.22 641.70,340.24 642.10,340.24 642.50,340.25 642.90,340.26 643.30,340.27 643.70,340.27 644.10,340.28 644.50,340.28 644.90,340.28 645.30,340.28 645.70,340.29 646.10,340.29 646.50,340.29 646.90,340.29 647.30,340.29 647.70,340.29 648.10,340.29 648.50,340.30 648.90,340.30 649.30,340.30 649.70,340.30 650.10,340.30 650.50,340.30 650.90,340.30 651.30,340.30 651.70,340.30 652.10,340.30 652.50,340.30 652.90,340.30 653.30,340.30 653.70,340.30 654.10,340.30 654.50,340.30 654.90,340.30 655.30,340.30 655.70,340.30 656.10,340.30 656.50,340.30 656.90,340.30 657.30,340.30 657.70,340.30 658.10,340.30 658.50,340.30 658.90,340.30 659.30,340.30 659.70,340.30 660.10,340.30 660.50,340.30 660.90,340.30 661.30,340.30 661.70,340.30 662.10,340.30 662.50,340.30 662.90,340.30 663.30,340.30 663.70,340.30 664.10,340.30 664.50,340.30 664.90,340.30 665.30,340.30 665.70,340.30 666.10,340.30 666.50,340.30 666.90,340.30 667.30,340.30 667.70,340.30 668.10,340.30 668.50,340.30 668.90,340.30 669.30,340.30 669.70,340.30 670.10,340.30 670.50,340.30 670.90,340.30 671.30,340.30 671.70,340.30 672.10,340.30 672.50,340.30 672.90,340.30 673.30,340.30 673.70,340.30 674.10,340.30 674.50,340.30 674.90,340.30" fill="none" stroke="#d0161e" stroke-width="2.0" stroke-linejoin="round" /><polyline points="540.10,338.30 540.50,338.30 540.90,338.30 541.30,338.30 541.70,338.30 542.10,338.30 542.50,338.30 542.90,338.30 543.30,338.30 543.70,338.30 544.10,338.30 544.50,338.30 544.90,338.30 545.30,338.30 545.70,338.30 546.10,338.30 546.50,338.30 546.90,338.30 547.30,338.30 547.70,338.30 548.10,338.30 548.50,338.30 548.90,338.30 549.30,338.30 549.70,338.30 550.10,338.30 550.50,338.30 550.90,338.30 551.30,338.30 551.70,338.30 552.10,338.30 552.50,338.30 552.90,338.30 553.30,338.30 553.70,338.30 554.10,338.30 554.50,338.30 554.90,338.30 555.30,338.30 555.70,338.30 556.10,338.30 556.50,338.30 556.90,338.31 557.30,338.31 557.70,338.31 558.10,338.31 558.50,338.31 558.90,338.31 559.30,338.31 559.70,338.31 560.10,338.31 560.50,338.31 560.90,338.31 561.30,338.31 561.70,338.31 562.10,338.31 562.50,338.31 562.90,338.32 563.30,338.32 563.70,338.32 564.10,338.32 564.50,338.32 564.90,338.32 565.30,338.32 565.70,338.32 566.10,338.33 566.50,338.33 566.90,338.33 567.30,338.33 567.70,338.33 568.10,338.33 568.50,338.34 568.90,338.34 569.30,338.34 569.70,338.34 570.10,338.35 570.50,338.35 570.90,338.35 571.30,338.35 571.70,338.36 572.10,338.36 572.50,338.36 572.90,338.37 573.30,338.37 573.70,338.37 574.10,338.38 574.50,338.38 574.90,338.39 575.30,338.39 575.70,338.39 576.10,338.40 576.50,338.40 576.90,338.41 577.30,338.41 577.70,338.41 578.10,338.42 578.50,338.42 578.90,338.43 579.30,338.43 579.70,338.43 580.10,338.43 580.50,338.44 580.90,338.44 581.30,338.44 581.70,338.44 582.10,338.43 582.50,338.43 582.90,338.42 583.30,338.42 583.70,338.40 584.10,338.39 584.50,338.37 584.90,338.35 585.30,338.32 585.70,338.29 586.10,338.25 586.50,338.20 586.90,338.15 587.30,338.08 587.70,338.00 588.10,337.91 588.50,337.80 588.90,337.68 589.30,337.54 589.70,337.38 590.10,337.19 590.50,336.98 590.90,336.73 591.30,336.46 591.70,336.14 592.10,335.79 592.50,335.39 592.90,334.94 593.30,334.43 593.70,333.87 594.10,333.24 594.50,332.54 594.90,331.76 595.30,330.89 595.70,329.94 596.10,328.89 596.50,327.73 596.90,326.46 597.30,325.08 597.70,323.56 598.10,321.92 598.50,320.14 598.90,318.21 599.30,316.14 599.70,313.91 600.10,311.52 600.50,308.97 600.90,306.26 601.30,303.39 601.70,300.35 602.10,297.16 602.50,293.82 602.90,290.34 603.30,286.73 603.70,283.00 604.10,279.17 604.50,275.25 604.90,271.28 605.30,267.27 605.70,263.25 606.10,259.25 606.50,255.31 606.90,251.45 607.30,247.73 607.70,244.16 608.10,240.79 608.50,237.67 608.90,234.81 609.30,232.26 609.70,230.06 610.10,228.22 610.50,226.77 610.90,225.73 611.30,225.12 611.70,224.94 612.10,225.20 612.50,225.89 612.90,227.00 613.30,228.53 613.70,230.45 614.10,232.73 614.50,235.35 614.90,238.28 615.30,241.48 615.70,244.91 616.10,248.54 616.50,252.33 616.90,256.25 617.30,260.25 617.70,264.30 618.10,268.37 618.50,272.44 618.90,276.46 619.30,280.42 619.70,284.30 620.10,288.07 620.50,291.72 620.90,295.23 621.30,298.61 621.70,301.83 622.10,304.89 622.50,307.79 622.90,310.53 623.30,313.10 623.70,315.52 624.10,317.77 624.50,319.86 624.90,321.81 625.30,323.61 625.70,325.27 626.10,326.80 626.50,328.20 626.90,329.48 627.30,330.65 627.70,331.72 628.10,332.69 628.50,333.56 628.90,334.36 629.30,335.07 629.70,335.71 630.10,336.29 630.50,336.80 630.90,337.26 631.30,337.67 631.70,338.04 632.10,338.36 632.50,338.65 632.90,338.90 633.30,339.13 633.70,339.32 634.10,339.50 634.50,339.65 634.90,339.78 635.30,339.89 635.70,339.99 636.10,340.08 636.50,340.16 636.90,340.22 637.30,340.28 637.70,340.33 638.10,340.37 638.50,340.40 638.90,340.43 639.30,340.46 639.70,340.48 640.10,340.50 640.50,340.52 640.90,340.53 641.30,340.54 641.70,340.55 642.10,340.56 642.50,340.57 642.90,340.57 643.30,340.58 643.70,340.58 644.10,340.58 644.50,340.59 644.90,340.59 645.30,340.59 645.70,340.59 646.10,340.59 646.50,340.60 646.90,340.60 647.30,340.60 647.70,340.60 648.10,340.60 648.50,340.60 648.90,340.60 649.30,340.60 649.70,340.60" fill="none" stroke="#1818c8" stroke-width="1.7" stroke-linejoin="round" /><polyline points="485.70,338.00 486.10,338.00 486.50,338.00 486.90,338.00 487.30,338.00 487.70,338.00 488.10,338.00 488.50,338.00 488.90,338.00 489.30,338.00 489.70,338.00 490.10,338.00 490.50,338.00 490.90,338.00 491.30,338.00 491.70,338.00 492.10,338.00 492.50,338.00 492.90,338.00 493.30,338.00 493.70,338.00 494.10,338.00 494.50,338.00 494.90,338.00 495.30,338.00 495.70,338.00 496.10,338.00 496.50,338.00 496.90,338.00 497.30,338.00 497.70,338.00 498.10,338.00 498.50,338.00 498.90,338.00 499.30,338.00 499.70,338.00 500.10,338.00 500.50,338.00 500.90,338.00 501.30,338.00 501.70,338.00 502.10,338.00 502.50,338.00 502.90,338.00 503.30,338.00 503.70,338.00 504.10,338.00 504.50,338.00 504.90,338.00 505.30,338.00 505.70,338.00 506.10,338.00 506.50,338.00 506.90,338.00 507.30,338.00 507.70,338.00 508.10,338.00 508.50,338.00 508.90,338.00 509.30,338.00 509.70,338.00 510.10,338.00 510.50,338.00 510.90,338.00 511.30,338.00 511.70,338.00 512.10,338.00 512.50,338.00 512.90,338.00 513.30,338.00 513.70,338.00 514.10,338.00 514.50,338.00 514.90,338.00 515.30,338.00 515.70,338.00 516.10,338.00 516.50,338.00 516.90,338.00 517.30,338.00 517.70,338.00 518.10,338.00 518.50,338.00 518.90,338.00 519.30,338.00 519.70,338.00 520.10,338.00 520.50,338.00 520.90,338.00 521.30,338.00 521.70,338.00 522.10,338.00 522.50,338.00 522.90,338.00 523.30,338.00 523.70,338.00 524.10,338.00 524.50,338.00 524.90,338.00 525.30,338.00 525.70,338.00 526.10,338.00 526.50,338.00 526.90,338.00 527.30,338.00 527.70,338.00 528.10,338.00 528.50,338.00 528.90,338.00 529.30,338.00 529.70,338.00 530.10,338.00 530.50,338.00 530.90,338.00 531.30,337.99 531.70,337.99 532.10,337.99 532.50,337.99 532.90,337.99 533.30,337.99 533.70,337.99 534.10,337.99 534.50,337.99 534.90,337.99 535.30,337.99 535.70,337.98 536.10,337.98 536.50,337.98 536.90,337.98 537.30,337.98 537.70,337.97 538.10,337.97 538.50,337.97 538.90,337.97 539.30,337.96 539.70,337.96 540.10,337.96 540.50,337.95 540.90,337.95 541.30,337.94 541.70,337.94 542.10,337.93 542.50,337.92 542.90,337.92 543.30,337.91 543.70,337.90 544.10,337.89 544.50,337.88 544.90,337.87 545.30,337.86 545.70,337.85 546.10,337.84 546.50,337.82 546.90,337.81 547.30,337.79 547.70,337.78 548.10,337.76 548.50,337.74 548.90,337.72 549.30,337.69 549.70,337.67 550.10,337.64 550.50,337.61 550.90,337.58 551.30,337.55 551.70,337.52 552.10,337.48 552.50,337.44 552.90,337.40 553.30,337.35 553.70,337.31 554.10,337.25 554.50,337.20 554.90,337.14 555.30,337.08 555.70,337.01 556.10,336.95 556.50,336.87 556.90,336.79 557.30,336.71 557.70,336.62 558.10,336.53 558.50,336.43 558.90,336.33 559.30,336.22 559.70,336.10 560.10,335.98 560.50,335.85 560.90,335.71 561.30,335.57 561.70,335.42 562.10,335.26 562.50,335.09 562.90,334.92 563.30,334.73 563.70,334.54 564.10,334.34 564.50,334.13 564.90,333.91 565.30,333.68 565.70,333.44 566.10,333.19 566.50,332.93 566.90,332.65 567.30,332.37 567.70,332.08 568.10,331.77 568.50,331.46 568.90,331.13 569.30,330.79 569.70,330.44 570.10,330.08 570.50,329.70 570.90,329.32 571.30,328.92 571.70,328.51 572.10,328.09 572.50,327.67 572.90,327.23 573.30,326.78 573.70,326.32 574.10,325.85 574.50,325.37 574.90,324.89 575.30,324.40 575.70,323.90 576.10,323.40 576.50,322.89 576.90,322.38 577.30,321.87 577.70,321.36 578.10,320.84 578.50,320.33 578.90,319.82 579.30,319.31 579.70,318.81 580.10,318.31 580.50,317.83 580.90,317.35 581.30,316.89 581.70,316.43 582.10,315.99 582.50,315.57 582.90,315.17 583.30,314.78 583.70,314.42 584.10,314.08 584.50,313.76 584.90,313.47 585.30,313.20 585.70,312.96 586.10,312.75 586.50,312.57 586.90,312.42 587.30,312.30 587.70,312.21 588.10,312.15 588.50,312.13 588.90,312.14 589.30,312.18 589.70,312.25 590.10,312.36 590.50,312.50 590.90,312.67 591.30,312.86 591.70,313.09 592.10,313.35 592.50,313.63 592.90,313.95 593.30,314.28 593.70,314.64 594.10,315.02 594.50,315.42 594.90,315.85 595.30,316.29 595.70,316.74 596.10,317.21 596.50,317.69 596.90,318.19 597.30,318.69 597.70,319.21 598.10,319.73 598.50,320.25 598.90,320.78 599.30,321.31 599.70,321.84 600.10,322.38 600.50,322.91 600.90,323.44 601.30,323.97 601.70,324.49 602.10,325.01 602.50,325.53 602.90,326.03 603.30,326.53 603.70,327.03 604.10,327.51 604.50,327.99 604.90,328.45 605.30,328.91 605.70,329.36 606.10,329.80 606.50,330.23 606.90,330.65 607.30,331.06 607.70,331.46 608.10,331.84 608.50,332.22 608.90,332.59 609.30,332.94 609.70,333.29 610.10,333.62 610.50,333.94 610.90,334.26 611.30,334.56 611.70,334.85 612.10,335.13 612.50,335.40 612.90,335.66 613.30,335.92 613.70,336.16 614.10,336.39 614.50,336.61 614.90,336.82 615.30,337.02 615.70,337.22 616.10,337.40 616.50,337.58 616.90,337.74 617.30,337.90 617.70,338.05 618.10,338.20 618.50,338.33 618.90,338.46 619.30,338.58 619.70,338.69 620.10,338.80 620.50,338.90 620.90,339.00 621.30,339.09 621.70,339.17 622.10,339.25 622.50,339.32 622.90,339.39 623.30,339.46 623.70,339.52 624.10,339.58 624.50,339.63 624.90,339.68 625.30,339.73 625.70,339.77 626.10,339.81 626.50,339.85 626.90,339.88 627.30,339.91 627.70,339.94 628.10,339.97 628.50,340.00 628.90,340.02 629.30,340.04 629.70,340.06 630.10,340.08 630.50,340.10 630.90,340.11 631.30,340.13 631.70,340.14 632.10,340.16 632.50,340.17 632.90,340.18 633.30,340.19 633.70,340.20 634.10,340.21 634.50,340.21 634.90,340.22 635.30,340.23 635.70,340.23 636.10,340.24 636.50,340.25 636.90,340.25 637.30,340.25 637.70,340.26 638.10,340.26 638.50,340.27 638.90,340.27 639.30,340.27 639.70,340.27 640.10,340.28 640.50,340.28 640.90,340.28 641.30,340.28 641.70,340.28 642.10,340.29 642.50,340.29 642.90,340.29 643.30,340.29 643.70,340.29 644.10,340.29 644.50,340.29 644.90,340.29 645.30,340.29 645.70,340.29 646.10,340.29 646.50,340.30 646.90,340.30 647.30,340.30 647.70,340.30 648.10,340.30 648.50,340.30 648.90,340.30 649.30,340.30 649.70,340.30 650.10,340.30 650.50,340.30 650.90,340.30 651.30,340.30 651.70,340.30 652.10,340.30 652.50,340.30 652.90,340.30 653.30,340.30 653.70,340.30 654.10,340.30 654.50,340.30 654.90,340.30 655.30,340.30 655.70,340.30 656.10,340.30 656.50,340.30 656.90,340.30 657.30,340.30 657.70,340.30 658.10,340.30 658.50,340.30 658.90,340.30 659.30,340.30 659.70,340.30 660.10,340.30 660.50,340.30 660.90,340.30 661.30,340.30 661.70,340.30 662.10,340.30 662.50,340.30 662.90,340.30 663.30,340.30 663.70,340.30 664.10,340.30 664.50,340.30 664.90,340.30 665.30,340.30 665.70,340.30 666.10,340.30 666.50,340.30 666.90,340.30 667.30,340.30 667.70,340.30 668.10,340.30 668.50,340.30 668.90,340.30 669.30,340.30 669.70,340.30 670.10,340.30 670.50,340.30 670.90,340.30 671.30,340.30 671.70,340.30 672.10,340.30 672.50,340.30 672.90,340.30 673.30,340.30 673.70,340.30 674.10,340.30 674.50,340.30 674.90,340.30" fill="none" stroke="#d61cd8" stroke-width="1.8" stroke-linejoin="round" /><rect x="485.1" y="208.9" width="190.39999999999998" height="141.20000000000002" fill="none" stroke="#151515" stroke-width="1.6"/><line x1="500.5" y1="350.1" x2="500.5" y2="353.40000000000003" stroke="#151515" stroke-width="1.1"/><text x="500.5" y="362.2" font-size="9.3" fill="#222" text-anchor="middle" >538</text><line x1="532.26" y1="350.1" x2="532.26" y2="353.40000000000003" stroke="#151515" stroke-width="1.1"/><text x="532.26" y="362.2" font-size="9.3" fill="#222" text-anchor="middle" >536</text><line x1="564.02" y1="350.1" x2="564.02" y2="353.40000000000003" stroke="#151515" stroke-width="1.1"/><text x="564.02" y="362.2" font-size="9.3" fill="#222" text-anchor="middle" >534</text><line x1="595.78" y1="350.1" x2="595.78" y2="353.40000000000003" stroke="#151515" stroke-width="1.1"/><text x="595.78" y="362.2" font-size="9.3" fill="#222" text-anchor="middle" >532</text><line x1="627.54" y1="350.1" x2="627.54" y2="353.40000000000003" stroke="#151515" stroke-width="1.1"/><text x="627.54" y="362.2" font-size="9.3" fill="#222" text-anchor="middle" >530</text><line x1="659.3" y1="350.1" x2="659.3" y2="353.40000000000003" stroke="#151515" stroke-width="1.1"/><text x="659.3" y="362.2" font-size="9.3" fill="#222" text-anchor="middle" >528</text><text x="496.2" y="226.5" font-size="8" fill="#222" stroke="#222" stroke-width="0.12" text-anchor="start" >O 1s</text><text x="496.2" y="236.3" font-size="8" fill="#222" stroke="#222" stroke-width="0.12" text-anchor="start" >ZnO/g-C<tspan font-size="7" dy="1.5">3</tspan><tspan dy="-1.50">N<tspan font-size="7" dy="1.5">4</tspan></tspan><tspan dy="-1.50">10%</tspan></text><line x1="625" y1="222.1" x2="617.75" y2="223.42" stroke="#111" stroke-width="0.8"/><polygon points="614.60,224.00 617.50,222.05 618.00,224.80" fill="#111"/><text x="628.2" y="225.2" font-size="8" fill="#222" stroke="#222" stroke-width="0.12" text-anchor="start" >531.0</text><line x1="575" y1="300.4" x2="585.22" y2="307.91" stroke="#111" stroke-width="0.8"/><polygon points="587.80,309.80 584.39,309.03 586.05,306.78" fill="#111"/><text x="551.6" y="299.3" font-size="8" fill="#222" stroke="#222" stroke-width="0.12" text-anchor="start" >532.5</text><text x="579.1" y="203.5" font-size="12" fill="#222" text-anchor="middle" >(f)</text><text x="580.0" y="378.8" font-size="11.0" fill="#222" text-anchor="middle" >Binding energy (eV)</text><text x="0" y="0" font-size="10.7" fill="#222" text-anchor="middle" transform="translate(470.0,285.6) rotate(-90)">Intensity (a.u)</text>
</svg></body></html>
